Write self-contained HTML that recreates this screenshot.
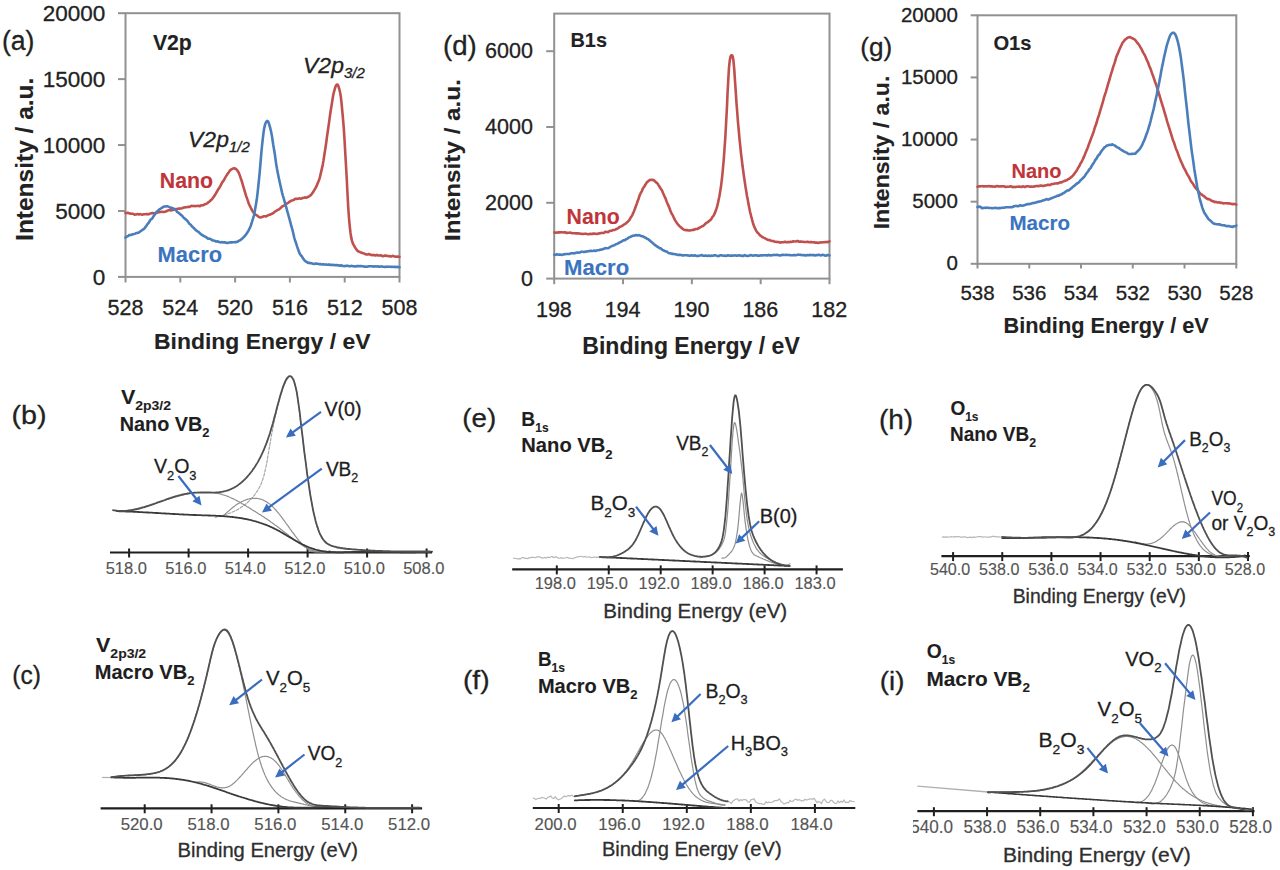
<!DOCTYPE html>
<html><head><meta charset="utf-8"><style>
html,body{margin:0;padding:0;background:#fff;}
svg{display:block;font-family:"Liberation Sans",sans-serif;}
</style></head><body>
<svg width="1280" height="870" viewBox="0 0 1280 870">
<defs><filter id="bl" x="0" y="0" width="1280" height="870" filterUnits="userSpaceOnUse"><feGaussianBlur stdDeviation="0"/></filter></defs>
<rect width="1280" height="870" fill="#fff"/>
<g>
<rect width="1280" height="870" fill="#fff"/>
<rect x="125.50" y="13.20" width="274.00" height="263.70" fill="none" stroke="#919191" stroke-width="2.0"/>
<line x1="118.00" y1="276.90" x2="125.50" y2="276.90" stroke="#919191" stroke-width="2.0"/>
<line x1="118.00" y1="210.97" x2="125.50" y2="210.97" stroke="#919191" stroke-width="2.0"/>
<line x1="118.00" y1="145.05" x2="125.50" y2="145.05" stroke="#919191" stroke-width="2.0"/>
<line x1="118.00" y1="79.12" x2="125.50" y2="79.12" stroke="#919191" stroke-width="2.0"/>
<line x1="118.00" y1="13.20" x2="125.50" y2="13.20" stroke="#919191" stroke-width="2.0"/>
<line x1="125.50" y1="276.90" x2="125.50" y2="282.50" stroke="#919191" stroke-width="2.0"/>
<line x1="180.30" y1="276.90" x2="180.30" y2="282.50" stroke="#919191" stroke-width="2.0"/>
<line x1="235.10" y1="276.90" x2="235.10" y2="282.50" stroke="#919191" stroke-width="2.0"/>
<line x1="289.90" y1="276.90" x2="289.90" y2="282.50" stroke="#919191" stroke-width="2.0"/>
<line x1="344.70" y1="276.90" x2="344.70" y2="282.50" stroke="#919191" stroke-width="2.0"/>
<line x1="399.50" y1="276.90" x2="399.50" y2="282.50" stroke="#919191" stroke-width="2.0"/>
<g transform="translate(93.60,284.70) scale(1.0000,1) translate(-0.90,0)" fill="#222222" font-weight="normal" font-style="normal" stroke="#222222" stroke-width="0.3" stroke-linejoin="round"><text x="0.00" y="0.00" font-size="22.50">0</text></g>
<g transform="translate(56.03,218.77) scale(1.0000,1) translate(-0.90,0)" fill="#222222" font-weight="normal" font-style="normal" stroke="#222222" stroke-width="0.3" stroke-linejoin="round"><text x="0.00" y="0.00" font-size="22.50">5000</text></g>
<g transform="translate(44.33,152.85) scale(1.0000,1) translate(-1.69,0)" fill="#222222" font-weight="normal" font-style="normal" stroke="#222222" stroke-width="0.3" stroke-linejoin="round"><text x="0.00" y="0.00" font-size="22.50">10000</text></g>
<g transform="translate(44.33,86.92) scale(1.0000,1) translate(-1.69,0)" fill="#222222" font-weight="normal" font-style="normal" stroke="#222222" stroke-width="0.3" stroke-linejoin="round"><text x="0.00" y="0.00" font-size="22.50">15000</text></g>
<g transform="translate(43.76,21.00) scale(1.0000,1) translate(-1.12,0)" fill="#222222" font-weight="normal" font-style="normal" stroke="#222222" stroke-width="0.3" stroke-linejoin="round"><text x="0.00" y="0.00" font-size="22.50">20000</text></g>
<g transform="translate(108.46,315.30) scale(1.0000,1) translate(-0.86,0)" fill="#222222" font-weight="normal" font-style="normal" stroke="#222222" stroke-width="0.3" stroke-linejoin="round"><text x="0.00" y="0.00" font-size="21.50">528</text></g>
<g transform="translate(163.15,315.30) scale(1.0000,1) translate(-0.86,0)" fill="#222222" font-weight="normal" font-style="normal" stroke="#222222" stroke-width="0.3" stroke-linejoin="round"><text x="0.00" y="0.00" font-size="21.50">524</text></g>
<g transform="translate(218.01,315.30) scale(1.0000,1) translate(-0.86,0)" fill="#222222" font-weight="normal" font-style="normal" stroke="#222222" stroke-width="0.3" stroke-linejoin="round"><text x="0.00" y="0.00" font-size="21.50">520</text></g>
<g transform="translate(272.86,315.30) scale(1.0000,1) translate(-0.86,0)" fill="#222222" font-weight="normal" font-style="normal" stroke="#222222" stroke-width="0.3" stroke-linejoin="round"><text x="0.00" y="0.00" font-size="21.50">516</text></g>
<g transform="translate(327.77,315.30) scale(1.0000,1) translate(-0.86,0)" fill="#222222" font-weight="normal" font-style="normal" stroke="#222222" stroke-width="0.3" stroke-linejoin="round"><text x="0.00" y="0.00" font-size="21.50">512</text></g>
<g transform="translate(382.46,315.30) scale(1.0000,1) translate(-0.86,0)" fill="#222222" font-weight="normal" font-style="normal" stroke="#222222" stroke-width="0.3" stroke-linejoin="round"><text x="0.00" y="0.00" font-size="21.50">508</text></g>
<g transform="translate(155.50,348.50) scale(0.9971,1) translate(-1.50,0)" fill="#222222" font-weight="bold" font-style="normal" stroke="#222222" stroke-width="0.1" stroke-linejoin="round"><text x="0.00" y="0.00" font-size="23.00">Binding Energy / eV</text></g>
<g transform="translate(32.50,239.30) rotate(-90) scale(1.0645,1) translate(-1.50,0)" fill="#222222" font-weight="bold" font-style="normal" stroke="#222222" stroke-width="0.1" stroke-linejoin="round"><text x="0.00" y="0.00" font-size="23.00">Intensity / a.u.</text></g>
<g transform="translate(3.50,50.30) scale(0.9686,1) translate(-1.65,0)" fill="#222222" font-weight="normal" font-style="normal" stroke="#222222" stroke-width="0.3" stroke-linejoin="round"><text x="0.00" y="0.00" font-size="27.50">(a)</text></g>
<g transform="translate(153.00,50.00) scale(0.9874,1) translate(-0.11,0)" fill="#222222" font-weight="bold" font-style="normal" stroke="#222222" stroke-width="0.1" stroke-linejoin="round"><text x="0.00" y="0.00" font-size="21.50">V2p</text></g>
<g transform="translate(190.00,147.20) scale(1.0686,1) translate(-1.83,0)" fill="#222222" font-weight="normal" font-style="italic" stroke="#222222" stroke-width="0.3" stroke-linejoin="round"><text x="0.00" y="0.00" font-size="21.50">V2p</text><text x="38.26" y="5.00" font-size="14.00">1/2</text></g>
<g transform="translate(305.00,72.80) scale(1.0686,1) translate(-1.83,0)" fill="#222222" font-weight="normal" font-style="italic" stroke="#222222" stroke-width="0.3" stroke-linejoin="round"><text x="0.00" y="0.00" font-size="21.50">V2p</text><text x="38.26" y="5.00" font-size="14.00">3/2</text></g>
<g transform="translate(161.20,187.70) scale(0.9904,1) translate(-1.40,0)" fill="#c0353a" font-weight="bold" font-style="normal" stroke="#c0353a" stroke-width="0.1" stroke-linejoin="round"><text x="0.00" y="0.00" font-size="21.50">Nano</text></g>
<g transform="translate(159.00,262.30) scale(1.0187,1) translate(-1.40,0)" fill="#3a74c0" font-weight="bold" font-style="normal" stroke="#3a74c0" stroke-width="0.1" stroke-linejoin="round"><text x="0.00" y="0.00" font-size="21.50">Macro</text></g>
<path d="M125.5,213.0 126.2,213.1 127.0,212.9 127.8,212.8 128.5,213.1 129.2,213.4 130.0,213.5 130.8,213.6 131.5,213.7 132.2,213.7 133.0,213.8 133.8,214.2 134.5,214.6 135.2,214.6 136.0,214.4 136.8,214.2 137.5,214.1 138.2,214.2 139.0,214.4 139.8,214.2 140.5,214.1 141.2,214.4 142.0,214.7 142.8,214.5 143.5,214.2 144.2,214.2 145.0,214.3 145.8,214.2 146.5,214.0 147.2,214.1 148.0,214.4 148.8,214.3 149.5,213.8 150.2,213.6 151.0,213.4 151.8,213.1 152.5,213.1 153.2,213.3 154.0,213.4 154.8,213.2 155.5,212.9 156.2,212.9 157.0,212.7 157.8,212.4 158.5,212.3 159.2,212.3 160.0,212.1 160.8,211.9 161.5,211.7 162.2,211.8 163.0,212.0 163.8,212.0 164.5,211.8 165.2,211.7 166.0,211.4 166.8,211.0 167.5,210.7 168.2,210.4 169.0,210.1 169.8,210.1 170.5,210.4 171.2,210.4 172.0,210.1 172.8,210.0 173.5,209.6 174.2,209.4 175.0,209.2 175.8,209.0 176.5,209.1 177.2,209.1 178.0,208.7 178.8,208.6 179.5,208.6 180.2,208.6 181.0,208.4 181.8,208.2 182.5,208.0 183.2,207.7 184.0,207.5 184.8,207.4 185.5,207.2 186.2,207.2 187.0,207.1 187.8,206.9 188.5,206.9 189.2,207.0 190.0,206.7 190.8,206.2 191.5,205.8 192.2,205.9 193.0,206.1 193.8,206.0 194.5,206.0 195.2,206.1 196.0,206.0 196.8,206.0 197.5,206.0 198.2,205.8 199.0,205.9 199.8,206.2 200.5,205.9 201.2,205.3 202.0,205.2 202.8,205.3 203.5,205.2 204.2,204.7 205.0,204.2 205.8,203.9 206.5,203.7 207.2,203.2 208.0,202.6 208.8,202.0 209.5,201.5 210.2,200.8 211.0,200.1 211.8,199.3 212.5,198.6 213.2,197.5 214.0,196.4 214.8,195.4 215.5,194.2 216.2,192.9 217.0,191.5 217.8,190.1 218.5,189.1 219.2,188.0 220.0,186.6 220.8,185.3 221.5,183.8 222.2,182.4 223.0,181.4 223.8,180.4 224.5,179.0 225.2,177.6 226.0,176.4 226.8,175.1 227.5,174.1 228.2,173.1 229.0,171.9 229.8,170.7 230.5,170.0 231.2,169.5 232.0,169.1 232.8,168.7 233.5,168.3 234.2,168.3 235.0,168.5 235.8,168.8 236.5,169.5 237.2,170.3 238.0,171.4 238.8,172.9 239.5,174.6 240.2,176.6 241.0,179.0 241.8,181.3 242.5,183.6 243.2,186.2 244.0,188.9 244.8,191.5 245.5,193.8 246.2,196.2 247.0,198.4 247.8,200.6 248.5,203.0 249.2,204.6 250.0,206.1 250.8,207.8 251.5,209.2 252.2,210.6 253.0,211.9 253.8,212.8 254.5,213.6 255.2,214.4 256.0,215.0 256.8,215.3 257.5,215.8 258.2,216.5 259.0,217.0 259.8,217.3 260.5,217.5 261.2,217.3 262.0,217.0 262.8,216.7 263.5,216.4 264.2,216.3 265.0,216.3 265.8,216.4 266.5,216.2 267.2,215.7 268.0,215.3 268.8,214.9 269.5,214.7 270.2,214.6 271.0,214.1 271.8,213.8 272.5,213.6 273.2,213.2 274.0,212.4 274.8,211.7 275.5,211.3 276.2,210.8 277.0,210.4 277.8,209.9 278.5,209.6 279.2,209.1 280.0,208.5 280.8,207.8 281.5,207.1 282.2,206.5 283.0,206.1 283.8,205.8 284.5,205.3 285.2,204.8 286.0,204.1 286.8,203.6 287.5,203.2 288.2,202.7 289.0,202.1 289.8,201.6 290.5,201.1 291.2,200.7 292.0,200.5 292.8,200.3 293.5,200.1 294.2,199.6 295.0,198.9 295.8,198.8 296.5,198.9 297.2,198.7 298.0,198.7 298.8,198.6 299.5,198.3 300.2,198.5 301.0,198.7 301.8,198.4 302.5,198.0 303.2,197.9 304.0,197.7 304.8,197.4 305.5,197.5 306.2,197.8 307.0,197.4 307.8,197.0 308.5,196.7 309.2,196.3 310.0,195.7 310.8,195.2 311.5,194.3 312.2,193.4 313.0,192.3 313.8,190.9 314.5,189.8 315.2,188.7 316.0,187.2 316.8,185.6 317.5,183.8 318.2,182.0 319.0,180.2 319.8,177.6 320.5,174.6 321.2,171.6 322.0,168.1 322.8,164.4 323.5,160.4 324.2,155.8 325.0,150.8 325.8,145.8 326.5,140.5 327.2,135.1 328.0,129.7 328.8,124.4 329.5,119.2 330.2,114.0 331.0,108.8 331.8,104.1 332.5,99.5 333.2,95.2 334.0,91.8 334.8,88.9 335.5,86.7 336.2,85.3 337.0,84.6 337.8,84.8 338.5,86.4 339.2,88.8 340.0,91.9 340.8,96.5 341.5,102.7 342.2,110.2 343.0,118.8 343.8,128.3 344.5,139.4 345.2,151.9 346.0,165.5 346.8,179.8 347.5,193.8 348.2,206.9 349.0,218.2 349.8,226.8 350.5,232.9 351.2,237.4 352.0,240.9 352.8,243.3 353.5,244.7 354.2,245.9 355.0,247.4 355.8,248.5 356.5,249.5 357.2,250.5 358.0,251.1 358.8,251.5 359.5,251.8 360.2,252.3 361.0,252.5 361.8,252.7 362.5,253.0 363.2,253.2 364.0,253.4 364.8,253.8 365.5,254.2 366.2,254.4 367.0,254.5 367.8,254.5 368.5,254.1 369.2,254.0 370.0,254.5 370.8,254.9 371.5,255.0 372.2,255.1 373.0,255.1 373.8,254.9 374.5,255.2 375.2,255.5 376.0,255.2 376.8,254.9 377.5,255.2 378.2,255.4 379.0,255.5 379.8,255.5 380.5,255.4 381.2,255.4 382.0,255.9 382.8,256.3 383.5,256.1 384.2,255.8 385.0,255.6 385.8,255.5 386.5,255.8 387.2,256.0 388.0,256.0 388.8,256.1 389.5,256.3 390.2,256.4 391.0,256.4 391.8,256.2 392.5,255.9 393.2,256.0 394.0,256.3 394.8,256.5 395.5,256.7 396.2,256.8 397.0,256.6 397.8,256.6 398.5,256.7 399.2,256.8 399.5,256.8" fill="none" stroke="#c0504d" stroke-width="2.6" stroke-linejoin="round" stroke-linecap="round" />
<path d="M125.5,237.6 126.2,237.0 127.0,236.5 127.8,236.2 128.5,235.7 129.2,235.1 130.0,235.0 130.8,235.0 131.5,234.7 132.2,234.4 133.0,234.3 133.8,234.1 134.5,233.9 135.2,233.6 136.0,233.2 136.8,233.0 137.5,232.9 138.2,232.8 139.0,232.4 139.8,231.7 140.5,231.2 141.2,230.8 142.0,230.2 142.8,229.6 143.5,229.3 144.2,228.6 145.0,227.6 145.8,226.6 146.5,225.7 147.2,224.5 148.0,223.5 148.8,222.7 149.5,221.5 150.2,220.1 151.0,219.3 151.8,218.8 152.5,218.0 153.2,216.8 154.0,215.6 154.8,214.5 155.5,213.5 156.2,212.5 157.0,211.6 157.8,210.8 158.5,210.2 159.2,209.6 160.0,209.0 160.8,208.5 161.5,208.0 162.2,207.7 163.0,207.2 163.8,206.6 164.5,206.5 165.2,206.5 166.0,206.4 166.8,206.3 167.5,206.3 168.2,206.6 169.0,206.9 169.8,207.3 170.5,207.7 171.2,207.8 172.0,207.9 172.8,208.2 173.5,208.6 174.2,209.1 175.0,209.8 175.8,210.2 176.5,210.9 177.2,211.9 178.0,212.4 178.8,213.0 179.5,213.6 180.2,214.3 181.0,214.9 181.8,215.5 182.5,216.2 183.2,217.1 184.0,218.0 184.8,218.6 185.5,219.2 186.2,219.8 187.0,220.5 187.8,221.4 188.5,222.6 189.2,223.6 190.0,224.2 190.8,224.8 191.5,225.8 192.2,226.6 193.0,227.3 193.8,228.1 194.5,228.7 195.2,229.5 196.0,230.3 196.8,230.9 197.5,231.3 198.2,231.8 199.0,232.4 199.8,233.2 200.5,233.9 201.2,234.4 202.0,234.9 202.8,235.4 203.5,235.9 204.2,236.3 205.0,236.6 205.8,237.0 206.5,237.4 207.2,238.0 208.0,238.6 208.8,238.7 209.5,238.6 210.2,238.9 211.0,239.3 211.8,240.0 212.5,240.4 213.2,240.4 214.0,240.6 214.8,240.9 215.5,241.2 216.2,241.6 217.0,241.4 217.8,241.4 218.5,241.8 219.2,242.1 220.0,242.3 220.8,242.4 221.5,242.1 222.2,242.1 223.0,242.4 223.8,242.5 224.5,242.3 225.2,242.4 226.0,242.8 226.8,242.9 227.5,242.9 228.2,242.9 229.0,242.6 229.8,242.4 230.5,242.4 231.2,242.4 232.0,242.4 232.8,242.3 233.5,242.3 234.2,242.2 235.0,242.1 235.8,242.1 236.5,242.1 237.2,241.8 238.0,241.3 238.8,240.8 239.5,240.4 240.2,240.2 241.0,239.7 241.8,238.9 242.5,238.3 243.2,237.6 244.0,236.8 244.8,236.0 245.5,235.2 246.2,234.2 247.0,232.9 247.8,231.8 248.5,230.6 249.2,229.2 250.0,227.6 250.8,225.7 251.5,223.5 252.2,221.1 253.0,218.6 253.8,215.9 254.5,212.7 255.2,208.8 256.0,204.3 256.8,199.3 257.5,193.6 258.2,187.0 259.0,179.4 259.8,171.2 260.5,162.9 261.2,154.4 262.0,146.0 262.8,138.7 263.5,132.8 264.2,128.2 265.0,124.8 265.8,122.6 266.5,121.5 267.2,120.9 268.0,121.4 268.8,123.1 269.5,125.3 270.2,127.9 271.0,131.2 271.8,135.2 272.5,139.7 273.2,144.5 274.0,149.2 274.8,154.0 275.5,159.1 276.2,164.1 277.0,168.8 277.8,172.9 278.5,176.4 279.2,179.7 280.0,183.4 280.8,187.0 281.5,190.1 282.2,193.1 283.0,196.1 283.8,198.6 284.5,201.2 285.2,203.7 286.0,206.4 286.8,209.4 287.5,212.0 288.2,214.4 289.0,217.3 289.8,220.1 290.5,222.9 291.2,225.7 292.0,228.4 292.8,231.2 293.5,234.3 294.2,237.5 295.0,240.2 295.8,242.3 296.5,244.5 297.2,246.9 298.0,249.1 298.8,251.2 299.5,253.1 300.2,254.5 301.0,255.4 301.8,256.4 302.5,257.6 303.2,258.6 304.0,259.6 304.8,260.6 305.5,261.3 306.2,261.6 307.0,262.1 307.8,262.7 308.5,262.9 309.2,262.8 310.0,263.1 310.8,263.3 311.5,263.3 312.2,263.5 313.0,263.8 313.8,264.0 314.5,263.9 315.2,263.6 316.0,263.6 316.8,263.8 317.5,263.8 318.2,263.9 319.0,264.1 319.8,264.1 320.5,264.0 321.2,264.2 322.0,264.4 322.8,264.4 323.5,264.4 324.2,264.5 325.0,264.5 325.8,264.5 326.5,264.6 327.2,264.8 328.0,264.7 328.8,264.4 329.5,264.7 330.2,265.0 331.0,264.9 331.8,264.9 332.5,265.0 333.2,264.9 334.0,265.0 334.8,265.3 335.5,265.3 336.2,265.0 337.0,265.1 337.8,265.4 338.5,265.3 339.2,265.5 340.0,265.8 340.8,265.4 341.5,265.3 342.2,265.9 343.0,266.0 343.8,266.0 344.5,266.1 345.2,266.0 346.0,265.9 346.8,265.8 347.5,265.8 348.2,265.9 349.0,266.1 349.8,266.2 350.5,266.1 351.2,265.9 352.0,266.0 352.8,266.3 353.5,266.2 354.2,266.2 355.0,266.4 355.8,266.5 356.5,266.3 357.2,266.0 358.0,266.0 358.8,266.3 359.5,266.3 360.2,266.0 361.0,266.0 361.8,266.2 362.5,266.3 363.2,266.4 364.0,266.6 364.8,266.6 365.5,266.6 366.2,266.8 367.0,266.7 367.8,266.5 368.5,266.4 369.2,266.3 370.0,266.2 370.8,266.3 371.5,266.3 372.2,266.3 373.0,266.6 373.8,266.5 374.5,266.2 375.2,266.4 376.0,266.5 376.8,266.5 377.5,266.4 378.2,266.4 379.0,266.8 379.8,266.8 380.5,266.5 381.2,266.4 382.0,266.6 382.8,266.8 383.5,266.7 384.2,266.8 385.0,267.0 385.8,266.9 386.5,266.7 387.2,266.6 388.0,266.7 388.8,266.7 389.5,266.7 390.2,266.8 391.0,266.9 391.8,266.8 392.5,266.8 393.2,267.0 394.0,267.0 394.8,266.7 395.5,266.8 396.2,267.1 397.0,267.0 397.8,266.9 398.5,267.1 399.2,267.3 399.5,267.1" fill="none" stroke="#4a7ebb" stroke-width="2.6" stroke-linejoin="round" stroke-linecap="round" />
<rect x="554.20" y="13.60" width="275.30" height="265.00" fill="none" stroke="#919191" stroke-width="2.0"/>
<line x1="546.20" y1="278.60" x2="554.20" y2="278.60" stroke="#919191" stroke-width="2.0"/>
<line x1="546.20" y1="202.80" x2="554.20" y2="202.80" stroke="#919191" stroke-width="2.0"/>
<line x1="546.20" y1="127.00" x2="554.20" y2="127.00" stroke="#919191" stroke-width="2.0"/>
<line x1="546.20" y1="51.20" x2="554.20" y2="51.20" stroke="#919191" stroke-width="2.0"/>
<line x1="554.20" y1="278.60" x2="554.20" y2="284.20" stroke="#919191" stroke-width="2.0"/>
<line x1="623.03" y1="278.60" x2="623.03" y2="284.20" stroke="#919191" stroke-width="2.0"/>
<line x1="691.85" y1="278.60" x2="691.85" y2="284.20" stroke="#919191" stroke-width="2.0"/>
<line x1="760.67" y1="278.60" x2="760.67" y2="284.20" stroke="#919191" stroke-width="2.0"/>
<line x1="829.50" y1="278.60" x2="829.50" y2="284.20" stroke="#919191" stroke-width="2.0"/>
<g transform="translate(521.88,285.60) scale(1.0000,1) translate(-0.86,0)" fill="#222222" font-weight="normal" font-style="normal" stroke="#222222" stroke-width="0.3" stroke-linejoin="round"><text x="0.00" y="0.00" font-size="21.50">0</text></g>
<g transform="translate(486.19,209.80) scale(1.0000,1) translate(-1.07,0)" fill="#222222" font-weight="normal" font-style="normal" stroke="#222222" stroke-width="0.3" stroke-linejoin="round"><text x="0.00" y="0.00" font-size="21.50">2000</text></g>
<g transform="translate(485.55,134.00) scale(1.0000,1) translate(-0.43,0)" fill="#222222" font-weight="normal" font-style="normal" stroke="#222222" stroke-width="0.3" stroke-linejoin="round"><text x="0.00" y="0.00" font-size="21.50">4000</text></g>
<g transform="translate(486.19,58.20) scale(1.0000,1) translate(-1.07,0)" fill="#222222" font-weight="normal" font-style="normal" stroke="#222222" stroke-width="0.3" stroke-linejoin="round"><text x="0.00" y="0.00" font-size="21.50">6000</text></g>
<g transform="translate(537.54,317.30) scale(1.0000,1) translate(-1.61,0)" fill="#222222" font-weight="normal" font-style="normal" stroke="#222222" stroke-width="0.3" stroke-linejoin="round"><text x="0.00" y="0.00" font-size="21.50">198</text></g>
<g transform="translate(606.26,317.30) scale(1.0000,1) translate(-1.61,0)" fill="#222222" font-weight="normal" font-style="normal" stroke="#222222" stroke-width="0.3" stroke-linejoin="round"><text x="0.00" y="0.00" font-size="21.50">194</text></g>
<g transform="translate(675.13,317.30) scale(1.0000,1) translate(-1.61,0)" fill="#222222" font-weight="normal" font-style="normal" stroke="#222222" stroke-width="0.3" stroke-linejoin="round"><text x="0.00" y="0.00" font-size="21.50">190</text></g>
<g transform="translate(744.01,317.30) scale(1.0000,1) translate(-1.61,0)" fill="#222222" font-weight="normal" font-style="normal" stroke="#222222" stroke-width="0.3" stroke-linejoin="round"><text x="0.00" y="0.00" font-size="21.50">186</text></g>
<g transform="translate(812.95,317.30) scale(1.0000,1) translate(-1.61,0)" fill="#222222" font-weight="normal" font-style="normal" stroke="#222222" stroke-width="0.3" stroke-linejoin="round"><text x="0.00" y="0.00" font-size="21.50">182</text></g>
<g transform="translate(583.80,353.50) scale(1.0017,1) translate(-1.50,0)" fill="#222222" font-weight="bold" font-style="normal" stroke="#222222" stroke-width="0.1" stroke-linejoin="round"><text x="0.00" y="0.00" font-size="23.00">Binding Energy / eV</text></g>
<g transform="translate(460.00,239.30) rotate(-90) scale(1.1032,1) translate(-1.43,0)" fill="#222222" font-weight="bold" font-style="normal" stroke="#222222" stroke-width="0.1" stroke-linejoin="round"><text x="0.00" y="0.00" font-size="22.00">Intensity / a.u.</text></g>
<g transform="translate(444.60,54.60) scale(1.0050,1) translate(-1.65,0)" fill="#222222" font-weight="normal" font-style="normal" stroke="#222222" stroke-width="0.3" stroke-linejoin="round"><text x="0.00" y="0.00" font-size="27.50">(d)</text></g>
<g transform="translate(571.80,46.70) scale(0.9469,1) translate(-1.36,0)" fill="#222222" font-weight="bold" font-style="normal" stroke="#222222" stroke-width="0.1" stroke-linejoin="round"><text x="0.00" y="0.00" font-size="21.00">B1s</text></g>
<g transform="translate(568.00,223.50) scale(0.9904,1) translate(-1.40,0)" fill="#c0353a" font-weight="bold" font-style="normal" stroke="#c0353a" stroke-width="0.1" stroke-linejoin="round"><text x="0.00" y="0.00" font-size="21.50">Nano</text></g>
<g transform="translate(565.50,275.20) scale(1.0285,1) translate(-1.40,0)" fill="#3a74c0" font-weight="bold" font-style="normal" stroke="#3a74c0" stroke-width="0.1" stroke-linejoin="round"><text x="0.00" y="0.00" font-size="21.50">Macro</text></g>
<path d="M554.3,232.5 555.0,232.6 555.8,232.7 556.5,232.5 557.3,232.5 558.0,232.6 558.8,232.3 559.5,232.2 560.3,232.4 561.0,232.3 561.8,232.2 562.5,232.3 563.3,232.5 564.0,232.5 564.8,232.3 565.5,232.4 566.3,233.0 567.0,233.0 567.8,232.7 568.5,232.7 569.3,232.7 570.0,232.6 570.8,232.7 571.5,232.9 572.3,233.3 573.0,233.3 573.8,233.2 574.5,233.2 575.3,233.2 576.0,233.4 576.8,233.4 577.5,233.4 578.3,233.4 579.0,233.5 579.8,233.6 580.5,233.7 581.3,233.8 582.0,233.9 582.8,234.0 583.5,234.0 584.3,233.8 585.0,233.7 585.8,233.8 586.5,233.9 587.3,234.1 588.0,234.2 588.8,234.2 589.5,234.0 590.3,233.8 591.0,233.9 591.8,234.1 592.5,233.9 593.3,233.5 594.0,233.5 594.8,233.7 595.5,233.8 596.3,233.9 597.0,234.0 597.8,233.8 598.5,233.5 599.3,233.4 600.0,233.4 600.8,233.1 601.5,232.9 602.3,233.0 603.0,233.0 603.8,232.9 604.5,232.4 605.3,231.9 606.0,231.9 606.8,231.9 607.5,232.1 608.3,232.1 609.0,231.4 609.8,230.9 610.5,230.7 611.3,230.8 612.0,230.5 612.8,230.1 613.5,230.0 614.3,230.0 615.0,229.7 615.8,229.3 616.5,229.0 617.3,228.7 618.0,228.2 618.8,227.6 619.5,227.1 620.3,226.7 621.0,226.4 621.8,226.1 622.5,225.6 623.3,225.0 624.0,224.5 624.8,224.1 625.5,223.7 626.3,223.0 627.0,222.3 627.8,221.7 628.5,221.0 629.3,220.1 630.0,218.8 630.8,217.4 631.5,216.4 632.3,215.1 633.0,213.4 633.8,211.7 634.5,209.9 635.3,207.8 636.0,205.7 636.8,203.7 637.5,201.6 638.3,199.6 639.0,197.3 639.8,195.0 640.5,193.4 641.3,192.2 642.0,190.7 642.8,188.8 643.5,187.5 644.3,186.6 645.0,185.3 645.8,184.0 646.5,182.8 647.3,181.9 648.0,181.4 648.8,180.8 649.5,180.1 650.3,179.9 651.0,180.0 651.8,179.9 652.5,179.9 653.3,180.0 654.0,180.4 654.8,181.1 655.5,181.9 656.3,182.5 657.0,183.1 657.8,183.9 658.5,185.1 659.3,186.3 660.0,187.6 660.8,188.7 661.5,189.7 662.3,191.1 663.0,193.0 663.8,194.7 664.5,196.3 665.3,197.8 666.0,199.7 666.8,201.9 667.5,203.6 668.3,205.2 669.0,207.1 669.8,209.0 670.5,211.0 671.3,212.8 672.0,214.1 672.8,215.4 673.5,217.0 674.3,218.6 675.0,220.1 675.8,221.4 676.5,222.5 677.3,223.5 678.0,224.5 678.8,225.4 679.5,226.2 680.3,226.8 681.0,227.4 681.8,228.1 682.5,228.7 683.3,229.3 684.0,229.7 684.8,229.9 685.5,230.1 686.3,230.0 687.0,230.0 687.8,230.4 688.5,230.5 689.3,230.5 690.0,230.4 690.8,230.3 691.5,230.2 692.3,230.0 693.0,229.9 693.8,229.9 694.5,229.5 695.3,229.1 696.0,229.0 696.8,229.0 697.5,228.9 698.3,228.5 699.0,227.9 699.8,227.5 700.5,227.2 701.3,226.8 702.0,226.3 702.8,226.0 703.5,225.6 704.3,224.8 705.0,224.1 705.8,223.4 706.5,222.8 707.3,222.4 708.0,222.0 708.8,221.4 709.5,220.7 710.3,220.0 711.0,219.4 711.8,218.2 712.5,216.9 713.3,216.0 714.0,214.8 714.8,213.2 715.5,211.2 716.3,209.2 717.0,206.9 717.8,203.9 718.5,200.5 719.3,196.8 720.0,192.6 720.8,187.8 721.5,182.3 722.3,175.5 723.0,167.8 723.8,159.0 724.5,149.0 725.3,137.8 726.0,124.9 726.8,110.2 727.5,94.4 728.3,79.4 729.0,67.6 729.8,60.2 730.5,56.5 731.3,55.2 732.0,55.2 732.8,56.7 733.5,61.3 734.3,69.8 735.0,80.8 735.8,92.3 736.5,103.1 737.3,113.2 738.0,122.4 738.8,130.8 739.5,138.9 740.3,146.4 741.0,153.3 741.8,159.7 742.5,165.8 743.3,171.4 744.0,176.8 744.8,182.0 745.5,186.8 746.3,191.5 747.0,196.0 747.8,200.1 748.5,204.1 749.3,208.1 750.0,211.6 750.8,214.8 751.5,217.7 752.3,220.5 753.0,223.2 753.8,225.5 754.5,227.4 755.3,228.9 756.0,230.4 756.8,231.7 757.5,232.6 758.3,233.3 759.0,234.2 759.8,235.1 760.5,235.6 761.3,236.2 762.0,236.8 762.8,237.3 763.5,237.6 764.3,237.9 765.0,238.2 765.8,238.8 766.5,239.3 767.3,239.5 768.0,239.9 768.8,240.1 769.5,240.1 770.3,240.3 771.0,240.7 771.8,241.0 772.5,241.0 773.3,241.0 774.0,241.4 774.8,241.7 775.5,241.8 776.3,241.9 777.0,242.0 777.8,242.0 778.5,242.0 779.3,242.3 780.0,242.6 780.8,242.5 781.5,242.2 782.3,242.2 783.0,242.3 783.8,242.3 784.5,241.7 785.3,241.8 786.0,242.3 786.8,242.2 787.5,242.0 788.3,242.1 789.0,242.1 789.8,242.0 790.5,241.9 791.3,242.0 792.0,241.8 792.8,241.4 793.5,241.4 794.3,241.5 795.0,241.5 795.8,241.5 796.5,241.3 797.3,240.9 798.0,241.2 798.8,241.7 799.5,241.7 800.3,241.5 801.0,241.6 801.8,241.8 802.5,241.7 803.3,241.8 804.0,242.0 804.8,242.0 805.5,242.0 806.3,242.0 807.0,241.9 807.8,241.8 808.5,242.0 809.3,242.2 810.0,242.1 810.8,242.1 811.5,242.1 812.3,242.2 813.0,242.2 813.8,242.2 814.5,242.5 815.3,242.6 816.0,242.6 816.8,242.5 817.5,242.8 818.3,243.0 819.0,242.7 819.8,242.4 820.5,242.5 821.3,242.5 822.0,242.4 822.8,242.3 823.5,242.2 824.3,242.2 825.0,242.1 825.8,242.0 826.5,242.0 827.3,242.1 828.0,242.2 828.8,241.7 829.5,241.3" fill="none" stroke="#c0504d" stroke-width="2.6" stroke-linejoin="round" stroke-linecap="round" />
<path d="M554.3,254.8 555.0,254.9 555.8,254.8 556.5,254.4 557.3,254.3 558.0,254.7 558.8,254.8 559.5,254.6 560.3,254.6 561.0,254.8 561.8,254.9 562.5,254.7 563.3,254.4 564.0,254.4 564.8,254.3 565.5,254.1 566.3,254.0 567.0,254.0 567.8,254.0 568.5,254.0 569.3,254.0 570.0,253.8 570.8,253.4 571.5,253.3 572.3,253.3 573.0,253.2 573.8,253.4 574.5,253.3 575.3,253.0 576.0,252.9 576.8,252.6 577.5,252.4 578.3,252.7 579.0,252.7 579.8,252.5 580.5,252.1 581.3,251.7 582.0,251.7 582.8,251.8 583.5,252.0 584.3,252.0 585.0,251.7 585.8,251.5 586.5,251.6 587.3,251.4 588.0,251.2 588.8,251.3 589.5,251.1 590.3,250.8 591.0,250.8 591.8,251.0 592.5,251.0 593.3,250.8 594.0,250.6 594.8,250.7 595.5,251.0 596.3,250.8 597.0,250.3 597.8,250.3 598.5,250.3 599.3,250.0 600.0,249.7 600.8,249.6 601.5,249.6 602.3,249.4 603.0,249.1 603.8,248.9 604.5,248.4 605.3,248.1 606.0,248.3 606.8,248.3 607.5,248.2 608.3,248.1 609.0,247.8 609.8,247.2 610.5,246.7 611.3,246.3 612.0,245.9 612.8,245.7 613.5,245.5 614.3,245.3 615.0,244.8 615.8,244.2 616.5,244.0 617.3,243.7 618.0,243.4 618.8,242.9 619.5,242.5 620.3,242.2 621.0,241.8 621.8,241.3 622.5,240.9 623.3,240.4 624.0,240.3 624.8,240.2 625.5,239.6 626.3,239.2 627.0,238.9 627.8,238.3 628.5,237.7 629.3,237.3 630.0,237.1 630.8,236.8 631.5,236.3 632.3,235.9 633.0,235.8 633.8,235.8 634.5,235.5 635.3,235.2 636.0,235.0 636.8,235.2 637.5,235.5 638.3,235.3 639.0,235.1 639.8,235.4 640.5,235.8 641.3,236.1 642.0,236.2 642.8,236.3 643.5,236.7 644.3,237.1 645.0,237.5 645.8,237.9 646.5,238.3 647.3,238.8 648.0,239.2 648.8,239.7 649.5,240.3 650.3,241.0 651.0,241.6 651.8,242.2 652.5,242.9 653.3,243.6 654.0,244.2 654.8,244.8 655.5,245.4 656.3,245.9 657.0,246.5 657.8,246.9 658.5,247.3 659.3,248.0 660.0,248.2 660.8,248.3 661.5,249.1 662.3,249.7 663.0,250.2 663.8,250.5 664.5,250.9 665.3,251.3 666.0,251.4 666.8,251.6 667.5,252.2 668.3,252.8 669.0,253.2 669.8,253.3 670.5,253.4 671.3,253.6 672.0,253.9 672.8,253.9 673.5,253.9 674.3,254.1 675.0,254.2 675.8,254.2 676.5,254.5 677.3,254.7 678.0,254.9 678.8,254.9 679.5,254.9 680.3,254.9 681.0,255.0 681.8,255.2 682.5,255.4 683.3,255.4 684.0,255.3 684.8,255.2 685.5,255.2 686.3,255.2 687.0,255.2 687.8,255.4 688.5,255.5 689.3,255.7 690.0,255.8 690.8,255.6 691.5,255.3 692.3,255.3 693.0,255.7 693.8,255.7 694.5,255.3 695.3,255.4 696.0,255.7 696.8,255.9 697.5,256.0 698.3,255.9 699.0,255.8 699.8,255.6 700.5,255.4 701.3,255.1 702.0,255.1 702.8,255.7 703.5,255.8 704.3,255.7 705.0,255.6 705.8,255.6 706.5,255.8 707.3,256.0 708.0,255.8 708.8,255.6 709.5,255.8 710.3,256.0 711.0,255.7 711.8,255.6 712.5,255.7 713.3,255.7 714.0,255.4 714.8,255.3 715.5,255.3 716.3,255.6 717.0,255.9 717.8,256.1 718.5,256.1 719.3,255.7 720.0,255.4 720.8,255.3 721.5,255.3 722.3,255.6 723.0,255.8 723.8,255.7 724.5,255.6 725.3,255.7 726.0,255.9 726.8,255.8 727.5,255.4 728.3,255.3 729.0,255.5 729.8,255.7 730.5,255.6 731.3,255.6 732.0,255.8 732.8,255.6 733.5,255.5 734.3,255.5 735.0,255.4 735.8,255.5 736.5,255.6 737.3,255.6 738.0,255.5 738.8,255.4 739.5,255.4 740.3,255.6 741.0,255.6 741.8,255.7 742.5,255.9 743.3,256.0 744.0,255.5 744.8,255.1 745.5,255.4 746.3,255.8 747.0,256.0 747.8,256.0 748.5,255.8 749.3,255.7 750.0,255.3 750.8,255.1 751.5,255.2 752.3,255.5 753.0,255.7 753.8,255.5 754.5,255.4 755.3,255.3 756.0,255.3 756.8,255.5 757.5,255.7 758.3,255.6 759.0,255.5 759.8,255.6 760.5,255.4 761.3,255.4 762.0,255.5 762.8,255.4 763.5,255.3 764.3,255.3 765.0,255.3 765.8,255.3 766.5,255.4 767.3,255.5 768.0,255.1 768.8,254.9 769.5,255.3 770.3,255.4 771.0,255.4 771.8,255.3 772.5,255.2 773.3,255.0 774.0,254.9 774.8,255.0 775.5,255.0 776.3,254.9 777.0,254.9 777.8,255.1 778.5,255.1 779.3,255.2 780.0,255.4 780.8,255.4 781.5,255.1 782.3,254.8 783.0,254.9 783.8,255.0 784.5,255.0 785.3,255.0 786.0,254.9 786.8,254.9 787.5,255.0 788.3,255.0 789.0,255.0 789.8,255.1 790.5,255.2 791.3,255.3 792.0,255.3 792.8,255.2 793.5,255.1 794.3,255.1 795.0,255.3 795.8,255.3 796.5,255.1 797.3,254.9 798.0,254.6 798.8,254.7 799.5,254.8 800.3,254.9 801.0,255.0 801.8,255.0 802.5,255.1 803.3,255.2 804.0,255.1 804.8,255.2 805.5,255.5 806.3,255.4 807.0,255.1 807.8,255.1 808.5,255.3 809.3,255.2 810.0,254.7 810.8,254.9 811.5,255.2 812.3,255.1 813.0,254.9 813.8,255.1 814.5,255.5 815.3,255.4 816.0,255.1 816.8,255.0 817.5,255.1 818.3,254.9 819.0,254.8 819.8,255.1 820.5,255.4 821.3,255.3 822.0,255.0 822.8,254.9 823.5,255.0 824.3,255.2 825.0,255.5 825.8,255.7 826.5,255.4 827.3,255.0 828.0,255.1 828.8,255.4 829.5,255.5" fill="none" stroke="#4a7ebb" stroke-width="2.6" stroke-linejoin="round" stroke-linecap="round" />
<rect x="977.50" y="15.30" width="258.80" height="248.50" fill="none" stroke="#919191" stroke-width="2.0"/>
<line x1="970.70" y1="263.80" x2="977.50" y2="263.80" stroke="#919191" stroke-width="2.0"/>
<line x1="970.70" y1="201.68" x2="977.50" y2="201.68" stroke="#919191" stroke-width="2.0"/>
<line x1="970.70" y1="139.55" x2="977.50" y2="139.55" stroke="#919191" stroke-width="2.0"/>
<line x1="970.70" y1="77.43" x2="977.50" y2="77.43" stroke="#919191" stroke-width="2.0"/>
<line x1="970.70" y1="15.30" x2="977.50" y2="15.30" stroke="#919191" stroke-width="2.0"/>
<line x1="977.50" y1="263.80" x2="977.50" y2="268.50" stroke="#919191" stroke-width="2.0"/>
<line x1="1029.26" y1="263.80" x2="1029.26" y2="268.50" stroke="#919191" stroke-width="2.0"/>
<line x1="1081.02" y1="263.80" x2="1081.02" y2="268.50" stroke="#919191" stroke-width="2.0"/>
<line x1="1132.78" y1="263.80" x2="1132.78" y2="268.50" stroke="#919191" stroke-width="2.0"/>
<line x1="1184.54" y1="263.80" x2="1184.54" y2="268.50" stroke="#919191" stroke-width="2.0"/>
<line x1="1236.30" y1="263.80" x2="1236.30" y2="268.50" stroke="#919191" stroke-width="2.0"/>
<g transform="translate(947.36,270.20) scale(1.0000,1) translate(-0.82,0)" fill="#222222" font-weight="normal" font-style="normal" stroke="#222222" stroke-width="0.3" stroke-linejoin="round"><text x="0.00" y="0.00" font-size="20.50">0</text></g>
<g transform="translate(913.12,208.08) scale(1.0000,1) translate(-0.82,0)" fill="#222222" font-weight="normal" font-style="normal" stroke="#222222" stroke-width="0.3" stroke-linejoin="round"><text x="0.00" y="0.00" font-size="20.50">5000</text></g>
<g transform="translate(902.47,145.95) scale(1.0000,1) translate(-1.54,0)" fill="#222222" font-weight="normal" font-style="normal" stroke="#222222" stroke-width="0.3" stroke-linejoin="round"><text x="0.00" y="0.00" font-size="20.50">10000</text></g>
<g transform="translate(902.47,83.83) scale(1.0000,1) translate(-1.54,0)" fill="#222222" font-weight="normal" font-style="normal" stroke="#222222" stroke-width="0.3" stroke-linejoin="round"><text x="0.00" y="0.00" font-size="20.50">15000</text></g>
<g transform="translate(901.95,21.70) scale(1.0000,1) translate(-1.03,0)" fill="#222222" font-weight="normal" font-style="normal" stroke="#222222" stroke-width="0.3" stroke-linejoin="round"><text x="0.00" y="0.00" font-size="20.50">20000</text></g>
<g transform="translate(961.25,299.80) scale(1.0000,1) translate(-0.82,0)" fill="#222222" font-weight="normal" font-style="normal" stroke="#222222" stroke-width="0.3" stroke-linejoin="round"><text x="0.00" y="0.00" font-size="20.50">538</text></g>
<g transform="translate(1013.01,299.80) scale(1.0000,1) translate(-0.82,0)" fill="#222222" font-weight="normal" font-style="normal" stroke="#222222" stroke-width="0.3" stroke-linejoin="round"><text x="0.00" y="0.00" font-size="20.50">536</text></g>
<g transform="translate(1064.67,299.80) scale(1.0000,1) translate(-0.82,0)" fill="#222222" font-weight="normal" font-style="normal" stroke="#222222" stroke-width="0.3" stroke-linejoin="round"><text x="0.00" y="0.00" font-size="20.50">534</text></g>
<g transform="translate(1116.64,299.80) scale(1.0000,1) translate(-0.82,0)" fill="#222222" font-weight="normal" font-style="normal" stroke="#222222" stroke-width="0.3" stroke-linejoin="round"><text x="0.00" y="0.00" font-size="20.50">532</text></g>
<g transform="translate(1168.24,299.80) scale(1.0000,1) translate(-0.82,0)" fill="#222222" font-weight="normal" font-style="normal" stroke="#222222" stroke-width="0.3" stroke-linejoin="round"><text x="0.00" y="0.00" font-size="20.50">530</text></g>
<g transform="translate(1220.05,299.80) scale(1.0000,1) translate(-0.82,0)" fill="#222222" font-weight="normal" font-style="normal" stroke="#222222" stroke-width="0.3" stroke-linejoin="round"><text x="0.00" y="0.00" font-size="20.50">528</text></g>
<g transform="translate(1005.00,332.50) scale(0.9876,1) translate(-1.43,0)" fill="#222222" font-weight="bold" font-style="normal" stroke="#222222" stroke-width="0.1" stroke-linejoin="round"><text x="0.00" y="0.00" font-size="22.00">Binding Energy / eV</text></g>
<g transform="translate(889.00,227.80) rotate(-90) scale(1.0475,1) translate(-1.43,0)" fill="#222222" font-weight="bold" font-style="normal" stroke="#222222" stroke-width="0.1" stroke-linejoin="round"><text x="0.00" y="0.00" font-size="22.00">Intensity / a.u.</text></g>
<g transform="translate(861.80,56.30) scale(0.9880,1) translate(-1.59,0)" fill="#222222" font-weight="normal" font-style="normal" stroke="#222222" stroke-width="0.3" stroke-linejoin="round"><text x="0.00" y="0.00" font-size="26.50">(g)</text></g>
<g transform="translate(994.20,49.50) scale(0.9837,1) translate(-0.82,0)" fill="#222222" font-weight="bold" font-style="normal" stroke="#222222" stroke-width="0.1" stroke-linejoin="round"><text x="0.00" y="0.00" font-size="20.50">O1s</text></g>
<g transform="translate(1012.80,178.30) scale(0.9776,1) translate(-1.33,0)" fill="#c0353a" font-weight="bold" font-style="normal" stroke="#c0353a" stroke-width="0.1" stroke-linejoin="round"><text x="0.00" y="0.00" font-size="20.50">Nano</text></g>
<g transform="translate(1010.80,230.40) scale(1.0048,1) translate(-1.33,0)" fill="#3a74c0" font-weight="bold" font-style="normal" stroke="#3a74c0" stroke-width="0.1" stroke-linejoin="round"><text x="0.00" y="0.00" font-size="20.50">Macro</text></g>
<path d="M977.5,186.7 978.2,186.5 979.0,186.4 979.8,186.4 980.5,186.3 981.2,186.3 982.0,186.2 982.8,186.1 983.5,186.4 984.2,186.5 985.0,186.3 985.8,186.3 986.5,186.4 987.2,186.3 988.0,186.2 988.8,186.1 989.5,186.3 990.2,186.5 991.0,186.3 991.8,186.3 992.5,186.6 993.2,186.5 994.0,186.5 994.8,186.7 995.5,186.5 996.2,186.2 997.0,186.1 997.8,186.1 998.5,186.4 999.2,186.5 1000.0,186.4 1000.8,186.5 1001.5,186.4 1002.2,186.3 1003.0,186.2 1003.8,186.2 1004.5,186.5 1005.2,186.9 1006.0,187.0 1006.8,186.8 1007.5,186.8 1008.2,186.8 1009.0,186.7 1009.8,186.5 1010.5,186.2 1011.2,186.3 1012.0,186.8 1012.8,187.2 1013.5,186.9 1014.2,186.9 1015.0,187.1 1015.8,187.0 1016.5,186.8 1017.2,186.8 1018.0,186.7 1018.8,186.6 1019.5,186.5 1020.2,186.7 1021.0,186.9 1021.8,186.9 1022.5,186.6 1023.2,186.3 1024.0,186.7 1024.8,187.0 1025.5,186.7 1026.2,186.4 1027.0,186.3 1027.8,186.3 1028.5,186.3 1029.2,186.5 1030.0,186.7 1030.8,186.6 1031.5,186.6 1032.2,186.8 1033.0,186.8 1033.8,186.5 1034.5,186.4 1035.2,186.4 1036.0,186.1 1036.8,185.9 1037.5,186.1 1038.2,186.3 1039.0,186.0 1039.8,185.7 1040.5,185.6 1041.2,185.6 1042.0,185.7 1042.8,185.9 1043.5,185.9 1044.2,185.7 1045.0,185.5 1045.8,185.4 1046.5,185.2 1047.2,184.9 1048.0,184.8 1048.8,184.9 1049.5,185.1 1050.2,184.9 1051.0,184.4 1051.8,184.1 1052.5,184.0 1053.2,184.0 1054.0,183.8 1054.8,183.5 1055.5,183.5 1056.2,183.5 1057.0,183.4 1057.8,183.4 1058.5,183.2 1059.2,182.7 1060.0,182.4 1060.8,182.4 1061.5,182.4 1062.2,182.0 1063.0,181.5 1063.8,181.3 1064.5,181.1 1065.2,180.7 1066.0,180.4 1066.8,180.3 1067.5,179.7 1068.2,179.1 1069.0,178.8 1069.8,178.3 1070.5,177.7 1071.2,177.1 1072.0,176.5 1072.8,175.7 1073.5,174.9 1074.2,173.9 1075.0,172.8 1075.8,171.8 1076.5,170.7 1077.2,169.6 1078.0,168.2 1078.8,166.8 1079.5,165.7 1080.2,164.1 1081.0,162.7 1081.8,161.4 1082.5,160.0 1083.2,158.4 1084.0,156.6 1084.8,154.7 1085.5,152.9 1086.2,151.2 1087.0,149.4 1087.8,147.5 1088.5,145.5 1089.2,143.4 1090.0,141.4 1090.8,139.3 1091.5,137.4 1092.2,135.6 1093.0,133.6 1093.8,131.2 1094.5,128.7 1095.2,126.5 1096.0,124.5 1096.8,122.0 1097.5,119.4 1098.2,117.2 1099.0,114.9 1099.8,112.1 1100.5,109.8 1101.2,107.4 1102.0,104.8 1102.8,102.2 1103.5,99.5 1104.2,96.9 1105.0,94.5 1105.8,92.1 1106.5,89.6 1107.2,87.1 1108.0,84.3 1108.8,81.8 1109.5,79.5 1110.2,76.8 1111.0,74.1 1111.8,71.7 1112.5,69.3 1113.2,66.9 1114.0,64.6 1114.8,62.4 1115.5,59.9 1116.2,57.3 1117.0,55.3 1117.8,53.6 1118.5,51.8 1119.2,50.0 1120.0,48.2 1120.8,46.5 1121.5,45.0 1122.2,43.4 1123.0,42.1 1123.8,41.3 1124.5,40.2 1125.2,39.5 1126.0,39.1 1126.8,38.3 1127.5,37.7 1128.2,37.5 1129.0,37.2 1129.8,37.0 1130.5,37.4 1131.2,37.8 1132.0,38.1 1132.8,38.5 1133.5,38.8 1134.2,39.2 1135.0,39.8 1135.8,40.7 1136.5,41.7 1137.2,42.6 1138.0,43.6 1138.8,44.5 1139.5,45.6 1140.2,46.9 1141.0,48.2 1141.8,49.6 1142.5,51.1 1143.2,52.6 1144.0,53.9 1144.8,55.2 1145.5,56.7 1146.2,58.6 1147.0,60.3 1147.8,61.9 1148.5,63.8 1149.2,65.8 1150.0,67.6 1150.8,69.5 1151.5,71.6 1152.2,73.7 1153.0,75.8 1153.8,78.1 1154.5,80.2 1155.2,82.2 1156.0,84.3 1156.8,86.7 1157.5,88.9 1158.2,91.2 1159.0,94.0 1159.8,96.5 1160.5,98.9 1161.2,101.3 1162.0,103.9 1162.8,106.4 1163.5,108.7 1164.2,111.1 1165.0,113.8 1165.8,116.4 1166.5,119.0 1167.2,121.6 1168.0,124.1 1168.8,126.6 1169.5,128.8 1170.2,131.1 1171.0,133.7 1171.8,136.3 1172.5,138.7 1173.2,140.7 1174.0,142.6 1174.8,145.0 1175.5,147.4 1176.2,149.2 1177.0,151.1 1177.8,153.1 1178.5,155.1 1179.2,157.0 1180.0,159.0 1180.8,160.9 1181.5,162.5 1182.2,164.1 1183.0,165.9 1183.8,167.6 1184.5,168.9 1185.2,170.2 1186.0,171.7 1186.8,173.4 1187.5,174.7 1188.2,175.7 1189.0,177.1 1189.8,178.8 1190.5,180.3 1191.2,181.5 1192.0,182.6 1192.8,183.5 1193.5,184.6 1194.2,186.0 1195.0,187.1 1195.8,188.1 1196.5,189.0 1197.2,189.7 1198.0,190.6 1198.8,191.8 1199.5,192.7 1200.2,193.4 1201.0,194.1 1201.8,194.6 1202.5,195.2 1203.2,195.7 1204.0,196.2 1204.8,197.0 1205.5,197.7 1206.2,198.1 1207.0,198.6 1207.8,199.1 1208.5,199.1 1209.2,199.3 1210.0,199.7 1210.8,200.2 1211.5,200.9 1212.2,201.1 1213.0,201.1 1213.8,201.5 1214.5,202.1 1215.2,202.0 1216.0,201.9 1216.8,202.3 1217.5,202.5 1218.2,202.5 1219.0,202.4 1219.8,202.5 1220.5,202.9 1221.2,202.8 1222.0,202.8 1222.8,203.2 1223.5,203.4 1224.2,203.3 1225.0,203.3 1225.8,203.3 1226.5,203.2 1227.2,203.2 1228.0,203.4 1228.8,203.4 1229.5,203.5 1230.2,203.6 1231.0,203.7 1231.8,204.1 1232.5,204.3 1233.2,204.0 1234.0,203.9 1234.8,204.1 1235.5,204.2 1236.2,204.5 1236.3,204.7" fill="none" stroke="#c0504d" stroke-width="2.6" stroke-linejoin="round" stroke-linecap="round" />
<path d="M977.5,207.0 978.2,207.0 979.0,206.7 979.8,206.6 980.5,207.0 981.2,207.7 982.0,208.2 982.8,208.1 983.5,208.0 984.2,207.8 985.0,207.8 985.8,207.9 986.5,207.7 987.2,207.6 988.0,207.7 988.8,207.9 989.5,208.0 990.2,208.0 991.0,208.0 991.8,208.1 992.5,208.2 993.2,208.1 994.0,208.0 994.8,208.0 995.5,207.8 996.2,207.9 997.0,208.2 997.8,208.3 998.5,208.1 999.2,208.0 1000.0,208.1 1000.8,208.0 1001.5,207.9 1002.2,207.8 1003.0,207.7 1003.8,207.7 1004.5,207.6 1005.2,207.4 1006.0,207.3 1006.8,207.3 1007.5,207.2 1008.2,207.3 1009.0,207.3 1009.8,207.2 1010.5,207.1 1011.2,207.2 1012.0,207.3 1012.8,206.9 1013.5,206.4 1014.2,206.4 1015.0,206.1 1015.8,205.9 1016.5,206.0 1017.2,206.1 1018.0,206.3 1018.8,206.1 1019.5,205.6 1020.2,205.3 1021.0,205.6 1021.8,205.7 1022.5,205.6 1023.2,205.5 1024.0,205.3 1024.8,205.0 1025.5,204.7 1026.2,204.6 1027.0,204.2 1027.8,204.1 1028.5,204.3 1029.2,204.1 1030.0,203.9 1030.8,203.8 1031.5,203.6 1032.2,203.3 1033.0,203.1 1033.8,202.9 1034.5,202.9 1035.2,202.7 1036.0,202.4 1036.8,202.3 1037.5,202.0 1038.2,201.7 1039.0,201.6 1039.8,201.5 1040.5,201.3 1041.2,201.2 1042.0,200.9 1042.8,200.5 1043.5,200.2 1044.2,200.1 1045.0,199.9 1045.8,199.4 1046.5,199.1 1047.2,199.3 1048.0,199.7 1048.8,199.4 1049.5,199.0 1050.2,198.9 1051.0,198.4 1051.8,198.0 1052.5,197.9 1053.2,197.6 1054.0,197.2 1054.8,196.8 1055.5,196.7 1056.2,196.4 1057.0,195.9 1057.8,195.6 1058.5,195.8 1059.2,195.5 1060.0,194.7 1060.8,194.5 1061.5,194.4 1062.2,193.8 1063.0,193.3 1063.8,193.1 1064.5,192.5 1065.2,191.9 1066.0,191.4 1066.8,190.8 1067.5,190.4 1068.2,190.5 1069.0,190.3 1069.8,189.6 1070.5,188.9 1071.2,188.4 1072.0,187.7 1072.8,186.8 1073.5,186.4 1074.2,186.0 1075.0,185.3 1075.8,184.4 1076.5,183.9 1077.2,183.5 1078.0,182.8 1078.8,182.3 1079.5,181.6 1080.2,180.6 1081.0,179.8 1081.8,179.2 1082.5,178.5 1083.2,177.7 1084.0,177.0 1084.8,176.0 1085.5,174.9 1086.2,173.8 1087.0,172.8 1087.8,171.8 1088.5,170.7 1089.2,169.5 1090.0,168.7 1090.8,167.7 1091.5,166.4 1092.2,165.1 1093.0,164.0 1093.8,162.8 1094.5,161.5 1095.2,160.1 1096.0,159.1 1096.8,158.1 1097.5,156.7 1098.2,155.5 1099.0,154.8 1099.8,154.0 1100.5,152.7 1101.2,151.5 1102.0,150.4 1102.8,149.5 1103.5,148.6 1104.2,147.6 1105.0,147.0 1105.8,146.5 1106.5,145.8 1107.2,145.5 1108.0,145.3 1108.8,145.0 1109.5,144.9 1110.2,145.0 1111.0,144.9 1111.8,144.5 1112.5,144.4 1113.2,144.8 1114.0,145.2 1114.8,145.5 1115.5,146.1 1116.2,146.7 1117.0,147.2 1117.8,147.5 1118.5,147.7 1119.2,148.3 1120.0,149.0 1120.8,149.5 1121.5,150.0 1122.2,150.3 1123.0,150.8 1123.8,151.4 1124.5,151.7 1125.2,152.1 1126.0,152.4 1126.8,152.7 1127.5,153.3 1128.2,153.7 1129.0,154.0 1129.8,154.0 1130.5,154.0 1131.2,154.0 1132.0,153.9 1132.8,153.7 1133.5,153.8 1134.2,153.8 1135.0,153.7 1135.8,153.1 1136.5,152.2 1137.2,151.6 1138.0,150.8 1138.8,150.0 1139.5,149.3 1140.2,148.3 1141.0,147.0 1141.8,145.6 1142.5,144.1 1143.2,142.4 1144.0,140.8 1144.8,139.1 1145.5,137.0 1146.2,135.0 1147.0,133.1 1147.8,130.7 1148.5,128.3 1149.2,126.0 1150.0,123.4 1150.8,120.3 1151.5,117.3 1152.2,114.5 1153.0,111.5 1153.8,108.3 1154.5,104.9 1155.2,101.5 1156.0,98.1 1156.8,94.5 1157.5,90.7 1158.2,87.2 1159.0,83.4 1159.8,79.3 1160.5,75.4 1161.2,71.5 1162.0,67.3 1162.8,63.4 1163.5,59.9 1164.2,56.5 1165.0,53.2 1165.8,49.8 1166.5,46.6 1167.2,44.1 1168.0,41.7 1168.8,39.2 1169.5,37.1 1170.2,35.4 1171.0,34.1 1171.8,33.3 1172.5,32.9 1173.2,32.6 1174.0,32.9 1174.8,33.8 1175.5,34.8 1176.2,36.5 1177.0,38.9 1177.8,41.6 1178.5,44.5 1179.2,48.1 1180.0,52.3 1180.8,57.1 1181.5,62.4 1182.2,68.0 1183.0,73.9 1183.8,80.5 1184.5,87.2 1185.2,93.8 1186.0,100.9 1186.8,107.9 1187.5,114.7 1188.2,121.5 1189.0,128.4 1189.8,134.8 1190.5,140.8 1191.2,146.9 1192.0,152.9 1192.8,158.1 1193.5,163.1 1194.2,168.4 1195.0,173.5 1195.8,178.1 1196.5,182.5 1197.2,186.8 1198.0,190.5 1198.8,194.1 1199.5,197.7 1200.2,200.5 1201.0,203.0 1201.8,205.8 1202.5,208.1 1203.2,210.0 1204.0,212.0 1204.8,213.6 1205.5,214.6 1206.2,215.6 1207.0,216.8 1207.8,218.0 1208.5,219.1 1209.2,219.7 1210.0,220.3 1210.8,221.0 1211.5,221.7 1212.2,222.4 1213.0,223.2 1213.8,223.4 1214.5,223.7 1215.2,223.9 1216.0,224.1 1216.8,224.2 1217.5,224.3 1218.2,224.4 1219.0,224.3 1219.8,224.4 1220.5,224.7 1221.2,225.1 1222.0,225.3 1222.8,225.3 1223.5,225.3 1224.2,225.4 1225.0,225.5 1225.8,225.9 1226.5,226.1 1227.2,226.1 1228.0,226.0 1228.8,226.0 1229.5,226.3 1230.2,226.5 1231.0,226.6 1231.8,226.8 1232.5,227.0 1233.2,226.6 1234.0,226.2 1234.8,226.2 1235.5,226.2 1236.2,225.7 1236.3,225.5" fill="none" stroke="#4a7ebb" stroke-width="2.6" stroke-linejoin="round" stroke-linecap="round" />
<line x1="110.00" y1="552.50" x2="432.00" y2="552.50" stroke="#1f1f1f" stroke-width="2.2"/>
<line x1="129.10" y1="548.50" x2="129.10" y2="557.50" stroke="#1f1f1f" stroke-width="2.0"/>
<line x1="188.60" y1="548.50" x2="188.60" y2="557.50" stroke="#1f1f1f" stroke-width="2.0"/>
<line x1="248.10" y1="548.50" x2="248.10" y2="557.50" stroke="#1f1f1f" stroke-width="2.0"/>
<line x1="307.60" y1="548.50" x2="307.60" y2="557.50" stroke="#1f1f1f" stroke-width="2.0"/>
<line x1="367.10" y1="548.50" x2="367.10" y2="557.50" stroke="#1f1f1f" stroke-width="2.0"/>
<line x1="426.60" y1="548.50" x2="426.60" y2="557.50" stroke="#1f1f1f" stroke-width="2.0"/>
<g transform="translate(106.30,574.00) scale(0.9997,1) translate(-0.66,0)" fill="#555555" font-weight="normal" font-style="normal" stroke="#555555" stroke-width="0.15" stroke-linejoin="round"><text x="0.00" y="0.00" font-size="16.50">518.0</text></g>
<g transform="translate(165.80,574.00) scale(0.9997,1) translate(-0.66,0)" fill="#555555" font-weight="normal" font-style="normal" stroke="#555555" stroke-width="0.15" stroke-linejoin="round"><text x="0.00" y="0.00" font-size="16.50">516.0</text></g>
<g transform="translate(225.30,574.00) scale(0.9997,1) translate(-0.66,0)" fill="#555555" font-weight="normal" font-style="normal" stroke="#555555" stroke-width="0.15" stroke-linejoin="round"><text x="0.00" y="0.00" font-size="16.50">514.0</text></g>
<g transform="translate(284.80,574.00) scale(0.9997,1) translate(-0.66,0)" fill="#555555" font-weight="normal" font-style="normal" stroke="#555555" stroke-width="0.15" stroke-linejoin="round"><text x="0.00" y="0.00" font-size="16.50">512.0</text></g>
<g transform="translate(344.30,574.00) scale(0.9997,1) translate(-0.66,0)" fill="#555555" font-weight="normal" font-style="normal" stroke="#555555" stroke-width="0.15" stroke-linejoin="round"><text x="0.00" y="0.00" font-size="16.50">510.0</text></g>
<g transform="translate(403.80,574.00) scale(0.9997,1) translate(-0.66,0)" fill="#555555" font-weight="normal" font-style="normal" stroke="#555555" stroke-width="0.15" stroke-linejoin="round"><text x="0.00" y="0.00" font-size="16.50">508.0</text></g>
<g transform="translate(13.20,423.60) scale(1.0840,1) translate(-1.59,0)" fill="#222222" font-weight="normal" font-style="normal" stroke="#222222" stroke-width="0.3" stroke-linejoin="round"><text x="0.00" y="0.00" font-size="26.50">(b)</text></g>
<g transform="translate(121.00,404.00) scale(1.0776,1) translate(-0.10,0)" fill="#1e1e1e" font-weight="bold" font-style="normal" stroke="#1e1e1e" stroke-width="0.1" stroke-linejoin="round"><text x="0.00" y="0.00" font-size="20.00">V</text><text x="13.34" y="6.00" font-size="13.00">2p3/2</text></g>
<g transform="translate(121.00,430.80) scale(0.9917,1) translate(-1.30,0)" fill="#1e1e1e" font-weight="bold" font-style="normal" stroke="#1e1e1e" stroke-width="0.1" stroke-linejoin="round"><text x="0.00" y="0.00" font-size="20.00">Nano VB</text><text x="83.34" y="6.50" font-size="13.00">2</text></g>
<g transform="translate(154.00,473.40) scale(0.9550,1) translate(-0.10,0)" fill="#1e1e1e" font-weight="normal" font-style="normal" stroke="#1e1e1e" stroke-width="0.3" stroke-linejoin="round"><text x="0.00" y="0.00" font-size="20.50">V</text><text x="13.67" y="6.50" font-size="13.50">2</text><text x="21.18" y="0.00" font-size="20.50">O</text><text x="37.13" y="6.50" font-size="13.50">3</text></g>
<g transform="translate(324.50,416.30) scale(0.9595,1) translate(-0.10,0)" fill="#1e1e1e" font-weight="normal" font-style="normal" stroke="#1e1e1e" stroke-width="0.3" stroke-linejoin="round"><text x="0.00" y="0.00" font-size="20.50">V(0)</text></g>
<g transform="translate(326.00,475.50) scale(0.9277,1) translate(-0.10,0)" fill="#1e1e1e" font-weight="normal" font-style="normal" stroke="#1e1e1e" stroke-width="0.3" stroke-linejoin="round"><text x="0.00" y="0.00" font-size="20.50">VB</text><text x="27.35" y="6.50" font-size="13.50">2</text></g>
<path d="M215.0,517.3 215.8,517.2 216.5,517.0 217.2,516.8 218.0,516.6 218.8,516.4 219.5,516.2 220.2,516.0 221.0,515.8 221.8,515.6 222.5,515.4 223.2,515.2 224.0,515.0 224.8,514.8 225.5,514.5 226.2,514.3 227.0,514.0 227.8,513.8 228.5,513.5 229.2,513.3 230.0,513.0 230.8,512.7 231.5,512.4 232.2,512.1 233.0,511.8 233.8,511.4 234.5,511.1 235.2,510.7 236.0,510.4 236.8,510.0 237.5,509.6 238.2,509.2 239.0,508.7 239.8,508.3 240.5,507.8 241.2,507.3 242.0,506.8 242.8,506.3 243.5,505.7 244.2,505.2 245.0,504.6 245.8,504.0 246.5,503.3 247.2,502.7 248.0,502.0 248.8,501.3 249.5,500.6 250.2,499.8 251.0,499.0 251.8,498.2 252.5,497.4 253.2,496.5 254.0,495.6 254.8,494.6 255.5,493.6 256.2,492.5 257.0,491.4 257.8,490.2 258.5,489.0 259.2,487.7 260.0,486.3 260.8,484.7 261.5,482.9 262.2,480.9 263.0,478.7 263.8,476.2 264.5,473.4 265.2,470.2 266.0,466.7 266.8,462.8 267.5,458.6 268.2,454.2 269.0,449.7 269.8,445.2 270.5,440.8 271.2,436.6 272.0,432.5 272.8,428.7 273.5,425.0 274.2,421.4 275.0,417.9 275.8,414.6 276.5,411.4 277.2,408.3 278.0,405.3 278.8,402.5 279.5,399.7 280.2,397.1 281.0,394.6 281.8,392.3 282.5,390.0 283.2,387.8 284.0,385.8 284.8,384.0 285.5,382.3 286.2,380.8 287.0,379.4 287.8,378.4 288.5,377.5 289.2,376.9 290.0,376.5 290.8,376.5 291.5,376.7 292.2,377.3 293.0,378.3 293.8,379.8 294.5,381.8 295.2,384.6 296.0,388.1 296.8,392.4 297.5,397.4 298.2,402.9 299.0,408.8 299.8,414.8 300.5,420.9 301.2,426.9 302.0,432.9 302.8,438.9 303.5,444.9 304.2,450.7 305.0,456.5 305.8,462.2 306.5,467.8 307.2,473.3 308.0,478.6 308.8,483.7 309.5,488.7 310.2,493.6 311.0,498.2 311.8,502.6 312.5,506.8 313.2,510.8 314.0,514.5 314.8,518.0 315.5,521.2 316.2,524.1 317.0,526.6 317.8,529.0 318.5,531.0 319.2,532.8 320.0,534.4 320.8,535.8 321.5,537.0 322.2,538.1 323.0,539.1 323.8,539.9 324.5,540.7 325.2,541.4 326.0,542.0 326.8,542.6 327.5,543.2 328.2,543.8 329.0,544.3 329.8,544.8 330.5,545.2 331.2,545.6 332.0,546.0 332.8,546.4 333.5,546.7 334.2,547.0 335.0,547.3 335.8,547.5 336.5,547.7 337.2,547.9 338.0,548.1 338.8,548.3 339.5,548.4 340.2,548.5 341.0,548.7 341.8,548.8 342.5,548.8 343.2,548.9 344.0,549.0 344.8,549.0 345.5,549.1 346.2,549.1 347.0,549.2 347.8,549.2 348.5,549.2 349.2,549.3 349.9,549.3" fill="none" stroke="#a0a0a0" stroke-width="1.1" stroke-linejoin="round" stroke-linecap="round" stroke-dasharray="3,1.5"/>
<path d="M117.5,511.4 118.2,511.4 119.0,511.3 119.8,511.3 120.5,511.3 121.2,511.2 122.0,511.1 122.8,511.1 123.5,511.0 124.2,510.9 125.0,510.8 125.8,510.7 126.5,510.6 127.2,510.5 128.0,510.4 128.8,510.2 129.5,510.1 130.2,510.0 131.0,509.8 131.8,509.7 132.5,509.6 133.2,509.4 134.0,509.2 134.8,509.1 135.5,508.9 136.2,508.7 137.0,508.6 137.8,508.4 138.5,508.2 139.2,508.0 140.0,507.8 140.8,507.6 141.5,507.4 142.2,507.2 143.0,507.0 143.8,506.8 144.5,506.6 145.2,506.4 146.0,506.2 146.8,505.9 147.5,505.7 148.2,505.5 149.0,505.3 149.8,505.0 150.5,504.8 151.2,504.6 152.0,504.3 152.8,504.1 153.5,503.9 154.2,503.6 155.0,503.4 155.8,503.2 156.5,502.9 157.2,502.7 158.0,502.4 158.8,502.2 159.5,501.9 160.2,501.7 161.0,501.5 161.8,501.2 162.5,501.0 163.2,500.7 164.0,500.5 164.8,500.3 165.5,500.0 166.2,499.8 167.0,499.5 167.8,499.3 168.5,499.1 169.2,498.8 170.0,498.6 170.8,498.4 171.5,498.2 172.2,497.9 173.0,497.7 173.8,497.5 174.5,497.3 175.2,497.0 176.0,496.8 176.8,496.6 177.5,496.4 178.2,496.2 179.0,496.0 179.8,495.8 180.5,495.6 181.2,495.4 182.0,495.2 182.8,495.1 183.5,494.9 184.2,494.7 185.0,494.5 185.8,494.4 186.5,494.2 187.2,494.1 188.0,493.9 188.8,493.8 189.5,493.6 190.2,493.5 191.0,493.4 191.8,493.2 192.5,493.1 193.2,493.0 194.0,492.9 194.8,492.8 195.5,492.7 196.2,492.6 197.0,492.5 197.8,492.4 198.5,492.4 199.2,492.3 200.0,492.3 200.8,492.2 201.5,492.2 202.2,492.1 203.0,492.1 203.8,492.1 204.5,492.1 205.2,492.1 206.0,492.1 206.8,492.1 207.5,492.1 208.2,492.2 209.0,492.2 209.8,492.2 210.5,492.3 211.2,492.4 212.0,492.4 212.8,492.5 213.5,492.6 214.2,492.7 215.0,492.8 215.8,493.0 216.5,493.1 217.2,493.2 218.0,493.4 218.8,493.6 219.5,493.7 220.2,493.9 221.0,494.1 221.8,494.3 222.5,494.6 223.2,494.8 224.0,495.0 224.8,495.3 225.5,495.5 226.2,495.8 227.0,496.1 227.8,496.4 228.5,496.7 229.2,497.0 230.0,497.3 230.8,497.7 231.5,498.0 232.2,498.4 233.0,498.7 233.8,499.1 234.5,499.5 235.2,499.8 236.0,500.2 236.8,500.6 237.5,501.0 238.2,501.4 239.0,501.8 239.8,502.3 240.5,502.7 241.2,503.1 242.0,503.6 242.8,504.0 243.5,504.4 244.2,504.9 245.0,505.3 245.8,505.8 246.5,506.2 247.2,506.7 248.0,507.1 248.8,507.6 249.5,508.1 250.2,508.5 251.0,509.0 251.8,509.5 252.5,509.9 253.2,510.4 254.0,510.9 254.8,511.3 255.5,511.8 256.2,512.3 257.0,512.7 257.8,513.2 258.5,513.7 259.2,514.2 260.0,514.6 260.8,515.1 261.5,515.6 262.2,516.1 263.0,516.6 263.8,517.1 264.5,517.6 265.2,518.1 266.0,518.6 266.8,519.1 267.5,519.6 268.2,520.1 269.0,520.6 269.8,521.1 270.5,521.7 271.2,522.2 272.0,522.7 272.8,523.2 273.5,523.8 274.2,524.3 275.0,524.9 275.8,525.4 276.5,526.0 277.2,526.5 278.0,527.1 278.8,527.7 279.5,528.3 280.2,528.8 281.0,529.4 281.8,530.0 282.5,530.6 283.2,531.2 284.0,531.8 284.8,532.4 285.5,533.0 286.2,533.5 287.0,534.1 287.8,534.7 288.5,535.3 289.2,535.9 290.0,536.5 290.8,537.1 291.5,537.6 292.2,538.2 293.0,538.8 293.8,539.3 294.5,539.9 295.2,540.5 296.0,541.0 296.8,541.5 297.5,542.1 298.2,542.6 299.0,543.1 299.8,543.6 300.5,544.1 301.2,544.6 302.0,545.1 302.8,545.5 303.5,546.0 304.2,546.4 305.0,546.9 305.8,547.3 306.5,547.7 307.2,548.1 308.0,548.5 308.8,548.8 309.5,549.2 310.2,549.5 311.0,549.8 311.8,550.1 312.5,550.4 313.2,550.6 314.0,550.9 314.8,551.1 315.5,551.3 316.2,551.5 317.0,551.7 317.8,551.8 318.5,551.9 319.2,552.0 320.0,552.1 320.8,552.2 321.5,552.2 322.2,552.2 323.0,552.2 323.8,552.2 324.5,552.1 325.2,552.0 326.0,551.9 326.8,551.7 327.5,551.6 328.2,551.4 329.0,551.1 329.8,550.9 330.0,550.8" fill="none" stroke="#8f8f8f" stroke-width="1.2" stroke-linejoin="round" stroke-linecap="round" />
<path d="M222.5,516.7 223.2,516.0 224.0,515.2 224.8,514.5 225.5,513.8 226.2,513.1 227.0,512.4 227.8,511.7 228.5,511.1 229.2,510.4 230.0,509.8 230.8,509.1 231.5,508.5 232.2,507.9 233.0,507.3 233.8,506.7 234.5,506.2 235.2,505.6 236.0,505.1 236.8,504.6 237.5,504.1 238.2,503.6 239.0,503.2 239.8,502.7 240.5,502.3 241.2,501.9 242.0,501.5 242.8,501.2 243.5,500.8 244.2,500.5 245.0,500.2 245.8,499.9 246.5,499.7 247.2,499.4 248.0,499.2 248.8,499.0 249.5,498.8 250.2,498.7 251.0,498.6 251.8,498.4 252.5,498.4 253.2,498.3 254.0,498.3 254.8,498.3 255.5,498.3 256.2,498.4 257.0,498.4 257.8,498.5 258.5,498.7 259.2,498.8 260.0,499.0 260.8,499.2 261.5,499.5 262.2,499.7 263.0,500.0 263.8,500.4 264.5,500.7 265.2,501.1 266.0,501.5 266.8,502.0 267.5,502.5 268.2,503.0 269.0,503.6 269.8,504.1 270.5,504.8 271.2,505.4 272.0,506.1 272.8,506.8 273.5,507.6 274.2,508.3 275.0,509.1 275.8,510.0 276.5,510.8 277.2,511.7 278.0,512.6 278.8,513.5 279.5,514.5 280.2,515.4 281.0,516.4 281.8,517.4 282.5,518.4 283.2,519.4 284.0,520.4 284.8,521.5 285.5,522.5 286.2,523.6 287.0,524.6 287.8,525.6 288.5,526.7 289.2,527.7 290.0,528.8 290.8,529.8 291.5,530.9 292.2,531.9 293.0,532.9 293.8,533.9 294.5,534.9 295.2,535.9 296.0,536.9 296.8,537.8 297.5,538.8 298.2,539.7 299.0,540.6 299.8,541.4 300.5,542.3 301.2,543.1 302.0,543.9 302.8,544.7 303.5,545.4 304.2,546.1 305.0,546.8 305.8,547.4 306.5,548.0 307.2,548.6 308.0,549.1 308.8,549.6 309.5,550.0 310.2,550.4 311.0,550.8 311.8,551.1 312.5,551.4 313.2,551.6 314.0,551.7 314.8,551.8 315.5,551.9 316.2,551.9 317.0,551.8 317.8,551.7 318.5,551.5 319.2,551.2 320.0,550.9" fill="none" stroke="#8f8f8f" stroke-width="1.2" stroke-linejoin="round" stroke-linecap="round" />
<path d="M116.9,511.2 117.7,511.2 118.4,511.2 119.2,511.3 119.9,511.3 120.7,511.3 121.4,511.3 122.2,511.3 122.9,511.4 123.7,511.4 124.4,511.4 125.2,511.4 125.9,511.5 126.7,511.5 127.4,511.5 128.2,511.6 128.9,511.6 129.7,511.6 130.4,511.6 131.2,511.7 131.9,511.7 132.7,511.7 133.4,511.8 134.2,511.8 134.9,511.8 135.7,511.9 136.4,511.9 137.2,511.9 137.9,512.0 138.7,512.0 139.4,512.1 140.2,512.1 140.9,512.1 141.7,512.2 142.4,512.2 143.2,512.3 143.9,512.3 144.7,512.3 145.4,512.4 146.2,512.4 146.9,512.5 147.7,512.5 148.4,512.5 149.2,512.6 149.9,512.6 150.7,512.7 151.4,512.7 152.2,512.7 152.9,512.8 153.7,512.8 154.4,512.9 155.2,512.9 155.9,513.0 156.7,513.0 157.4,513.0 158.2,513.1 158.9,513.1 159.7,513.2 160.4,513.2 161.2,513.3 161.9,513.3 162.7,513.4 163.4,513.4 164.2,513.4 164.9,513.5 165.7,513.5 166.4,513.6 167.2,513.6 167.9,513.7 168.7,513.7 169.4,513.7 170.2,513.8 170.9,513.8 171.7,513.9 172.4,513.9 173.2,514.0 173.9,514.0 174.7,514.0 175.4,514.1 176.2,514.1 176.9,514.2 177.7,514.2 178.4,514.2 179.2,514.3 179.9,514.3 180.7,514.4 181.4,514.4 182.2,514.4 182.9,514.5 183.7,514.5 184.4,514.6 185.2,514.6 185.9,514.6 186.7,514.7 187.4,514.7 188.2,514.7 188.9,514.8 189.7,514.8 190.4,514.8 191.2,514.9 191.9,514.9 192.7,514.9 193.4,515.0 194.2,515.0 194.9,515.0 195.7,515.0 196.4,515.1 197.2,515.1 197.9,515.1 198.7,515.2 199.4,515.2 200.2,515.2 200.9,515.2 201.7,515.3 202.4,515.3 203.2,515.3 203.9,515.3 204.7,515.4 205.4,515.4 206.2,515.4 206.9,515.4 207.7,515.4 208.4,515.5 209.2,515.5 209.9,515.5 210.7,515.6 211.4,515.6 212.2,515.6 212.9,515.6 213.7,515.7 214.4,515.7 215.2,515.7 215.9,515.8 216.7,515.8 217.4,515.8 218.2,515.9 218.9,515.9 219.7,516.0 220.4,516.0 221.2,516.1 221.9,516.1 222.7,516.2 223.4,516.2 224.2,516.3 224.9,516.3 225.7,516.4 226.4,516.4 227.2,516.5 227.9,516.6 228.7,516.6 229.4,516.7 230.2,516.8 230.9,516.8 231.7,516.9 232.4,517.0 233.2,517.1 233.9,517.2 234.7,517.3 235.4,517.4 236.2,517.5 236.9,517.6 237.7,517.7 238.4,517.8 239.2,517.9 239.9,518.0 240.7,518.1 241.4,518.2 242.2,518.4 242.9,518.5 243.7,518.6 244.4,518.8 245.2,518.9 245.9,519.0 246.7,519.2 247.4,519.4 248.2,519.5 248.9,519.7 249.7,519.8 250.4,520.0 251.2,520.2 251.9,520.4 252.7,520.6 253.4,520.8 254.2,521.0 254.9,521.2 255.7,521.4 256.4,521.6 257.1,521.8 257.9,522.0 258.6,522.3 259.4,522.5 260.1,522.8 260.9,523.0 261.6,523.3 262.4,523.5 263.1,523.8 263.9,524.1 264.6,524.3 265.4,524.6 266.1,524.9 266.9,525.2 267.6,525.5 268.4,525.8 269.1,526.2 269.9,526.5 270.6,526.8 271.4,527.2 272.1,527.5 272.9,527.9 273.6,528.2 274.4,528.6 275.1,529.0 275.9,529.3 276.6,529.7 277.4,530.1 278.1,530.5 278.9,530.9 279.6,531.3 280.4,531.8 281.1,532.2 281.9,532.6 282.6,533.0 283.4,533.5 284.1,533.9 284.9,534.4 285.6,534.8 286.4,535.2 287.1,535.7 287.9,536.1 288.6,536.6 289.4,537.0 290.1,537.5 290.9,537.9 291.6,538.3 292.4,538.8 293.1,539.2 293.9,539.7 294.6,540.1 295.4,540.5 296.1,541.0 296.9,541.4 297.6,541.8 298.4,542.2 299.1,542.6 299.9,543.0 300.6,543.4 301.4,543.8 302.1,544.2 302.9,544.6 303.6,544.9 304.4,545.3 305.1,545.7 305.9,546.0 306.6,546.3 307.4,546.7 308.1,547.0 308.9,547.3 309.6,547.6 310.4,547.9 311.1,548.1 311.9,548.4 312.6,548.7 313.4,548.9 314.1,549.1 314.9,549.4 315.6,549.6 316.4,549.8 317.1,550.0 317.9,550.2 318.6,550.4 319.4,550.5 320.1,550.7 320.9,550.8 321.6,551.0 322.4,551.1 323.1,551.2 323.9,551.3 324.6,551.4 325.4,551.5 326.1,551.6 326.9,551.7 327.6,551.8 328.4,551.9 329.1,551.9 329.9,552.0 330.6,552.0 331.4,552.1 332.1,552.1 332.9,552.2 333.6,552.2 334.4,552.2 335.1,552.2 335.9,552.3 336.6,552.3 337.4,552.3 338.1,552.3 338.9,552.3 339.6,552.3 340.4,552.3 341.1,552.3 341.9,552.3 342.6,552.3 343.4,552.3 344.1,552.2 344.9,552.2 345.6,552.2 346.4,552.2 347.1,552.2 347.9,552.1 348.6,552.1 349.4,552.1 350.1,552.1 350.9,552.1 351.6,552.0 352.4,552.0 353.1,552.0 353.9,552.0 354.6,552.0 355.4,551.9 356.1,551.9 356.9,551.9 357.6,551.9 358.4,551.9 359.1,551.9 359.9,551.9 360.6,551.9 361.4,551.9 362.1,551.9 362.9,551.8 363.6,551.8 364.4,551.8 365.1,551.8 365.9,551.8 366.6,551.8 367.4,551.8 368.1,551.8 368.9,551.8 369.6,551.8 370.4,551.9 371.1,551.9 371.9,551.9 372.6,551.9 373.4,551.9 374.1,551.9 374.9,551.9 375.6,551.9 376.4,551.9 377.1,551.9 377.9,551.9 378.6,551.9 379.4,551.9 380.1,552.0 380.9,552.0 381.6,552.0 382.4,552.0 383.1,552.0 383.9,552.0 384.6,552.0 385.4,552.0 386.1,552.1 386.9,552.1 387.6,552.1 388.4,552.1 389.1,552.1 389.9,552.1 390.6,552.1 391.4,552.1 392.1,552.1 392.9,552.2 393.6,552.2 394.4,552.2 395.1,552.2 395.9,552.2 396.6,552.2 397.4,552.2 398.1,552.2 398.9,552.2 399.6,552.2 400.4,552.3 401.1,552.3 401.9,552.3 402.6,552.3 403.4,552.3 404.1,552.3 404.9,552.3 405.6,552.3 406.4,552.3 407.1,552.3 407.9,552.3 408.6,552.3 409.4,552.3 410.1,552.3 410.9,552.3 411.6,552.3 412.4,552.3 413.1,552.3 413.9,552.3 414.6,552.3 415.4,552.3 416.1,552.2 416.9,552.2 417.6,552.2 418.4,552.2 419.1,552.2 419.9,552.2 420.6,552.2 421.4,552.1 422.1,552.1 422.9,552.1 423.6,552.1 424.4,552.0 425.1,552.0 425.9,552.0 426.6,552.0 427.4,551.9 428.1,551.9 428.9,551.9 429.6,551.8 430.4,551.8 431.1,551.8 431.9,551.7 432.0,551.7" fill="none" stroke="#3a3a3a" stroke-width="1.8" stroke-linejoin="round" stroke-linecap="round" />
<path d="M113.0,510.1 113.8,510.3 114.5,510.4 115.2,510.5 116.0,510.6 116.8,510.7 117.5,510.8 118.2,510.9 119.0,510.9 119.8,510.9 120.5,511.0 121.2,511.0 122.0,511.0 122.8,511.0 123.5,511.0 124.2,511.0 125.0,510.9 125.8,510.9 126.5,510.8 127.2,510.7 128.0,510.7 128.8,510.6 129.5,510.5 130.2,510.4 131.0,510.3 131.8,510.2 132.5,510.0 133.2,509.9 134.0,509.8 134.8,509.6 135.5,509.4 136.2,509.3 137.0,509.1 137.8,508.9 138.5,508.8 139.2,508.6 140.0,508.4 140.8,508.2 141.5,508.0 142.2,507.7 143.0,507.5 143.8,507.3 144.5,507.1 145.2,506.8 146.0,506.6 146.8,506.4 147.5,506.1 148.2,505.9 149.0,505.6 149.8,505.4 150.5,505.1 151.2,504.9 152.0,504.6 152.8,504.3 153.5,504.1 154.2,503.8 155.0,503.5 155.8,503.3 156.5,503.0 157.2,502.7 158.0,502.4 158.8,502.2 159.5,501.9 160.2,501.6 161.0,501.3 161.8,501.1 162.5,500.8 163.2,500.5 164.0,500.3 164.8,500.0 165.5,499.7 166.2,499.5 167.0,499.2 167.8,498.9 168.5,498.7 169.2,498.4 170.0,498.1 170.8,497.9 171.5,497.6 172.2,497.4 173.0,497.2 173.8,496.9 174.5,496.7 175.2,496.5 176.0,496.2 176.8,496.0 177.5,495.8 178.2,495.6 179.0,495.4 179.8,495.2 180.5,495.0 181.2,494.8 182.0,494.6 182.8,494.4 183.5,494.3 184.2,494.1 185.0,494.0 185.8,493.8 186.5,493.7 187.2,493.5 188.0,493.4 188.8,493.3 189.5,493.2 190.2,493.1 191.0,493.0 191.8,492.9 192.5,492.9 193.2,492.8 194.0,492.7 194.8,492.7 195.5,492.7 196.2,492.6 197.0,492.6 197.8,492.6 198.5,492.6 199.2,492.6 200.0,492.6 200.8,492.6 201.5,492.6 202.2,492.6 203.0,492.6 203.8,492.6 204.5,492.6 205.2,492.6 206.0,492.6 206.8,492.6 207.5,492.7 208.2,492.7 209.0,492.7 209.8,492.7 210.5,492.7 211.2,492.7 212.0,492.7 212.8,492.6 213.5,492.6 214.2,492.6 215.0,492.6 215.8,492.5 216.5,492.5 217.2,492.4 218.0,492.3 218.8,492.3 219.5,492.2 220.2,492.1 221.0,492.0 221.8,491.8 222.5,491.7 223.2,491.6 224.0,491.4 224.8,491.2 225.5,491.0 226.2,490.8 227.0,490.6 227.8,490.4 228.5,490.1 229.2,489.8 230.0,489.5 230.8,489.2 231.5,488.9 232.2,488.5 233.0,488.2 233.8,487.8 234.5,487.4 235.2,486.9 236.0,486.5 236.8,486.0 237.5,485.5 238.2,485.0 239.0,484.4 239.8,483.8 240.5,483.3 241.2,482.6 242.0,482.0 242.8,481.3 243.5,480.6 244.2,479.9 245.0,479.2 245.8,478.4 246.5,477.6 247.2,476.8 248.0,475.9 248.8,475.0 249.5,474.1 250.2,473.2 251.0,472.2 251.8,471.2 252.5,470.2 253.2,469.1 254.0,468.1 254.8,466.9 255.5,465.8 256.2,464.6 257.0,463.4 257.8,462.1 258.5,460.8 259.2,459.4 260.0,458.0 260.8,456.5 261.5,454.9 262.2,453.4 263.0,451.7 263.8,450.0 264.5,448.2 265.2,446.4 266.0,444.4 266.8,442.4 267.5,440.4 268.2,438.2 269.0,436.0 269.8,433.7 270.5,431.3 271.2,428.8 272.0,426.3 272.8,423.6 273.5,420.9 274.2,418.1 275.0,415.2 275.8,412.4 276.5,409.5 277.2,406.7 278.0,403.9 278.8,401.1 279.5,398.4 280.2,395.7 281.0,393.2 281.8,390.7 282.5,388.4 283.2,386.3 284.0,384.3 284.8,382.4 285.5,380.8 286.2,379.4 287.0,378.2 287.8,377.3 288.5,376.6 289.2,376.2 290.0,376.1 290.8,376.3 291.5,376.9 292.2,377.8 293.0,379.1 293.8,380.7 294.5,382.9 295.2,385.5 296.0,388.7 296.8,392.4 297.5,396.8 298.2,401.8 299.0,407.3 299.8,413.2 300.5,419.5 301.2,425.9 302.0,432.3 302.8,438.7 303.5,444.9 304.2,451.1 305.0,457.1 305.8,463.0 306.5,468.7 307.2,474.3 308.0,479.6 308.8,484.8 309.5,489.7 310.2,494.5 311.0,498.9 311.8,503.2 312.5,507.1 313.2,510.8 314.0,514.2 314.8,517.4 315.5,520.4 316.2,523.1 317.0,525.6 317.8,527.9 318.5,530.1 319.2,532.0 320.0,533.8 320.8,535.4 321.5,536.8 322.2,538.1 323.0,539.2 323.8,540.3 324.5,541.2 325.2,542.0 326.0,542.7 326.8,543.3 327.5,543.8 328.2,544.2 329.0,544.6 329.8,545.0 330.5,545.3 331.2,545.6 332.0,545.8 332.8,546.1 333.5,546.3 334.2,546.5 335.0,546.7 335.8,546.9 336.5,547.1 337.2,547.3 338.0,547.4 338.8,547.6 339.5,547.7 340.2,547.9 341.0,548.0 341.8,548.1 342.5,548.2 343.2,548.3 344.0,548.4 344.8,548.5 345.5,548.6 346.2,548.7 347.0,548.8 347.8,548.9 348.5,549.0 349.2,549.0 350.0,549.1 350.8,549.2 351.5,549.2 352.2,549.3 353.0,549.4 353.8,549.4 354.5,549.5 355.2,549.5 356.0,549.6 356.8,549.7 357.5,549.7 358.2,549.8 359.0,549.8 359.8,549.9 360.5,549.9 361.2,550.0 362.0,550.0 362.8,550.1 363.5,550.1 364.2,550.2 365.0,550.2 365.8,550.3 366.5,550.3 367.2,550.4 368.0,550.4 368.8,550.4 369.5,550.5 370.2,550.5 371.0,550.6 371.8,550.6 372.5,550.6 373.2,550.7 374.0,550.7 374.8,550.7 375.5,550.8 376.2,550.8 377.0,550.8 377.8,550.9 378.5,550.9 379.2,550.9 380.0,551.0 380.8,551.0 381.5,551.0 382.2,551.0 383.0,551.1 383.8,551.1 384.5,551.1 385.2,551.1 386.0,551.1 386.8,551.2 387.5,551.2 388.2,551.2 389.0,551.2 389.8,551.2 390.5,551.3 391.2,551.3 392.0,551.3 392.8,551.3 393.5,551.3 394.2,551.3 395.0,551.4 395.8,551.4 396.5,551.4 397.2,551.4 398.0,551.4 398.8,551.4 399.5,551.4 400.2,551.4 401.0,551.4 401.8,551.4 402.5,551.5 403.2,551.5 404.0,551.5 404.8,551.5 405.5,551.5 406.2,551.5 407.0,551.5 407.8,551.5 408.5,551.5 409.2,551.5 410.0,551.5 410.8,551.5 411.5,551.5 412.2,551.5 413.0,551.5 413.8,551.5 414.5,551.5 415.2,551.5 416.0,551.5 416.8,551.5 417.5,551.5 418.2,551.5 419.0,551.5 419.8,551.5 420.5,551.5 421.2,551.5 422.0,551.5 422.8,551.5 423.5,551.5 424.2,551.5 425.0,551.5 425.8,551.5 426.5,551.5 427.2,551.5 428.0,551.5 428.8,551.5 429.5,551.5 430.0,551.5" fill="none" stroke="#505050" stroke-width="1.8" stroke-linejoin="round" stroke-linecap="round" />
<line x1="178.40" y1="476.00" x2="196.57" y2="499.20" stroke="#3a6cbf" stroke-width="2.2"/>
<polygon points="201.50,505.50 192.41,501.19 199.49,495.64" fill="#3a6cbf"/>
<line x1="321.00" y1="411.90" x2="292.37" y2="432.70" stroke="#3a6cbf" stroke-width="2.2"/>
<polygon points="285.90,437.40 290.54,428.47 295.83,435.75" fill="#3a6cbf"/>
<line x1="321.80" y1="468.60" x2="268.45" y2="507.67" stroke="#3a6cbf" stroke-width="2.2"/>
<polygon points="262.00,512.40 266.60,503.45 271.92,510.71" fill="#3a6cbf"/>
<line x1="512.20" y1="569.40" x2="842.90" y2="569.40" stroke="#1f1f1f" stroke-width="2.2"/>
<line x1="556.80" y1="565.40" x2="556.80" y2="574.40" stroke="#1f1f1f" stroke-width="2.0"/>
<line x1="608.75" y1="565.40" x2="608.75" y2="574.40" stroke="#1f1f1f" stroke-width="2.0"/>
<line x1="660.70" y1="565.40" x2="660.70" y2="574.40" stroke="#1f1f1f" stroke-width="2.0"/>
<line x1="712.65" y1="565.40" x2="712.65" y2="574.40" stroke="#1f1f1f" stroke-width="2.0"/>
<line x1="764.60" y1="565.40" x2="764.60" y2="574.40" stroke="#1f1f1f" stroke-width="2.0"/>
<line x1="816.55" y1="565.40" x2="816.55" y2="574.40" stroke="#1f1f1f" stroke-width="2.0"/>
<g transform="translate(535.95,589.00) scale(0.9788,1) translate(-1.26,0)" fill="#555555" font-weight="normal" font-style="normal" stroke="#555555" stroke-width="0.15" stroke-linejoin="round"><text x="0.00" y="0.00" font-size="16.80">198.0</text></g>
<g transform="translate(587.90,589.00) scale(0.9788,1) translate(-1.26,0)" fill="#555555" font-weight="normal" font-style="normal" stroke="#555555" stroke-width="0.15" stroke-linejoin="round"><text x="0.00" y="0.00" font-size="16.80">195.0</text></g>
<g transform="translate(639.85,589.00) scale(0.9788,1) translate(-1.26,0)" fill="#555555" font-weight="normal" font-style="normal" stroke="#555555" stroke-width="0.15" stroke-linejoin="round"><text x="0.00" y="0.00" font-size="16.80">192.0</text></g>
<g transform="translate(691.80,589.00) scale(0.9788,1) translate(-1.26,0)" fill="#555555" font-weight="normal" font-style="normal" stroke="#555555" stroke-width="0.15" stroke-linejoin="round"><text x="0.00" y="0.00" font-size="16.80">189.0</text></g>
<g transform="translate(743.75,589.00) scale(0.9788,1) translate(-1.26,0)" fill="#555555" font-weight="normal" font-style="normal" stroke="#555555" stroke-width="0.15" stroke-linejoin="round"><text x="0.00" y="0.00" font-size="16.80">186.0</text></g>
<g transform="translate(795.70,589.00) scale(0.9788,1) translate(-1.26,0)" fill="#555555" font-weight="normal" font-style="normal" stroke="#555555" stroke-width="0.15" stroke-linejoin="round"><text x="0.00" y="0.00" font-size="16.80">183.0</text></g>
<g transform="translate(605.00,617.50) scale(1.0278,1) translate(-1.60,0)" fill="#2e2e2e" font-weight="normal" font-style="normal" stroke="#2e2e2e" stroke-width="0.3" stroke-linejoin="round"><text x="0.00" y="0.00" font-size="20.00">Binding Energy (eV)</text></g>
<g transform="translate(464.00,427.20) scale(1.0664,1) translate(-1.56,0)" fill="#222222" font-weight="normal" font-style="normal" stroke="#222222" stroke-width="0.3" stroke-linejoin="round"><text x="0.00" y="0.00" font-size="26.00">(e)</text></g>
<g transform="translate(522.60,426.30) scale(0.9616,1) translate(-1.30,0)" fill="#1e1e1e" font-weight="bold" font-style="normal" stroke="#1e1e1e" stroke-width="0.1" stroke-linejoin="round"><text x="0.00" y="0.00" font-size="20.00">B</text><text x="14.44" y="6.00" font-size="12.50">1s</text></g>
<g transform="translate(522.60,452.40) scale(1.0086,1) translate(-1.30,0)" fill="#1e1e1e" font-weight="bold" font-style="normal" stroke="#1e1e1e" stroke-width="0.1" stroke-linejoin="round"><text x="0.00" y="0.00" font-size="20.00">Nano VB</text><text x="83.34" y="6.50" font-size="13.00">2</text></g>
<polyline points="513.0,558.0 514.5,558.3 516.0,558.5 517.5,558.8 519.0,558.7 520.5,558.9 522.0,557.6 523.5,557.6 525.0,558.4 526.5,558.3 528.0,558.6 529.5,557.5 531.0,557.6 532.5,557.2 534.0,557.5 535.5,557.7 537.0,556.9 538.5,556.8 540.0,556.9 541.5,557.9 543.0,558.2 544.5,557.4 546.0,558.0 547.5,557.2 549.0,557.6 550.5,557.0 552.0,556.5 553.5,557.6 555.0,557.1 556.5,556.9 558.0,558.0 559.5,558.3 561.0,557.6 562.5,558.3 564.0,558.0 565.5,558.0 567.0,557.3 568.5,558.1 570.0,558.1 571.5,558.5 573.0,558.6 574.5,557.7 576.0,557.3 577.5,556.8 579.0,556.6 580.5,556.3 582.0,556.5 583.5,557.1 585.0,556.5 586.5,557.2 588.0,557.0 589.5,556.9 591.0,557.6 592.5,557.4 594.0,557.1 595.5,557.2 597.0,557.6 598.5,556.7 600.0,557.8" fill="none" stroke="#b8b8b8" stroke-width="1.2"/>
<path d="M700.0,557.8 700.8,557.5 701.5,557.2 702.2,557.0 703.0,556.8 703.8,556.7 704.5,556.6 705.2,556.4 706.0,556.3 706.8,556.2 707.5,556.0 708.2,555.9 709.0,555.7 709.8,555.5 710.5,555.3 711.2,555.1 712.0,554.8 712.8,554.4 713.5,554.1 714.2,553.6 715.0,553.1 715.8,552.5 716.5,551.9 717.2,551.1 718.0,550.3 718.8,549.4 719.5,548.4 720.2,547.3 721.0,546.0 721.8,544.7 722.5,543.2 723.2,541.6 724.0,539.4 724.8,536.4 725.5,532.1 726.2,526.2 727.0,518.9 727.8,510.2 728.5,500.3 729.2,489.4 730.0,477.7 730.8,465.6 731.5,453.3 732.2,441.5 733.0,431.5 733.8,425.1 734.5,422.5 735.2,423.2 736.0,426.1 736.8,430.4 737.5,435.2 738.2,440.4 739.0,445.8 739.8,451.4 740.5,457.1 741.2,463.1 742.0,469.6 742.8,476.9 743.5,485.0 744.2,493.5 745.0,501.5 745.8,508.5 746.5,514.6 747.2,519.8 748.0,524.2 748.8,527.9 749.5,531.1 750.2,533.8 751.0,536.3 751.8,538.5 752.5,540.5 753.2,542.3 754.0,544.0 754.8,545.5 755.5,546.9 756.2,548.1 757.0,549.3 757.8,550.3 758.5,551.3 759.2,552.2 760.0,553.0 760.8,553.7 761.5,554.4 762.2,555.0 763.0,555.5 763.8,556.1 764.5,556.5 765.2,557.0 766.0,557.5 766.8,557.9 767.5,558.4 768.2,558.8 769.0,559.3 769.8,559.7 770.5,560.2 771.2,560.6 772.0,561.1 772.8,561.5 773.5,561.9 774.2,562.3 775.0,562.7 775.8,563.1 776.5,563.5 777.2,563.8 778.0,564.1 778.8,564.4 779.5,564.7 780.2,564.9 781.0,565.1 781.8,565.2 782.5,565.3 783.2,565.4 784.0,565.4 784.8,565.4 785.5,565.4 786.2,565.2 787.0,565.1 787.8,564.8 788.5,564.5 789.2,564.2 790.0,563.8" fill="none" stroke="#8f8f8f" stroke-width="1.2" stroke-linejoin="round" stroke-linecap="round" />
<path d="M722.0,558.1 722.8,558.2 723.5,558.2 724.2,558.0 725.0,557.7 725.8,557.3 726.5,556.7 727.2,556.0 728.0,555.3 728.8,554.5 729.5,553.7 730.2,552.8 731.0,552.0 731.8,551.1 732.5,550.0 733.2,548.8 734.0,547.1 734.8,544.9 735.5,542.1 736.2,538.5 737.0,533.9 737.8,528.4 738.5,521.6 739.2,513.6 740.0,504.6 740.8,496.8 741.5,493.0 742.2,495.0 743.0,501.0 743.8,508.7 744.5,516.0 745.2,522.4 746.0,528.1 746.8,533.0 747.5,537.3 748.2,541.0 749.0,544.2 749.8,546.8 750.5,548.9 751.2,550.7 752.0,552.1 752.8,553.2 753.5,554.1 754.2,554.7 755.0,555.2 755.8,555.6 756.5,556.0 757.2,556.3 758.0,556.6 758.8,557.0 759.5,557.3 760.2,557.7 761.0,558.0 761.8,558.3 762.5,558.6 763.2,559.0 764.0,559.3 764.8,559.6 765.5,559.9 766.2,560.2 767.0,560.5 767.8,560.9 768.5,561.1 769.2,561.4 770.0,561.7 770.8,562.0 771.5,562.3 772.2,562.5 773.0,562.8 773.8,563.0 774.5,563.3 775.2,563.5 776.0,563.7 776.8,563.9 777.5,564.2 778.2,564.3 779.0,564.5 779.8,564.7 780.5,564.9 781.2,565.0 782.0,565.1 782.8,565.3 783.5,565.4 784.2,565.5 785.0,565.6 785.8,565.6 786.5,565.7 787.2,565.7 788.0,565.8 788.8,565.8 789.5,565.8 790.0,565.8" fill="none" stroke="#8f8f8f" stroke-width="1.2" stroke-linejoin="round" stroke-linecap="round" />
<path d="M600.1,557.0 600.9,557.0 601.6,557.1 602.4,557.1 603.1,557.1 603.9,557.2 604.6,557.2 605.4,557.2 606.1,557.3 606.9,557.3 607.6,557.4 608.4,557.4 609.1,557.4 609.9,557.5 610.6,557.5 611.4,557.5 612.1,557.6 612.9,557.6 613.6,557.6 614.4,557.7 615.1,557.7 615.9,557.7 616.6,557.8 617.4,557.8 618.1,557.9 618.9,557.9 619.6,557.9 620.4,558.0 621.1,558.0 621.9,558.0 622.6,558.1 623.4,558.1 624.1,558.1 624.9,558.2 625.6,558.2 626.4,558.2 627.1,558.3 627.9,558.3 628.6,558.4 629.4,558.4 630.1,558.4 630.9,558.5 631.6,558.5 632.4,558.5 633.1,558.6 633.9,558.6 634.6,558.6 635.4,558.7 636.1,558.7 636.9,558.7 637.6,558.8 638.4,558.8 639.1,558.9 639.9,558.9 640.6,558.9 641.4,559.0 642.1,559.0 642.9,559.0 643.6,559.1 644.4,559.1 645.1,559.1 645.9,559.2 646.6,559.2 647.4,559.2 648.1,559.3 648.9,559.3 649.6,559.4 650.4,559.4 651.1,559.4 651.9,559.5 652.6,559.5 653.4,559.5 654.1,559.6 654.9,559.6 655.6,559.6 656.4,559.7 657.1,559.7 657.9,559.7 658.6,559.8 659.4,559.8 660.1,559.9 660.9,559.9 661.6,559.9 662.4,560.0 663.1,560.0 663.9,560.0 664.6,560.1 665.4,560.1 666.1,560.1 666.9,560.2 667.6,560.2 668.4,560.2 669.1,560.3 669.9,560.3 670.6,560.4 671.4,560.4 672.1,560.4 672.9,560.5 673.6,560.5 674.4,560.5 675.1,560.6 675.9,560.6 676.6,560.6 677.4,560.7 678.1,560.7 678.9,560.7 679.6,560.8 680.4,560.8 681.1,560.8 681.9,560.9 682.6,560.9 683.4,561.0 684.1,561.0 684.9,561.0 685.6,561.1 686.4,561.1 687.1,561.1 687.9,561.2 688.6,561.2 689.4,561.2 690.1,561.3 690.9,561.3 691.6,561.3 692.4,561.4 693.1,561.4 693.9,561.5 694.6,561.5 695.4,561.5 696.1,561.6 696.9,561.6 697.6,561.6 698.4,561.7 699.1,561.7 699.9,561.7 700.6,561.8 701.4,561.8 702.1,561.8 702.9,561.9 703.6,561.9 704.4,562.0 705.1,562.0 705.9,562.0 706.6,562.1 707.4,562.1 708.1,562.1 708.9,562.2 709.6,562.2 710.4,562.2 711.1,562.3 711.9,562.3 712.6,562.3 713.4,562.4 714.1,562.4 714.9,562.5 715.6,562.5 716.4,562.5 717.1,562.6 717.9,562.6 718.6,562.6 719.4,562.7 720.1,562.7 720.9,562.7 721.6,562.8 722.4,562.8 723.1,562.8 723.9,562.9 724.6,562.9 725.4,563.0 726.1,563.0 726.9,563.0 727.6,563.1 728.4,563.1 729.1,563.1 729.9,563.2 730.6,563.2 731.4,563.2 732.1,563.3 732.9,563.3 733.6,563.3 734.4,563.4 735.1,563.4 735.9,563.5 736.6,563.5 737.4,563.5 738.1,563.6 738.9,563.6 739.6,563.6 740.4,563.7 741.1,563.7 741.9,563.7 742.6,563.8 743.4,563.8 744.1,563.8 744.9,563.9 745.6,563.9 746.4,563.9 747.1,564.0 747.9,564.0 748.6,564.1 749.4,564.1 750.1,564.1 750.9,564.2 751.6,564.2 752.4,564.2 753.1,564.3 753.9,564.3 754.6,564.3 755.4,564.4 756.1,564.4 756.9,564.4 757.6,564.5 758.4,564.5 759.1,564.6 759.9,564.6 760.6,564.6 761.4,564.7 762.1,564.7 762.9,564.7 763.6,564.8 764.4,564.8 765.1,564.8 765.9,564.9 766.6,564.9 767.4,564.9 768.1,565.0 768.9,565.0 769.6,565.1 770.4,565.1 771.1,565.1 771.9,565.2 772.6,565.2 773.4,565.2 774.1,565.3 774.9,565.3 775.6,565.3 776.4,565.4 777.1,565.4 777.9,565.4 778.6,565.5 779.4,565.5 780.1,565.6 780.9,565.6 781.6,565.6 782.4,565.7 783.1,565.7 783.9,565.7 784.6,565.8 785.4,565.8 786.1,565.8 786.9,565.9 787.6,565.9 788.4,565.9 789.1,566.0 789.5,566.0" fill="none" stroke="#3a3a3a" stroke-width="1.8" stroke-linejoin="round" stroke-linecap="round" />
<path d="M600.1,557.0 600.9,557.1 601.6,557.2 602.4,557.3 603.1,557.3 603.9,557.4 604.6,557.4 605.4,557.4 606.1,557.4 606.9,557.4 607.6,557.4 608.4,557.3 609.1,557.2 609.9,557.2 610.6,557.0 611.4,556.9 612.1,556.8 612.9,556.6 613.6,556.4 614.4,556.2 615.1,556.0 615.9,555.8 616.6,555.5 617.4,555.3 618.1,555.0 618.9,554.7 619.6,554.4 620.4,554.0 621.1,553.7 621.9,553.3 622.6,552.9 623.4,552.5 624.1,552.0 624.9,551.6 625.6,551.1 626.4,550.6 627.1,550.1 627.9,549.5 628.6,548.9 629.4,548.2 630.1,547.5 630.9,546.7 631.6,545.9 632.4,545.0 633.1,544.0 633.9,542.9 634.6,541.7 635.4,540.5 636.1,539.2 636.9,537.7 637.6,536.2 638.4,534.6 639.1,532.9 639.9,531.2 640.6,529.5 641.4,527.7 642.1,526.0 642.9,524.2 643.6,522.5 644.4,520.8 645.1,519.1 645.9,517.5 646.6,516.0 647.4,514.6 648.1,513.2 648.9,512.0 649.6,510.9 650.4,509.9 651.1,509.1 651.9,508.3 652.6,507.7 653.4,507.2 654.1,506.9 654.9,506.7 655.6,506.6 656.4,506.7 657.1,506.9 657.9,507.2 658.6,507.7 659.4,508.4 660.1,509.2 660.9,510.1 661.6,511.2 662.4,512.4 663.1,513.8 663.9,515.2 664.6,516.7 665.4,518.3 666.1,519.9 666.9,521.6 667.6,523.3 668.4,525.1 669.1,526.8 669.9,528.5 670.6,530.2 671.4,531.8 672.1,533.4 672.9,535.0 673.6,536.4 674.4,537.8 675.1,539.1 675.9,540.4 676.6,541.6 677.4,542.7 678.1,543.8 678.9,544.8 679.6,545.8 680.4,546.7 681.1,547.5 681.9,548.3 682.6,549.1 683.4,549.8 684.1,550.5 684.9,551.1 685.6,551.7 686.4,552.2 687.1,552.7 687.9,553.2 688.6,553.6 689.4,554.0 690.1,554.3 690.9,554.7 691.6,555.0 692.4,555.2 693.1,555.5 693.9,555.7 694.6,555.9 695.4,556.1 696.1,556.2 696.9,556.4 697.6,556.5 698.4,556.6 699.1,556.6 699.9,556.7 700.6,556.7 701.4,556.8 702.1,556.8 702.9,556.7 703.6,556.7 704.4,556.6 705.1,556.6 705.9,556.5 706.6,556.3 707.4,556.2 708.1,556.1 708.9,555.9 709.6,555.7 710.4,555.4 711.1,555.1 711.9,554.7 712.6,554.3 713.4,553.8 714.1,553.3 714.9,552.6 715.6,551.9 716.4,551.0 717.1,550.1 717.9,549.0 718.6,547.8 719.4,546.5 720.1,545.0 720.9,543.2 721.6,541.0 722.4,538.0 723.1,534.3 723.9,529.6 724.6,523.6 725.4,516.4 726.1,507.7 726.9,497.8 727.6,487.0 728.4,475.5 729.1,463.6 729.9,451.7 730.6,439.9 731.4,428.7 732.1,418.3 732.9,409.3 733.6,402.1 734.4,397.3 735.1,395.3 735.9,395.6 736.6,397.9 737.4,401.6 738.1,406.2 738.9,411.7 739.6,418.3 740.4,426.0 741.1,434.9 741.9,444.5 742.6,454.3 743.4,463.8 744.1,472.8 744.9,481.5 745.6,489.5 746.4,497.1 747.1,504.0 747.9,510.2 748.6,515.7 749.4,520.4 750.1,524.4 750.9,527.8 751.6,530.8 752.4,533.2 753.1,535.3 753.9,537.2 754.6,538.9 755.4,540.5 756.1,542.0 756.9,543.5 757.6,544.8 758.4,546.1 759.1,547.3 759.9,548.5 760.6,549.6 761.4,550.6 762.1,551.6 762.9,552.5 763.6,553.4 764.4,554.2 765.1,555.0 765.9,555.8 766.6,556.5 767.4,557.2 768.1,557.8 768.9,558.4 769.6,559.0 770.4,559.5 771.1,560.0 771.9,560.5 772.6,560.9 773.4,561.4 774.1,561.8 774.9,562.1 775.6,562.5 776.4,562.8 777.1,563.1 777.9,563.4 778.6,563.7 779.4,563.9 780.1,564.2 780.9,564.4 781.6,564.6 782.4,564.8 783.1,565.0 783.9,565.1 784.6,565.3 785.4,565.4 786.1,565.6 786.9,565.7 787.6,565.8 788.4,566.0 789.1,566.1 789.5,566.1" fill="none" stroke="#505050" stroke-width="1.8" stroke-linejoin="round" stroke-linecap="round" />
<g transform="translate(592.20,510.00) scale(1.0038,1) translate(-1.64,0)" fill="#1e1e1e" font-weight="normal" font-style="normal" stroke="#1e1e1e" stroke-width="0.3" stroke-linejoin="round"><text x="0.00" y="0.00" font-size="20.50">B</text><text x="13.67" y="6.50" font-size="13.50">2</text><text x="21.18" y="0.00" font-size="20.50">O</text><text x="37.13" y="6.50" font-size="13.50">3</text></g>
<g transform="translate(676.30,449.50) scale(0.9218,1) translate(-0.10,0)" fill="#1e1e1e" font-weight="normal" font-style="normal" stroke="#1e1e1e" stroke-width="0.3" stroke-linejoin="round"><text x="0.00" y="0.00" font-size="20.50">VB</text><text x="27.35" y="6.50" font-size="13.50">2</text></g>
<g transform="translate(761.40,523.40) scale(0.9728,1) translate(-1.64,0)" fill="#1e1e1e" font-weight="normal" font-style="normal" stroke="#1e1e1e" stroke-width="0.3" stroke-linejoin="round"><text x="0.00" y="0.00" font-size="20.50">B(0)</text></g>
<line x1="636.00" y1="506.60" x2="653.53" y2="529.45" stroke="#3a6cbf" stroke-width="2.2"/>
<polygon points="658.40,535.80 649.35,531.40 656.49,525.92" fill="#3a6cbf"/>
<line x1="709.90" y1="445.00" x2="727.42" y2="467.76" stroke="#3a6cbf" stroke-width="2.2"/>
<polygon points="732.30,474.10 723.24,469.71 730.38,464.22" fill="#3a6cbf"/>
<line x1="759.20" y1="521.20" x2="741.49" y2="538.08" stroke="#3a6cbf" stroke-width="2.2"/>
<polygon points="735.70,543.60 739.11,534.13 745.32,540.65" fill="#3a6cbf"/>
<line x1="941.40" y1="556.10" x2="1249.80" y2="556.10" stroke="#1f1f1f" stroke-width="2.2"/>
<line x1="953.10" y1="552.10" x2="953.10" y2="561.10" stroke="#1f1f1f" stroke-width="2.0"/>
<line x1="1002.25" y1="552.10" x2="1002.25" y2="561.10" stroke="#1f1f1f" stroke-width="2.0"/>
<line x1="1051.40" y1="552.10" x2="1051.40" y2="561.10" stroke="#1f1f1f" stroke-width="2.0"/>
<line x1="1100.55" y1="552.10" x2="1100.55" y2="561.10" stroke="#1f1f1f" stroke-width="2.0"/>
<line x1="1149.70" y1="552.10" x2="1149.70" y2="561.10" stroke="#1f1f1f" stroke-width="2.0"/>
<line x1="1198.85" y1="552.10" x2="1198.85" y2="561.10" stroke="#1f1f1f" stroke-width="2.0"/>
<line x1="1248.00" y1="552.10" x2="1248.00" y2="561.10" stroke="#1f1f1f" stroke-width="2.0"/>
<g transform="translate(930.60,575.40) scale(1.0052,1) translate(-0.64,0)" fill="#555555" font-weight="normal" font-style="normal" stroke="#555555" stroke-width="0.15" stroke-linejoin="round"><text x="0.00" y="0.00" font-size="16.00">540.0</text></g>
<g transform="translate(979.75,575.40) scale(1.0052,1) translate(-0.64,0)" fill="#555555" font-weight="normal" font-style="normal" stroke="#555555" stroke-width="0.15" stroke-linejoin="round"><text x="0.00" y="0.00" font-size="16.00">538.0</text></g>
<g transform="translate(1028.90,575.40) scale(1.0052,1) translate(-0.64,0)" fill="#555555" font-weight="normal" font-style="normal" stroke="#555555" stroke-width="0.15" stroke-linejoin="round"><text x="0.00" y="0.00" font-size="16.00">536.0</text></g>
<g transform="translate(1078.05,575.40) scale(1.0052,1) translate(-0.64,0)" fill="#555555" font-weight="normal" font-style="normal" stroke="#555555" stroke-width="0.15" stroke-linejoin="round"><text x="0.00" y="0.00" font-size="16.00">534.0</text></g>
<g transform="translate(1127.20,575.40) scale(1.0052,1) translate(-0.64,0)" fill="#555555" font-weight="normal" font-style="normal" stroke="#555555" stroke-width="0.15" stroke-linejoin="round"><text x="0.00" y="0.00" font-size="16.00">532.0</text></g>
<g transform="translate(1176.35,575.40) scale(1.0052,1) translate(-0.64,0)" fill="#555555" font-weight="normal" font-style="normal" stroke="#555555" stroke-width="0.15" stroke-linejoin="round"><text x="0.00" y="0.00" font-size="16.00">530.0</text></g>
<g transform="translate(1225.50,575.40) scale(1.0052,1) translate(-0.64,0)" fill="#555555" font-weight="normal" font-style="normal" stroke="#555555" stroke-width="0.15" stroke-linejoin="round"><text x="0.00" y="0.00" font-size="16.00">528.0</text></g>
<g transform="translate(1014.20,602.80) scale(0.9688,1) translate(-1.60,0)" fill="#2e2e2e" font-weight="normal" font-style="normal" stroke="#2e2e2e" stroke-width="0.3" stroke-linejoin="round"><text x="0.00" y="0.00" font-size="20.00">Binding Energy (eV)</text></g>
<g transform="translate(880.60,429.20) scale(1.0370,1) translate(-1.62,0)" fill="#222222" font-weight="normal" font-style="normal" stroke="#222222" stroke-width="0.3" stroke-linejoin="round"><text x="0.00" y="0.00" font-size="27.00">(h)</text></g>
<g transform="translate(951.20,415.20) scale(0.9527,1) translate(-0.80,0)" fill="#1e1e1e" font-weight="bold" font-style="normal" stroke="#1e1e1e" stroke-width="0.1" stroke-linejoin="round"><text x="0.00" y="0.00" font-size="20.00">O</text><text x="15.56" y="6.00" font-size="12.50">1s</text></g>
<g transform="translate(951.20,440.50) scale(0.9500,1) translate(-1.30,0)" fill="#1e1e1e" font-weight="bold" font-style="normal" stroke="#1e1e1e" stroke-width="0.1" stroke-linejoin="round"><text x="0.00" y="0.00" font-size="20.00">Nano VB</text><text x="83.34" y="6.50" font-size="13.00">2</text></g>
<polyline points="942.0,537.1 943.5,536.9 945.0,537.2 946.5,536.8 948.0,537.1 949.5,537.0 951.0,536.7 952.5,537.0 954.0,536.6 955.5,536.9 957.0,536.6 958.5,536.5 960.0,536.8 961.5,537.3 963.0,536.9 964.5,536.8 966.0,537.1 967.5,537.6 969.0,537.4 970.5,537.2 972.0,537.6 973.5,536.9 975.0,537.4 976.5,537.0 978.0,536.7 979.5,536.5 981.0,536.6 982.5,537.2 984.0,536.8 985.5,537.0 987.0,537.2 988.5,537.0 990.0,537.1 991.5,536.6 993.0,536.4 994.5,536.4 996.0,536.9 997.5,536.9 999.0,536.8 1000.5,537.0 1002.0,536.9" fill="none" stroke="#b8b8b8" stroke-width="1.2"/>
<path d="M1002.3,536.7 1003.0,536.8 1003.8,536.9 1004.5,537.0 1005.3,537.1 1006.0,537.2 1006.8,537.3 1007.5,537.3 1008.3,537.4 1009.0,537.5 1009.8,537.5 1010.5,537.6 1011.3,537.6 1012.0,537.7 1012.8,537.7 1013.5,537.8 1014.3,537.8 1015.0,537.8 1015.8,537.9 1016.5,537.9 1017.3,537.9 1018.0,537.9 1018.8,537.9 1019.5,537.9 1020.3,537.9 1021.0,537.9 1021.8,537.9 1022.5,537.9 1023.3,537.9 1024.0,537.9 1024.8,537.9 1025.5,537.9 1026.3,537.9 1027.0,537.8 1027.8,537.8 1028.5,537.8 1029.3,537.8 1030.0,537.7 1030.8,537.7 1031.5,537.7 1032.3,537.7 1033.0,537.6 1033.8,537.6 1034.5,537.6 1035.3,537.5 1036.0,537.5 1036.8,537.5 1037.5,537.5 1038.3,537.4 1039.0,537.4 1039.8,537.4 1040.5,537.3 1041.3,537.3 1042.0,537.3 1042.8,537.3 1043.5,537.3 1044.3,537.2 1045.0,537.2 1045.8,537.2 1046.5,537.2 1047.3,537.2 1048.0,537.2 1048.8,537.1 1049.5,537.1 1050.3,537.1 1051.0,537.1 1051.8,537.1 1052.5,537.1 1053.3,537.1 1054.0,537.2 1054.8,537.2 1055.5,537.2 1056.3,537.2 1057.0,537.2 1057.8,537.3 1058.5,537.3 1059.3,537.3 1060.0,537.4 1060.8,537.4 1061.5,537.5 1062.3,537.5 1063.0,537.6 1063.8,537.6 1064.5,537.7 1065.3,537.7 1066.0,537.8 1066.8,537.8 1067.5,537.8 1068.3,537.8 1069.0,537.9 1069.8,537.9 1070.5,537.8 1071.3,537.8 1072.0,537.8 1072.8,537.7 1073.5,537.6 1074.3,537.6 1075.0,537.4 1075.8,537.3 1076.5,537.2 1077.3,537.0 1078.0,536.8 1078.8,536.6 1079.5,536.3 1080.3,536.1 1081.0,535.8 1081.8,535.4 1082.5,535.1 1083.3,534.7 1084.0,534.3 1084.8,533.8 1085.5,533.3 1086.3,532.8 1087.0,532.2 1087.8,531.6 1088.5,531.0 1089.3,530.3 1090.0,529.6 1090.8,528.8 1091.5,528.0 1092.3,527.2 1093.0,526.3 1093.8,525.4 1094.5,524.4 1095.3,523.4 1096.0,522.3 1096.8,521.2 1097.5,520.0 1098.3,518.8 1099.0,517.5 1099.8,516.2 1100.5,514.8 1101.3,513.4 1102.0,511.9 1102.8,510.4 1103.5,508.8 1104.3,507.2 1105.0,505.5 1105.8,503.7 1106.5,501.9 1107.3,500.1 1108.0,498.2 1108.8,496.2 1109.5,494.1 1110.3,492.0 1111.0,489.9 1111.8,487.7 1112.5,485.4 1113.3,483.0 1114.0,480.6 1114.8,478.1 1115.5,475.6 1116.3,473.0 1117.0,470.3 1117.8,467.6 1118.5,464.8 1119.3,462.0 1120.0,459.1 1120.8,456.2 1121.5,453.2 1122.3,450.3 1123.0,447.3 1123.8,444.3 1124.5,441.4 1125.3,438.4 1126.0,435.4 1126.8,432.5 1127.5,429.6 1128.3,426.7 1129.0,423.9 1129.8,421.1 1130.5,418.3 1131.3,415.6 1132.0,413.0 1132.8,410.5 1133.5,408.0 1134.3,405.6 1135.0,403.3 1135.8,401.1 1136.5,399.0 1137.3,397.0 1138.0,395.2 1138.8,393.5 1139.5,391.9 1140.3,390.4 1141.0,389.1 1141.8,387.9 1142.5,386.9 1143.3,386.1 1144.0,385.4 1144.8,384.9 1145.5,384.6 1146.3,384.5 1147.0,384.5 1147.8,384.7 1148.5,385.1 1149.3,385.6 1150.0,386.3 1150.8,387.1 1151.5,388.1 1152.3,389.2 1153.0,390.4 1153.8,391.8 1154.5,393.4 1155.3,395.1 1156.0,397.2 1156.8,399.4 1157.5,402.0 1158.3,404.9 1159.0,408.1 1159.8,411.6 1160.5,415.4 1161.3,419.2 1162.0,423.0 1162.8,426.4 1163.5,429.5 1164.3,432.3 1165.0,434.8 1165.8,437.1 1166.5,439.2 1167.3,441.3 1168.0,443.3 1168.8,445.3 1169.5,447.3 1170.3,449.3 1171.0,451.3 1171.8,453.5 1172.5,455.7 1173.3,458.1 1174.0,460.6 1174.8,463.3 1175.5,466.1 1176.3,469.0 1177.0,472.0 1177.8,475.0 1178.5,478.2 1179.3,481.4 1180.0,484.6 1180.8,487.9 1181.5,491.1 1182.3,494.4 1183.0,497.6 1183.8,500.8 1184.5,503.9 1185.3,507.0 1186.0,510.0 1186.8,512.9 1187.5,515.6 1188.3,518.3 1189.0,520.8 1189.8,523.2 1190.5,525.5 1191.3,527.6 1192.0,529.7 1192.8,531.6 1193.5,533.4 1194.3,535.2 1195.0,536.8 1195.8,538.3 1196.5,539.8 1197.3,541.2 1198.0,542.4 1198.8,543.6 1199.5,544.7 1200.3,545.8 1201.0,546.7 1201.8,547.7 1202.5,548.5 1203.3,549.3 1204.0,550.0 1204.8,550.6 1205.5,551.3 1206.3,551.8 1207.0,552.3 1207.8,552.8 1208.5,553.2 1209.3,553.6 1210.0,554.0 1210.8,554.3 1211.5,554.6 1212.3,554.8 1213.0,555.1 1213.8,555.3 1214.5,555.5 1215.3,555.7 1216.0,555.8 1216.8,556.0 1217.5,556.2 1218.3,556.3 1219.0,556.4 1219.8,556.5 1220.5,556.6 1221.3,556.7 1222.0,556.8 1222.8,556.8 1223.5,556.9 1224.3,556.9 1225.0,556.9 1225.8,556.9 1226.5,556.9 1227.3,556.8 1228.0,556.8 1228.8,556.7 1229.5,556.6 1230.0,556.5" fill="none" stroke="#8f8f8f" stroke-width="1.2" stroke-linejoin="round" stroke-linecap="round" />
<path d="M1135.0,541.7 1135.8,542.0 1136.5,542.3 1137.2,542.5 1138.0,542.8 1138.8,543.0 1139.5,543.2 1140.2,543.4 1141.0,543.6 1141.8,543.7 1142.5,543.8 1143.2,543.9 1144.0,544.0 1144.8,544.1 1145.5,544.1 1146.2,544.1 1147.0,544.1 1147.8,544.0 1148.5,543.9 1149.2,543.8 1150.0,543.7 1150.8,543.5 1151.5,543.3 1152.2,543.1 1153.0,542.8 1153.8,542.5 1154.5,542.2 1155.2,541.9 1156.0,541.5 1156.8,541.1 1157.5,540.6 1158.2,540.1 1159.0,539.6 1159.8,539.1 1160.5,538.5 1161.2,537.9 1162.0,537.2 1162.8,536.5 1163.5,535.8 1164.2,535.1 1165.0,534.4 1165.8,533.6 1166.5,532.9 1167.2,532.1 1168.0,531.3 1168.8,530.6 1169.5,529.8 1170.2,529.0 1171.0,528.3 1171.8,527.6 1172.5,526.9 1173.2,526.2 1174.0,525.6 1174.8,525.0 1175.5,524.5 1176.2,523.9 1177.0,523.5 1177.8,523.0 1178.5,522.7 1179.2,522.3 1180.0,522.1 1180.8,521.9 1181.5,521.8 1182.2,521.7 1183.0,521.8 1183.8,521.9 1184.5,522.1 1185.2,522.4 1186.0,522.7 1186.8,523.2 1187.5,523.7 1188.2,524.4 1189.0,525.0 1189.8,525.8 1190.5,526.6 1191.2,527.5 1192.0,528.4 1192.8,529.3 1193.5,530.3 1194.2,531.4 1195.0,532.4 1195.8,533.5 1196.5,534.6 1197.2,535.7 1198.0,536.8 1198.8,537.9 1199.5,539.0 1200.2,540.0 1201.0,541.1 1201.8,542.2 1202.5,543.2 1203.2,544.2 1204.0,545.2 1204.8,546.2 1205.5,547.1 1206.2,548.0 1207.0,548.9 1207.8,549.7 1208.5,550.5 1209.2,551.2 1210.0,551.9 1210.8,552.5 1211.5,553.1 1212.2,553.6 1213.0,554.0 1213.8,554.4 1214.5,554.8 1215.2,555.1 1216.0,555.4 1216.8,555.6 1217.5,555.8 1218.2,555.9 1219.0,556.1 1219.8,556.2 1220.5,556.2 1221.2,556.3 1222.0,556.3 1222.8,556.3 1223.5,556.3 1224.2,556.3 1225.0,556.3 1225.8,556.3 1226.5,556.3 1227.2,556.3 1228.0,556.3 1228.8,556.3 1229.5,556.3 1230.2,556.3 1231.0,556.3 1231.8,556.4 1232.5,556.5 1233.2,556.6 1234.0,556.7 1234.8,556.8 1235.0,556.9" fill="none" stroke="#8f8f8f" stroke-width="1.2" stroke-linejoin="round" stroke-linecap="round" />
<path d="M1002.3,538.2 1003.0,538.2 1003.8,538.2 1004.5,538.2 1005.3,538.2 1006.0,538.2 1006.8,538.2 1007.5,538.2 1008.3,538.2 1009.0,538.2 1009.8,538.2 1010.5,538.2 1011.3,538.2 1012.0,538.2 1012.8,538.2 1013.5,538.2 1014.3,538.2 1015.0,538.1 1015.8,538.1 1016.5,538.1 1017.3,538.1 1018.0,538.1 1018.8,538.1 1019.5,538.1 1020.3,538.0 1021.0,538.0 1021.8,538.0 1022.5,538.0 1023.3,538.0 1024.0,538.0 1024.8,538.0 1025.5,537.9 1026.3,537.9 1027.0,537.9 1027.8,537.9 1028.5,537.9 1029.3,537.8 1030.0,537.8 1030.8,537.8 1031.5,537.8 1032.3,537.8 1033.0,537.8 1033.8,537.7 1034.5,537.7 1035.3,537.7 1036.0,537.7 1036.8,537.7 1037.5,537.6 1038.3,537.6 1039.0,537.6 1039.8,537.6 1040.5,537.6 1041.3,537.6 1042.0,537.5 1042.8,537.5 1043.5,537.5 1044.3,537.5 1045.0,537.5 1045.8,537.4 1046.5,537.4 1047.3,537.4 1048.0,537.4 1048.8,537.4 1049.5,537.4 1050.3,537.4 1051.0,537.3 1051.8,537.3 1052.5,537.3 1053.3,537.3 1054.0,537.3 1054.8,537.3 1055.5,537.3 1056.3,537.2 1057.0,537.2 1057.8,537.2 1058.5,537.2 1059.3,537.2 1060.0,537.2 1060.8,537.2 1061.5,537.2 1062.3,537.2 1063.0,537.2 1063.8,537.2 1064.5,537.2 1065.3,537.2 1066.0,537.2 1066.8,537.2 1067.5,537.2 1068.3,537.1 1069.0,537.2 1069.8,537.2 1070.5,537.2 1071.3,537.2 1072.0,537.2 1072.8,537.2 1073.5,537.2 1074.3,537.2 1075.0,537.2 1075.8,537.2 1076.5,537.2 1077.3,537.2 1078.0,537.2 1078.8,537.2 1079.5,537.3 1080.3,537.3 1081.0,537.3 1081.8,537.3 1082.5,537.3 1083.3,537.3 1084.0,537.4 1084.8,537.4 1085.5,537.4 1086.3,537.4 1087.0,537.5 1087.8,537.5 1088.5,537.5 1089.3,537.5 1090.0,537.6 1090.8,537.6 1091.5,537.6 1092.3,537.7 1093.0,537.7 1093.8,537.8 1094.5,537.8 1095.3,537.8 1096.0,537.9 1096.8,537.9 1097.5,538.0 1098.3,538.0 1099.0,538.1 1099.8,538.1 1100.5,538.2 1101.3,538.2 1102.0,538.3 1102.8,538.3 1103.5,538.4 1104.3,538.5 1105.0,538.5 1105.8,538.6 1106.5,538.7 1107.3,538.7 1108.0,538.8 1108.8,538.9 1109.5,539.0 1110.3,539.0 1111.0,539.1 1111.8,539.2 1112.5,539.3 1113.3,539.4 1114.0,539.4 1114.8,539.5 1115.5,539.6 1116.3,539.7 1117.0,539.8 1117.8,539.9 1118.5,540.0 1119.3,540.1 1120.0,540.2 1120.8,540.3 1121.5,540.4 1122.3,540.5 1123.0,540.6 1123.8,540.8 1124.5,540.9 1125.3,541.0 1126.0,541.1 1126.8,541.2 1127.5,541.4 1128.3,541.5 1129.0,541.6 1129.8,541.7 1130.5,541.9 1131.3,542.0 1132.0,542.1 1132.8,542.3 1133.5,542.4 1134.3,542.6 1135.0,542.7 1135.8,542.9 1136.5,543.0 1137.3,543.1 1138.0,543.3 1138.8,543.4 1139.5,543.6 1140.3,543.7 1141.0,543.9 1141.8,544.1 1142.5,544.2 1143.3,544.4 1144.0,544.5 1144.8,544.7 1145.5,544.9 1146.3,545.0 1147.0,545.2 1147.8,545.3 1148.5,545.5 1149.3,545.7 1150.0,545.8 1150.8,546.0 1151.5,546.2 1152.3,546.3 1153.0,546.5 1153.8,546.7 1154.5,546.8 1155.3,547.0 1156.0,547.2 1156.8,547.3 1157.5,547.5 1158.3,547.7 1159.0,547.8 1159.8,548.0 1160.5,548.2 1161.3,548.4 1162.0,548.5 1162.8,548.7 1163.5,548.9 1164.3,549.0 1165.0,549.2 1165.8,549.4 1166.5,549.5 1167.3,549.7 1168.0,549.9 1168.8,550.0 1169.5,550.2 1170.3,550.4 1171.0,550.5 1171.8,550.7 1172.5,550.8 1173.3,551.0 1174.0,551.2 1174.8,551.3 1175.5,551.5 1176.3,551.6 1177.0,551.8 1177.8,552.0 1178.5,552.1 1179.3,552.3 1180.0,552.4 1180.8,552.6 1181.5,552.7 1182.3,552.9 1183.0,553.0 1183.8,553.2 1184.5,553.3 1185.3,553.4 1186.0,553.6 1186.8,553.7 1187.5,553.9 1188.3,554.0 1189.0,554.1 1189.8,554.3 1190.5,554.4 1191.3,554.5 1192.0,554.6 1192.8,554.8 1193.5,554.9 1194.3,555.0 1195.0,555.1 1195.8,555.2 1196.5,555.3 1197.3,555.5 1198.0,555.6 1198.8,555.7 1199.5,555.8 1200.3,555.9 1201.0,556.0 1201.8,556.1 1202.5,556.2 1203.3,556.2 1204.0,556.3 1204.8,556.4 1205.5,556.5 1206.3,556.6 1207.0,556.6 1207.8,556.7 1208.5,556.8 1209.3,556.9 1210.0,556.9 1210.8,557.0 1211.5,557.0 1212.3,557.1 1213.0,557.1 1213.8,557.2 1214.5,557.2 1215.3,557.3 1216.0,557.3 1216.8,557.3 1217.5,557.4 1218.3,557.4 1219.0,557.4 1219.8,557.4 1220.5,557.4 1221.3,557.4 1222.0,557.4 1222.8,557.4 1223.5,557.4 1224.3,557.4 1225.0,557.4 1225.8,557.4 1226.5,557.4 1227.3,557.4 1228.0,557.3 1228.8,557.3 1229.5,557.3 1230.3,557.2 1231.0,557.2 1231.8,557.1 1232.5,557.1 1233.3,557.0 1234.0,557.0 1234.8,556.9 1235.5,556.8 1236.3,556.7 1237.0,556.6 1237.8,556.6 1238.5,556.5 1239.3,556.4 1240.0,556.3 1240.8,556.2 1241.5,556.0 1242.3,555.9 1243.0,555.8 1243.8,555.7 1244.5,555.5 1245.0,555.5" fill="none" stroke="#3a3a3a" stroke-width="1.8" stroke-linejoin="round" stroke-linecap="round" />
<path d="M1002.3,537.0 1003.0,537.1 1003.8,537.1 1004.5,537.2 1005.3,537.2 1006.0,537.3 1006.8,537.3 1007.5,537.4 1008.3,537.4 1009.0,537.4 1009.8,537.5 1010.5,537.5 1011.3,537.5 1012.0,537.6 1012.8,537.6 1013.5,537.6 1014.3,537.6 1015.0,537.7 1015.8,537.7 1016.5,537.7 1017.3,537.7 1018.0,537.7 1018.8,537.7 1019.5,537.7 1020.3,537.7 1021.0,537.8 1021.8,537.8 1022.5,537.8 1023.3,537.8 1024.0,537.8 1024.8,537.8 1025.5,537.8 1026.3,537.8 1027.0,537.8 1027.8,537.8 1028.5,537.7 1029.3,537.7 1030.0,537.7 1030.8,537.7 1031.5,537.7 1032.3,537.7 1033.0,537.7 1033.8,537.7 1034.5,537.7 1035.3,537.7 1036.0,537.6 1036.8,537.6 1037.5,537.6 1038.3,537.6 1039.0,537.6 1039.8,537.6 1040.5,537.6 1041.3,537.6 1042.0,537.5 1042.8,537.5 1043.5,537.5 1044.3,537.5 1045.0,537.5 1045.8,537.5 1046.5,537.5 1047.3,537.4 1048.0,537.4 1048.8,537.4 1049.5,537.4 1050.3,537.4 1051.0,537.4 1051.8,537.4 1052.5,537.4 1053.3,537.4 1054.0,537.4 1054.8,537.4 1055.5,537.4 1056.3,537.3 1057.0,537.3 1057.8,537.3 1058.5,537.3 1059.3,537.3 1060.0,537.3 1060.8,537.4 1061.5,537.4 1062.3,537.4 1063.0,537.4 1063.8,537.4 1064.5,537.4 1065.3,537.4 1066.0,537.4 1066.8,537.4 1067.5,537.4 1068.3,537.4 1069.0,537.4 1069.8,537.4 1070.5,537.4 1071.3,537.4 1072.0,537.3 1072.8,537.3 1073.5,537.2 1074.3,537.1 1075.0,537.0 1075.8,536.9 1076.5,536.8 1077.3,536.6 1078.0,536.5 1078.8,536.3 1079.5,536.1 1080.3,535.8 1081.0,535.5 1081.8,535.2 1082.5,534.9 1083.3,534.6 1084.0,534.2 1084.8,533.8 1085.5,533.3 1086.3,532.8 1087.0,532.3 1087.8,531.8 1088.5,531.2 1089.3,530.5 1090.0,529.8 1090.8,529.1 1091.5,528.4 1092.3,527.6 1093.0,526.7 1093.8,525.8 1094.5,524.8 1095.3,523.8 1096.0,522.8 1096.8,521.7 1097.5,520.5 1098.3,519.3 1099.0,518.1 1099.8,516.8 1100.5,515.4 1101.3,514.0 1102.0,512.5 1102.8,510.9 1103.5,509.3 1104.3,507.6 1105.0,505.9 1105.8,504.1 1106.5,502.3 1107.3,500.3 1108.0,498.4 1108.8,496.3 1109.5,494.2 1110.3,492.0 1111.0,489.7 1111.8,487.4 1112.5,485.0 1113.3,482.6 1114.0,480.1 1114.8,477.5 1115.5,474.9 1116.3,472.3 1117.0,469.6 1117.8,466.9 1118.5,464.1 1119.3,461.3 1120.0,458.5 1120.8,455.7 1121.5,452.8 1122.3,449.9 1123.0,447.1 1123.8,444.2 1124.5,441.2 1125.3,438.3 1126.0,435.4 1126.8,432.5 1127.5,429.6 1128.3,426.8 1129.0,423.9 1129.8,421.1 1130.5,418.4 1131.3,415.7 1132.0,413.1 1132.8,410.5 1133.5,408.0 1134.3,405.6 1135.0,403.3 1135.8,401.1 1136.5,399.1 1137.3,397.1 1138.0,395.3 1138.8,393.5 1139.5,392.0 1140.3,390.6 1141.0,389.3 1141.8,388.2 1142.5,387.3 1143.3,386.5 1144.0,385.9 1144.8,385.4 1145.5,385.1 1146.3,384.9 1147.0,384.9 1147.8,384.9 1148.5,385.1 1149.3,385.4 1150.0,385.8 1150.8,386.4 1151.5,387.0 1152.3,387.7 1153.0,388.5 1153.8,389.5 1154.5,390.5 1155.3,391.5 1156.0,392.7 1156.8,393.9 1157.5,395.2 1158.3,396.7 1159.0,398.4 1159.8,400.3 1160.5,402.4 1161.3,404.9 1162.0,407.5 1162.8,410.3 1163.5,413.1 1164.3,415.9 1165.0,418.5 1165.8,421.0 1166.5,423.5 1167.3,425.8 1168.0,428.0 1168.8,430.2 1169.5,432.4 1170.3,434.5 1171.0,436.6 1171.8,438.8 1172.5,440.9 1173.3,443.1 1174.0,445.3 1174.8,447.5 1175.5,449.8 1176.3,452.0 1177.0,454.3 1177.8,456.6 1178.5,458.9 1179.3,461.2 1180.0,463.5 1180.8,465.8 1181.5,468.1 1182.3,470.4 1183.0,472.7 1183.8,475.0 1184.5,477.3 1185.3,479.6 1186.0,481.9 1186.8,484.1 1187.5,486.4 1188.3,488.6 1189.0,490.8 1189.8,493.0 1190.5,495.2 1191.3,497.4 1192.0,499.5 1192.8,501.6 1193.5,503.7 1194.3,505.7 1195.0,507.8 1195.8,509.8 1196.5,511.7 1197.3,513.7 1198.0,515.6 1198.8,517.5 1199.5,519.3 1200.3,521.1 1201.0,522.9 1201.8,524.6 1202.5,526.3 1203.3,528.0 1204.0,529.6 1204.8,531.2 1205.5,532.7 1206.3,534.2 1207.0,535.7 1207.8,537.1 1208.5,538.4 1209.3,539.7 1210.0,541.0 1210.8,542.2 1211.5,543.4 1212.3,544.5 1213.0,545.5 1213.8,546.5 1214.5,547.5 1215.3,548.3 1216.0,549.2 1216.8,549.9 1217.5,550.6 1218.3,551.3 1219.0,551.9 1219.8,552.4 1220.5,552.9 1221.3,553.3 1222.0,553.7 1222.8,554.0 1223.5,554.3 1224.3,554.5 1225.0,554.8 1225.8,554.9 1226.5,555.1 1227.3,555.2 1228.0,555.3 1228.8,555.4 1229.5,555.4 1230.3,555.5 1231.0,555.5 1231.8,555.5 1232.5,555.5 1233.3,555.5 1234.0,555.5 1234.8,555.5 1235.5,555.5 1236.3,555.5 1237.0,555.5 1237.8,555.6 1238.5,555.6 1239.3,555.6 1240.0,555.7 1240.8,555.8 1241.5,555.9 1242.3,556.1 1243.0,556.3 1243.8,556.5 1244.5,556.7 1245.3,557.0 1246.0,557.3 1246.8,557.7 1247.0,557.8" fill="none" stroke="#505050" stroke-width="1.8" stroke-linejoin="round" stroke-linecap="round" />
<g transform="translate(1190.80,445.90) scale(0.9189,1) translate(-1.64,0)" fill="#1e1e1e" font-weight="normal" font-style="normal" stroke="#1e1e1e" stroke-width="0.3" stroke-linejoin="round"><text x="0.00" y="0.00" font-size="20.50">B</text><text x="13.67" y="6.50" font-size="13.50">2</text><text x="21.18" y="0.00" font-size="20.50">O</text><text x="37.13" y="6.50" font-size="13.50">3</text></g>
<g transform="translate(1211.50,505.20) scale(0.8532,1) translate(-0.10,0)" fill="#1e1e1e" font-weight="normal" font-style="normal" stroke="#1e1e1e" stroke-width="0.3" stroke-linejoin="round"><text x="0.00" y="0.00" font-size="20.50">VO</text><text x="29.62" y="6.50" font-size="13.50">2</text></g>
<g transform="translate(1212.20,529.60) scale(0.9303,1) translate(-0.82,0)" fill="#1e1e1e" font-weight="normal" font-style="normal" stroke="#1e1e1e" stroke-width="0.3" stroke-linejoin="round"><text x="0.00" y="0.00" font-size="20.50">or V</text><text x="37.60" y="6.50" font-size="13.50">2</text><text x="45.11" y="0.00" font-size="20.50">O</text><text x="61.05" y="6.50" font-size="13.50">3</text></g>
<line x1="1185.00" y1="440.10" x2="1163.36" y2="461.74" stroke="#3a6cbf" stroke-width="2.2"/>
<polygon points="1157.70,467.40 1160.88,457.85 1167.25,464.22" fill="#3a6cbf"/>
<line x1="1210.00" y1="512.50" x2="1187.63" y2="533.52" stroke="#3a6cbf" stroke-width="2.2"/>
<polygon points="1181.80,539.00 1185.28,529.56 1191.44,536.12" fill="#3a6cbf"/>
<line x1="100.60" y1="808.30" x2="422.10" y2="808.30" stroke="#1f1f1f" stroke-width="2.2"/>
<line x1="144.70" y1="804.30" x2="144.70" y2="813.30" stroke="#1f1f1f" stroke-width="2.0"/>
<line x1="211.55" y1="804.30" x2="211.55" y2="813.30" stroke="#1f1f1f" stroke-width="2.0"/>
<line x1="278.40" y1="804.30" x2="278.40" y2="813.30" stroke="#1f1f1f" stroke-width="2.0"/>
<line x1="345.25" y1="804.30" x2="345.25" y2="813.30" stroke="#1f1f1f" stroke-width="2.0"/>
<line x1="412.10" y1="804.30" x2="412.10" y2="813.30" stroke="#1f1f1f" stroke-width="2.0"/>
<g transform="translate(121.30,829.50) scale(1.0197,1) translate(-0.66,0)" fill="#555555" font-weight="normal" font-style="normal" stroke="#555555" stroke-width="0.15" stroke-linejoin="round"><text x="0.00" y="0.00" font-size="16.50">520.0</text></g>
<g transform="translate(188.15,829.50) scale(1.0197,1) translate(-0.66,0)" fill="#555555" font-weight="normal" font-style="normal" stroke="#555555" stroke-width="0.15" stroke-linejoin="round"><text x="0.00" y="0.00" font-size="16.50">518.0</text></g>
<g transform="translate(255.00,829.50) scale(1.0197,1) translate(-0.66,0)" fill="#555555" font-weight="normal" font-style="normal" stroke="#555555" stroke-width="0.15" stroke-linejoin="round"><text x="0.00" y="0.00" font-size="16.50">516.0</text></g>
<g transform="translate(321.85,829.50) scale(1.0197,1) translate(-0.66,0)" fill="#555555" font-weight="normal" font-style="normal" stroke="#555555" stroke-width="0.15" stroke-linejoin="round"><text x="0.00" y="0.00" font-size="16.50">514.0</text></g>
<g transform="translate(388.70,829.50) scale(1.0197,1) translate(-0.66,0)" fill="#555555" font-weight="normal" font-style="normal" stroke="#555555" stroke-width="0.15" stroke-linejoin="round"><text x="0.00" y="0.00" font-size="16.50">512.0</text></g>
<g transform="translate(179.20,857.00) scale(1.0338,1) translate(-1.56,0)" fill="#2e2e2e" font-weight="normal" font-style="normal" stroke="#2e2e2e" stroke-width="0.3" stroke-linejoin="round"><text x="0.00" y="0.00" font-size="19.50">Binding Energy (eV)</text></g>
<g transform="translate(13.80,684.00) scale(0.9644,1) translate(-1.53,0)" fill="#222222" font-weight="normal" font-style="normal" stroke="#222222" stroke-width="0.3" stroke-linejoin="round"><text x="0.00" y="0.00" font-size="25.50">(c)</text></g>
<g transform="translate(96.10,652.00) scale(1.0776,1) translate(-0.10,0)" fill="#1e1e1e" font-weight="bold" font-style="normal" stroke="#1e1e1e" stroke-width="0.1" stroke-linejoin="round"><text x="0.00" y="0.00" font-size="20.00">V</text><text x="13.34" y="6.00" font-size="13.00">2p3/2</text></g>
<g transform="translate(96.10,678.60) scale(1.0016,1) translate(-1.30,0)" fill="#1e1e1e" font-weight="bold" font-style="normal" stroke="#1e1e1e" stroke-width="0.1" stroke-linejoin="round"><text x="0.00" y="0.00" font-size="20.00">Macro VB</text><text x="92.25" y="6.50" font-size="13.00">2</text></g>
<line x1="101.90" y1="777.50" x2="111.10" y2="777.50" stroke="#b0b0b0" stroke-width="1.2"/>
<path d="M111.4,777.6 112.2,777.4 112.9,777.3 113.7,777.1 114.4,776.9 115.2,776.7 115.9,776.6 116.7,776.5 117.4,776.3 118.2,776.2 118.9,776.1 119.7,776.0 120.4,775.9 121.2,775.9 121.9,775.8 122.7,775.7 123.4,775.6 124.2,775.6 124.9,775.5 125.7,775.5 126.4,775.5 127.2,775.4 127.9,775.4 128.7,775.4 129.4,775.3 130.2,775.3 130.9,775.3 131.7,775.3 132.4,775.3 133.2,775.2 133.9,775.2 134.7,775.2 135.4,775.2 136.2,775.2 136.9,775.1 137.7,775.1 138.4,775.1 139.2,775.1 139.9,775.0 140.7,775.0 141.4,775.0 142.2,774.9 142.9,774.9 143.7,774.8 144.4,774.7 145.2,774.7 145.9,774.6 146.7,774.5 147.4,774.4 148.2,774.3 148.9,774.2 149.7,774.1 150.4,774.0 151.2,773.8 151.9,773.7 152.7,773.5 153.4,773.4 154.2,773.2 154.9,773.0 155.7,772.8 156.4,772.6 157.2,772.3 157.9,772.1 158.7,771.8 159.4,771.6 160.2,771.3 160.9,771.0 161.7,770.6 162.4,770.3 163.2,769.9 163.9,769.6 164.7,769.2 165.4,768.8 166.2,768.3 166.9,767.9 167.7,767.4 168.4,766.9 169.2,766.4 169.9,765.8 170.7,765.2 171.4,764.6 172.2,763.9 172.9,763.2 173.7,762.5 174.4,761.7 175.2,760.8 175.9,759.9 176.7,759.0 177.4,758.0 178.2,756.9 178.9,755.8 179.7,754.6 180.4,753.4 181.2,752.1 181.9,750.7 182.7,749.3 183.4,747.8 184.2,746.2 184.9,744.7 185.7,743.0 186.4,741.3 187.2,739.5 187.9,737.7 188.7,735.9 189.4,733.9 190.2,732.0 190.9,730.0 191.7,727.9 192.4,725.8 193.2,723.6 193.9,721.4 194.7,719.2 195.4,716.9 196.2,714.5 196.9,712.1 197.7,709.7 198.4,707.2 199.2,704.6 199.9,702.0 200.7,699.3 201.4,696.5 202.2,693.7 202.9,690.9 203.7,687.9 204.4,685.0 205.2,681.9 205.9,678.8 206.7,675.6 207.4,672.4 208.2,669.1 208.9,665.9 209.7,662.7 210.4,659.5 211.2,656.5 211.9,653.5 212.7,650.7 213.4,648.0 214.2,645.5 214.9,643.2 215.7,641.1 216.4,639.1 217.2,637.3 217.9,635.7 218.7,634.3 219.4,633.1 220.2,632.1 220.9,631.3 221.7,630.7 222.4,630.3 223.2,630.0 223.9,630.0 224.7,630.2 225.4,630.5 226.2,631.0 226.9,631.7 227.7,632.6 228.4,633.7 229.2,634.9 229.9,636.3 230.7,637.9 231.4,639.7 232.2,641.6 232.9,643.8 233.7,646.0 234.4,648.4 235.2,651.0 235.9,653.7 236.7,656.5 237.4,659.5 238.2,662.5 238.9,665.7 239.7,668.9 240.4,672.2 241.2,675.7 241.9,679.1 242.7,682.7 243.4,686.3 244.2,689.9 244.9,693.6 245.7,697.2 246.4,701.0 247.2,704.7 247.9,708.4 248.7,712.1 249.4,715.8 250.2,719.5 250.9,723.1 251.7,726.7 252.4,730.2 253.2,733.7 253.9,737.1 254.7,740.4 255.4,743.7 256.1,746.8 256.9,749.9 257.6,752.8 258.4,755.7 259.1,758.3 259.9,760.9 260.6,763.3 261.4,765.6 262.1,767.8 262.9,769.8 263.6,771.8 264.4,773.6 265.1,775.4 265.9,777.0 266.6,778.5 267.4,780.0 268.1,781.4 268.9,782.7 269.6,783.9 270.4,785.1 271.1,786.2 271.9,787.3 272.6,788.3 273.4,789.2 274.1,790.1 274.9,791.0 275.6,791.8 276.4,792.6 277.1,793.3 277.9,794.0 278.6,794.6 279.4,795.3 280.1,795.8 280.9,796.4 281.6,796.9 282.4,797.4 283.1,797.8 283.9,798.3 284.6,798.7 285.4,799.0 286.1,799.4 286.9,799.7 287.6,800.0 288.4,800.3 289.1,800.6 289.9,800.8 290.6,801.0 291.4,801.3 292.1,801.5 292.9,801.7 293.6,801.9 294.4,802.1 295.1,802.2 295.9,802.4 296.6,802.6 297.4,802.7 298.1,802.9 298.9,803.1 299.6,803.3 300.4,803.4 301.1,803.6 301.9,803.8 302.6,804.0 303.4,804.1 304.1,804.3 304.9,804.5 305.6,804.7 306.4,804.8 307.1,805.0 307.9,805.1 308.6,805.3 309.4,805.5 310.1,805.6 310.9,805.7 311.6,805.9 312.4,806.0 313.1,806.1 313.9,806.2 314.6,806.3 315.4,806.4 316.1,806.4 316.9,806.5 317.6,806.5 318.4,806.6 319.1,806.6 319.9,806.6 320.6,806.6 321.4,806.5 322.1,806.5 322.9,806.4 323.6,806.3 324.4,806.2 325.0,806.2" fill="none" stroke="#8f8f8f" stroke-width="1.2" stroke-linejoin="round" stroke-linecap="round" />
<path d="M195.0,782.7 195.8,782.4 196.5,782.2 197.2,782.1 198.0,782.0 198.8,781.9 199.5,781.9 200.2,781.9 201.0,782.0 201.8,782.1 202.5,782.2 203.2,782.3 204.0,782.5 204.8,782.7 205.5,782.9 206.2,783.1 207.0,783.3 207.8,783.6 208.5,783.9 209.2,784.1 210.0,784.4 210.8,784.7 211.5,785.0 212.2,785.3 213.0,785.5 213.8,785.8 214.5,786.1 215.2,786.3 216.0,786.6 216.8,786.8 217.5,787.0 218.2,787.2 219.0,787.4 219.8,787.5 220.5,787.6 221.2,787.7 222.0,787.8 222.8,787.8 223.5,787.8 224.2,787.8 225.0,787.7 225.8,787.5 226.5,787.4 227.2,787.1 228.0,786.9 228.8,786.5 229.5,786.2 230.2,785.7 231.0,785.3 231.8,784.8 232.5,784.2 233.2,783.6 234.0,783.0 234.8,782.3 235.5,781.7 236.2,780.9 237.0,780.2 237.8,779.4 238.5,778.7 239.2,777.9 240.0,777.0 240.8,776.2 241.5,775.4 242.2,774.5 243.0,773.6 243.8,772.8 244.5,771.9 245.2,771.0 246.0,770.2 246.8,769.3 247.5,768.5 248.2,767.6 249.0,766.8 249.8,766.0 250.5,765.2 251.2,764.4 252.0,763.7 252.8,762.9 253.5,762.2 254.2,761.5 255.0,760.9 255.8,760.3 256.5,759.7 257.2,759.2 258.0,758.7 258.8,758.2 259.5,757.8 260.2,757.5 261.0,757.2 261.8,756.9 262.5,756.7 263.2,756.5 264.0,756.4 264.8,756.4 265.5,756.4 266.2,756.4 267.0,756.5 267.8,756.7 268.5,756.9 269.2,757.2 270.0,757.5 270.8,757.9 271.5,758.3 272.2,758.8 273.0,759.3 273.8,759.9 274.5,760.6 275.2,761.3 276.0,762.0 276.8,762.9 277.5,763.7 278.2,764.7 279.0,765.7 279.8,766.7 280.5,767.8 281.2,768.9 282.0,770.0 282.8,771.2 283.5,772.4 284.2,773.6 285.0,774.8 285.8,776.0 286.5,777.3 287.2,778.5 288.0,779.8 288.8,781.1 289.5,782.3 290.2,783.5 291.0,784.8 291.8,786.0 292.5,787.1 293.2,788.3 294.0,789.4 294.8,790.5 295.5,791.5 296.2,792.5 297.0,793.5 297.8,794.5 298.5,795.4 299.2,796.3 300.0,797.1 300.8,797.9 301.5,798.7 302.2,799.5 303.0,800.2 303.8,800.9 304.5,801.5 305.2,802.1 306.0,802.7 306.8,803.2 307.5,803.7 308.2,804.1 309.0,804.5 309.8,804.9 310.5,805.2 311.2,805.5 312.0,805.8 312.8,806.0 313.5,806.2 314.2,806.4 315.0,806.5 315.8,806.6 316.5,806.7 317.2,806.7 318.0,806.7 318.8,806.7 319.5,806.7 320.2,806.6 321.0,806.6 321.8,806.5 322.5,806.4 323.2,806.2 324.0,806.1 324.8,805.9 325.0,805.9" fill="none" stroke="#8f8f8f" stroke-width="1.2" stroke-linejoin="round" stroke-linecap="round" />
<path d="M111.4,777.3 112.2,777.4 112.9,777.4 113.7,777.4 114.4,777.5 115.2,777.5 115.9,777.6 116.7,777.6 117.4,777.6 118.2,777.6 118.9,777.7 119.7,777.7 120.4,777.7 121.2,777.7 121.9,777.7 122.7,777.7 123.4,777.8 124.2,777.8 124.9,777.8 125.7,777.8 126.4,777.8 127.2,777.8 127.9,777.8 128.7,777.8 129.4,777.8 130.2,777.8 130.9,777.8 131.7,777.8 132.4,777.8 133.2,777.8 133.9,777.8 134.7,777.8 135.4,777.8 136.2,777.7 136.9,777.7 137.7,777.7 138.4,777.7 139.2,777.7 139.9,777.7 140.7,777.7 141.4,777.7 142.2,777.7 142.9,777.7 143.7,777.7 144.4,777.7 145.2,777.6 145.9,777.6 146.7,777.6 147.4,777.6 148.2,777.6 148.9,777.6 149.7,777.6 150.4,777.6 151.2,777.6 151.9,777.6 152.7,777.6 153.4,777.6 154.2,777.6 154.9,777.7 155.7,777.7 156.4,777.7 157.2,777.7 157.9,777.7 158.7,777.7 159.4,777.7 160.2,777.8 160.9,777.8 161.7,777.8 162.4,777.8 163.2,777.9 163.9,777.9 164.7,777.9 165.4,778.0 166.2,778.0 166.9,778.1 167.7,778.1 168.4,778.2 169.2,778.2 169.9,778.3 170.7,778.3 171.4,778.4 172.2,778.5 172.9,778.6 173.7,778.6 174.4,778.7 175.2,778.8 175.9,778.9 176.7,779.0 177.4,779.1 178.2,779.2 178.9,779.3 179.7,779.4 180.4,779.5 181.2,779.6 181.9,779.7 182.7,779.8 183.4,779.9 184.2,780.0 184.9,780.2 185.7,780.3 186.4,780.4 187.2,780.6 187.9,780.7 188.7,780.9 189.4,781.0 190.2,781.2 190.9,781.3 191.7,781.5 192.4,781.7 193.2,781.8 193.9,782.0 194.7,782.2 195.4,782.3 196.2,782.5 196.9,782.7 197.7,782.9 198.4,783.1 199.2,783.3 199.9,783.5 200.7,783.7 201.4,783.9 202.2,784.1 202.9,784.4 203.7,784.6 204.4,784.8 205.2,785.0 205.9,785.2 206.7,785.5 207.4,785.7 208.2,785.9 208.9,786.2 209.7,786.4 210.4,786.7 211.2,786.9 211.9,787.1 212.7,787.4 213.4,787.6 214.2,787.9 214.9,788.1 215.7,788.4 216.4,788.7 217.2,788.9 217.9,789.2 218.7,789.4 219.4,789.7 220.2,789.9 220.9,790.2 221.7,790.5 222.4,790.7 223.2,791.0 223.9,791.2 224.7,791.5 225.4,791.7 226.2,792.0 226.9,792.3 227.7,792.5 228.4,792.8 229.2,793.0 229.9,793.3 230.7,793.5 231.4,793.8 232.2,794.1 232.9,794.3 233.7,794.6 234.4,794.8 235.2,795.1 235.9,795.3 236.7,795.6 237.4,795.8 238.2,796.1 238.9,796.3 239.7,796.5 240.4,796.8 241.2,797.0 241.9,797.3 242.7,797.5 243.4,797.7 244.2,798.0 244.9,798.2 245.7,798.4 246.4,798.7 247.2,798.9 247.9,799.1 248.7,799.3 249.4,799.6 250.2,799.8 250.9,800.0 251.7,800.2 252.4,800.4 253.2,800.6 253.9,800.9 254.7,801.1 255.4,801.3 256.1,801.5 256.9,801.7 257.6,801.9 258.4,802.1 259.1,802.3 259.9,802.4 260.6,802.6 261.4,802.8 262.1,803.0 262.9,803.2 263.6,803.4 264.4,803.5 265.1,803.7 265.9,803.9 266.6,804.0 267.4,804.2 268.1,804.3 268.9,804.5 269.6,804.7 270.4,804.8 271.1,804.9 271.9,805.1 272.6,805.2 273.4,805.4 274.1,805.5 274.9,805.6 275.6,805.7 276.4,805.9 277.1,806.0 277.9,806.1 278.6,806.2 279.4,806.3 280.1,806.4 280.9,806.5 281.6,806.6 282.4,806.7 283.1,806.8 283.9,806.9 284.6,806.9 285.4,807.0 286.1,807.1 286.9,807.1 287.6,807.2 288.4,807.3 289.1,807.3 289.9,807.4 290.6,807.4 291.4,807.5 292.1,807.5 292.9,807.5 293.6,807.6 294.4,807.6 295.1,807.6 295.9,807.6 296.6,807.7 297.4,807.7 298.1,807.7 298.9,807.7 299.6,807.7 300.4,807.7 301.1,807.7 301.9,807.7 302.6,807.8 303.4,807.7 304.1,807.7 304.9,807.7 305.6,807.7 306.4,807.7 307.1,807.7 307.9,807.7 308.6,807.7 309.4,807.7 310.1,807.7 310.9,807.6 311.6,807.6 312.4,807.6 313.1,807.6 313.9,807.6 314.6,807.5 315.4,807.5 316.1,807.5 316.9,807.5 317.6,807.4 318.4,807.4 319.1,807.4 319.9,807.4 320.6,807.3 321.4,807.3 322.1,807.3 322.9,807.3 323.6,807.2 324.4,807.2 325.1,807.2 325.9,807.1 326.6,807.1 327.4,807.1 328.1,807.1 328.9,807.0 329.6,807.0 330.4,807.0 331.1,807.0 331.9,806.9 332.6,806.9 333.4,806.9 334.1,806.9 334.9,806.9 335.6,806.9 336.4,806.8 337.1,806.8 337.9,806.8 338.6,806.8 339.4,806.8 340.0,806.8" fill="none" stroke="#3a3a3a" stroke-width="1.8" stroke-linejoin="round" stroke-linecap="round" />
<path d="M111.4,777.2 112.2,777.1 112.9,777.0 113.7,776.9 114.4,776.8 115.2,776.7 115.9,776.6 116.7,776.5 117.4,776.4 118.2,776.3 118.9,776.2 119.7,776.2 120.4,776.1 121.2,776.0 121.9,776.0 122.7,775.9 123.4,775.8 124.2,775.8 124.9,775.7 125.7,775.7 126.4,775.7 127.2,775.6 127.9,775.6 128.7,775.5 129.4,775.5 130.2,775.4 130.9,775.4 131.7,775.4 132.4,775.3 133.2,775.3 133.9,775.3 134.7,775.2 135.4,775.2 136.2,775.1 136.9,775.1 137.7,775.1 138.4,775.0 139.2,775.0 139.9,774.9 140.7,774.9 141.4,774.8 142.2,774.7 142.9,774.7 143.7,774.6 144.4,774.6 145.2,774.5 145.9,774.4 146.7,774.3 147.4,774.2 148.2,774.1 148.9,774.1 149.7,774.0 150.4,773.8 151.2,773.7 151.9,773.6 152.7,773.5 153.4,773.3 154.2,773.2 154.9,773.0 155.7,772.9 156.4,772.7 157.2,772.5 157.9,772.3 158.7,772.0 159.4,771.8 160.2,771.5 160.9,771.2 161.7,770.9 162.4,770.6 163.2,770.2 163.9,769.8 164.7,769.4 165.4,769.0 166.2,768.5 166.9,768.0 167.7,767.5 168.4,767.0 169.2,766.4 169.9,765.8 170.7,765.1 171.4,764.4 172.2,763.7 172.9,762.9 173.7,762.1 174.4,761.3 175.2,760.4 175.9,759.5 176.7,758.5 177.4,757.5 178.2,756.4 178.9,755.3 179.7,754.2 180.4,753.0 181.2,751.7 181.9,750.4 182.7,749.1 183.4,747.7 184.2,746.2 184.9,744.7 185.7,743.1 186.4,741.5 187.2,739.8 187.9,738.1 188.7,736.3 189.4,734.4 190.2,732.5 190.9,730.5 191.7,728.4 192.4,726.3 193.2,724.1 193.9,721.9 194.7,719.6 195.4,717.3 196.2,714.9 196.9,712.4 197.7,709.9 198.4,707.3 199.2,704.7 199.9,702.0 200.7,699.3 201.4,696.5 202.2,693.6 202.9,690.7 203.7,687.8 204.4,684.8 205.2,681.7 205.9,678.6 206.7,675.5 207.4,672.3 208.2,669.0 208.9,665.7 209.7,662.4 210.4,659.2 211.2,656.0 211.9,653.0 212.7,650.1 213.4,647.5 214.2,645.1 214.9,643.0 215.7,641.0 216.4,639.3 217.2,637.7 217.9,636.3 218.7,635.0 219.4,633.8 220.2,632.7 220.9,631.7 221.7,631.0 222.4,630.3 223.2,629.9 223.9,629.6 224.7,629.5 225.4,629.6 226.2,630.0 226.9,630.5 227.7,631.3 228.4,632.3 229.2,633.6 229.9,635.1 230.7,636.7 231.4,638.6 232.2,640.6 232.9,642.8 233.7,645.2 234.4,647.6 235.2,650.2 235.9,652.9 236.7,655.7 237.4,658.5 238.2,661.4 238.9,664.4 239.7,667.4 240.4,670.4 241.2,673.4 241.9,676.4 242.7,679.4 243.4,682.3 244.2,685.2 244.9,688.1 245.7,690.8 246.4,693.5 247.2,696.0 247.9,698.5 248.7,700.8 249.4,703.0 250.2,705.1 250.9,707.1 251.7,709.0 252.4,710.8 253.2,712.6 253.9,714.2 254.7,715.8 255.4,717.4 256.1,718.9 256.9,720.3 257.6,721.6 258.4,723.0 259.1,724.3 259.9,725.5 260.6,726.8 261.4,728.0 262.1,729.2 262.9,730.4 263.6,731.6 264.4,732.8 265.1,734.0 265.9,735.2 266.6,736.5 267.4,737.7 268.1,739.0 268.9,740.3 269.6,741.6 270.4,742.9 271.1,744.3 271.9,745.6 272.6,747.0 273.4,748.3 274.1,749.7 274.9,751.1 275.6,752.5 276.4,753.9 277.1,755.3 277.9,756.7 278.6,758.1 279.4,759.6 280.1,761.0 280.9,762.4 281.6,763.8 282.4,765.2 283.1,766.6 283.9,768.0 284.6,769.4 285.4,770.8 286.1,772.2 286.9,773.6 287.6,774.9 288.4,776.3 289.1,777.6 289.9,778.9 290.6,780.2 291.4,781.5 292.1,782.8 292.9,784.0 293.6,785.2 294.4,786.4 295.1,787.6 295.9,788.7 296.6,789.8 297.4,790.9 298.1,792.0 298.9,793.0 299.6,793.9 300.4,794.9 301.1,795.8 301.9,796.6 302.6,797.4 303.4,798.2 304.1,798.9 304.9,799.6 305.6,800.2 306.4,800.8 307.1,801.4 307.9,801.9 308.6,802.3 309.4,802.7 310.1,803.1 310.9,803.4 311.6,803.8 312.4,804.0 313.1,804.3 313.9,804.5 314.6,804.7 315.4,804.9 316.1,805.0 316.9,805.2 317.6,805.3 318.4,805.4 319.1,805.5 319.9,805.5 320.6,805.6 321.4,805.7 322.1,805.7 322.9,805.7 323.6,805.8 324.4,805.8 325.1,805.9 325.9,805.9 326.6,806.0 327.4,806.0 328.1,806.0 328.9,806.1 329.6,806.1 330.4,806.2 331.1,806.2 331.9,806.3 332.6,806.3 333.4,806.4 334.1,806.4 334.9,806.4 335.6,806.5 336.4,806.5 337.1,806.6 337.9,806.6 338.6,806.7 339.4,806.7 340.1,806.8 340.9,806.8 341.6,806.9 342.4,806.9 343.1,806.9 343.9,807.0 344.6,807.0 345.4,807.1 346.1,807.1 346.9,807.1 347.6,807.2 348.4,807.2 349.1,807.2 349.9,807.3 350.6,807.3 351.4,807.3 352.1,807.4 352.9,807.4 353.6,807.4 354.4,807.4 355.1,807.5 355.9,807.5 356.6,807.5 357.4,807.5 358.1,807.6 358.9,807.6 359.6,807.6 360.4,807.6 361.1,807.7 361.9,807.7 362.6,807.7 363.4,807.7 364.1,807.7 364.9,807.7 365.6,807.8 366.4,807.8 367.1,807.8 367.9,807.8 368.6,807.8 369.4,807.8 370.1,807.8 370.9,807.8 371.6,807.9 372.4,807.9 373.1,807.9 373.9,807.9 374.6,807.9 375.4,807.9 376.1,807.9 376.9,807.9 377.6,807.9 378.4,807.9 379.1,807.9 379.9,807.9 380.6,807.9 381.4,807.9 382.1,807.9 382.9,807.9 383.6,807.9 384.4,807.9 385.1,807.9 385.9,807.9 386.6,807.9 387.4,807.9 388.1,807.9 388.9,807.9 389.6,807.9 390.4,807.9 391.1,807.9 391.9,807.9 392.6,807.9 393.4,807.9 394.1,807.9 394.9,807.9 395.6,807.9 396.4,807.9 397.1,807.9 397.9,807.9 398.6,807.9 399.4,807.9 400.1,807.9 400.9,807.9 401.6,807.9 402.4,807.9 403.1,807.8 403.9,807.8 404.6,807.8 405.4,807.8 406.1,807.8 406.9,807.8 407.6,807.8 408.4,807.8 409.1,807.8 409.9,807.8 410.6,807.8 411.4,807.8 412.1,807.7 412.9,807.7 413.6,807.7 414.4,807.7 415.1,807.7 415.9,807.7 416.6,807.7 417.4,807.7 418.1,807.7 418.9,807.7 419.6,807.7 420.0,807.6" fill="none" stroke="#505050" stroke-width="1.8" stroke-linejoin="round" stroke-linecap="round" />
<g transform="translate(266.00,685.10) scale(0.9937,1) translate(-0.10,0)" fill="#1e1e1e" font-weight="normal" font-style="normal" stroke="#1e1e1e" stroke-width="0.3" stroke-linejoin="round"><text x="0.00" y="0.00" font-size="20.50">V</text><text x="13.67" y="6.50" font-size="13.50">2</text><text x="21.18" y="0.00" font-size="20.50">O</text><text x="37.13" y="6.50" font-size="13.50">5</text></g>
<g transform="translate(307.80,760.40) scale(0.9330,1) translate(-0.10,0)" fill="#1e1e1e" font-weight="normal" font-style="normal" stroke="#1e1e1e" stroke-width="0.3" stroke-linejoin="round"><text x="0.00" y="0.00" font-size="20.50">VO</text><text x="29.62" y="6.50" font-size="13.50">2</text></g>
<line x1="262.00" y1="679.50" x2="235.50" y2="700.27" stroke="#3a6cbf" stroke-width="2.2"/>
<polygon points="229.20,705.20 233.51,696.11 239.06,703.19" fill="#3a6cbf"/>
<line x1="304.50" y1="754.50" x2="281.40" y2="772.57" stroke="#3a6cbf" stroke-width="2.2"/>
<polygon points="275.10,777.50 279.42,768.41 284.96,775.50" fill="#3a6cbf"/>
<line x1="532.80" y1="808.00" x2="855.30" y2="808.00" stroke="#1f1f1f" stroke-width="2.2"/>
<line x1="558.70" y1="804.00" x2="558.70" y2="813.00" stroke="#1f1f1f" stroke-width="2.0"/>
<line x1="622.75" y1="804.00" x2="622.75" y2="813.00" stroke="#1f1f1f" stroke-width="2.0"/>
<line x1="686.80" y1="804.00" x2="686.80" y2="813.00" stroke="#1f1f1f" stroke-width="2.0"/>
<line x1="750.85" y1="804.00" x2="750.85" y2="813.00" stroke="#1f1f1f" stroke-width="2.0"/>
<line x1="814.90" y1="804.00" x2="814.90" y2="813.00" stroke="#1f1f1f" stroke-width="2.0"/>
<g transform="translate(535.45,829.50) scale(1.0164,1) translate(-0.83,0)" fill="#555555" font-weight="normal" font-style="normal" stroke="#555555" stroke-width="0.15" stroke-linejoin="round"><text x="0.00" y="0.00" font-size="16.50">200.0</text></g>
<g transform="translate(599.50,829.50) scale(1.0270,1) translate(-1.24,0)" fill="#555555" font-weight="normal" font-style="normal" stroke="#555555" stroke-width="0.15" stroke-linejoin="round"><text x="0.00" y="0.00" font-size="16.50">196.0</text></g>
<g transform="translate(663.55,829.50) scale(1.0270,1) translate(-1.24,0)" fill="#555555" font-weight="normal" font-style="normal" stroke="#555555" stroke-width="0.15" stroke-linejoin="round"><text x="0.00" y="0.00" font-size="16.50">192.0</text></g>
<g transform="translate(727.60,829.50) scale(1.0270,1) translate(-1.24,0)" fill="#555555" font-weight="normal" font-style="normal" stroke="#555555" stroke-width="0.15" stroke-linejoin="round"><text x="0.00" y="0.00" font-size="16.50">188.0</text></g>
<g transform="translate(791.65,829.50) scale(1.0270,1) translate(-1.24,0)" fill="#555555" font-weight="normal" font-style="normal" stroke="#555555" stroke-width="0.15" stroke-linejoin="round"><text x="0.00" y="0.00" font-size="16.50">184.0</text></g>
<g transform="translate(603.50,856.20) scale(1.0309,1) translate(-1.56,0)" fill="#2e2e2e" font-weight="normal" font-style="normal" stroke="#2e2e2e" stroke-width="0.3" stroke-linejoin="round"><text x="0.00" y="0.00" font-size="19.50">Binding Energy (eV)</text></g>
<g transform="translate(464.60,688.80) scale(1.0676,1) translate(-1.59,0)" fill="#222222" font-weight="normal" font-style="normal" stroke="#222222" stroke-width="0.3" stroke-linejoin="round"><text x="0.00" y="0.00" font-size="26.50">(f)</text></g>
<g transform="translate(539.20,666.30) scale(0.9660,1) translate(-1.27,0)" fill="#1e1e1e" font-weight="bold" font-style="normal" stroke="#1e1e1e" stroke-width="0.1" stroke-linejoin="round"><text x="0.00" y="0.00" font-size="19.50">B</text><text x="14.08" y="6.00" font-size="12.50">1s</text></g>
<g transform="translate(539.20,692.60) scale(1.0006,1) translate(-1.30,0)" fill="#1e1e1e" font-weight="bold" font-style="normal" stroke="#1e1e1e" stroke-width="0.1" stroke-linejoin="round"><text x="0.00" y="0.00" font-size="20.00">Macro VB</text><text x="92.25" y="6.50" font-size="13.00">2</text></g>
<polyline points="532.8,798.0 534.3,798.3 535.8,799.6 537.3,798.7 538.8,798.4 540.3,798.5 541.8,797.3 543.3,797.7 544.8,798.2 546.3,799.0 547.8,797.2 549.3,796.9 550.8,796.1 552.3,798.0 553.8,798.5 555.3,796.7 556.8,798.8 558.3,799.8 559.8,799.2 561.3,798.8 562.8,797.2 564.3,795.9 565.8,796.8 567.3,795.8 568.8,795.7 570.3,795.8 571.8,795.2 573.3,796.2 574.8,796.7" fill="none" stroke="#b8b8b8" stroke-width="1.2"/>
<polyline points="727.0,800.2 728.5,801.6 730.0,802.2 731.5,803.3 733.0,800.9 734.5,799.9 736.0,799.0 737.5,798.9 739.0,801.1 740.5,799.6 742.0,800.6 743.5,799.6 745.0,799.5 746.5,800.1 748.0,802.2 749.5,802.2 751.0,799.6 752.5,799.4 754.0,798.8 755.5,801.6 757.0,802.8 758.5,803.4 760.0,803.7 761.5,803.5 763.0,804.4 764.5,804.1 766.0,801.6 767.5,802.9 769.0,802.0 770.5,802.7 772.0,802.2 773.5,801.4 775.0,800.7 776.5,800.6 778.0,800.1 779.5,798.9 781.0,801.5 782.5,802.6 784.0,804.0 785.5,803.4 787.0,802.5 788.5,802.9 790.0,800.4 791.5,801.6 793.0,801.1 794.5,799.7 796.0,799.1 797.5,800.2 799.0,799.6 800.5,800.2 802.0,801.1 803.5,800.7 805.0,799.3 806.5,800.1 808.0,799.5 809.5,799.1 811.0,798.8 812.5,799.3 814.0,798.3 815.5,800.4 817.0,802.7 818.5,801.4 820.0,802.2 821.5,803.5 823.0,800.3 824.5,799.1 826.0,801.4 827.5,802.7 829.0,802.5 830.5,800.3 832.0,800.3 833.5,802.3 835.0,803.4 836.5,803.5 838.0,801.0 839.5,802.6 841.0,801.2 842.5,802.1 844.0,800.0 845.5,802.6 847.0,802.2 848.5,802.6 850.0,800.5 851.5,801.3 853.0,801.5 854.5,801.7" fill="none" stroke="#b8b8b8" stroke-width="1.2"/>
<path d="M574.8,796.2 575.5,796.1 576.3,796.0 577.0,795.9 577.8,795.8 578.5,795.6 579.3,795.5 580.0,795.4 580.8,795.3 581.5,795.2 582.3,795.1 583.0,794.9 583.8,794.8 584.5,794.7 585.3,794.6 586.0,794.5 586.8,794.3 587.5,794.2 588.3,794.1 589.0,793.9 589.8,793.8 590.5,793.6 591.3,793.5 592.0,793.3 592.8,793.1 593.5,792.9 594.3,792.7 595.0,792.6 595.8,792.3 596.5,792.1 597.3,791.9 598.0,791.7 598.8,791.4 599.5,791.2 600.3,790.9 601.0,790.6 601.8,790.3 602.5,790.0 603.3,789.7 604.0,789.4 604.8,789.0 605.5,788.7 606.3,788.3 607.0,787.9 607.8,787.5 608.5,787.1 609.3,786.6 610.0,786.2 610.8,785.7 611.5,785.2 612.3,784.7 613.0,784.1 613.8,783.6 614.5,783.0 615.3,782.4 616.0,781.8 616.8,781.2 617.5,780.5 618.3,779.8 619.0,779.1 619.8,778.4 620.5,777.6 621.3,776.8 622.0,776.0 622.8,775.2 623.5,774.3 624.3,773.4 625.0,772.5 625.8,771.6 626.5,770.6 627.3,769.6 628.0,768.5 628.8,767.5 629.5,766.4 630.3,765.2 631.0,764.1 631.8,762.8 632.5,761.6 633.3,760.3 634.0,759.0 634.8,757.7 635.5,756.4 636.3,755.0 637.0,753.7 637.8,752.3 638.5,751.0 639.3,749.6 640.0,748.3 640.8,746.9 641.5,745.6 642.3,744.3 643.0,743.1 643.8,741.8 644.5,740.6 645.3,739.5 646.0,738.4 646.8,737.3 647.5,736.3 648.3,735.3 649.0,734.4 649.8,733.6 650.5,732.9 651.3,732.2 652.0,731.6 652.8,731.1 653.5,730.6 654.3,730.3 655.0,730.1 655.8,730.0 656.5,730.0 657.3,730.1 658.0,730.3 658.8,730.7 659.5,731.2 660.3,731.8 661.0,732.6 661.8,733.5 662.5,734.6 663.3,735.7 664.0,737.0 664.8,738.3 665.5,739.7 666.3,741.2 667.0,742.8 667.8,744.4 668.5,746.0 669.3,747.7 670.0,749.4 670.8,751.1 671.5,752.8 672.3,754.5 673.0,756.2 673.8,758.0 674.5,759.7 675.3,761.4 676.0,763.1 676.8,764.8 677.5,766.5 678.3,768.2 679.0,769.9 679.8,771.5 680.5,773.1 681.3,774.7 682.0,776.3 682.8,777.8 683.5,779.3 684.3,780.7 685.0,782.1 685.8,783.4 686.5,784.8 687.3,786.0 688.0,787.2 688.8,788.3 689.5,789.4 690.3,790.5 691.0,791.4 691.8,792.4 692.5,793.2 693.3,794.1 694.0,794.8 694.8,795.6 695.5,796.3 696.3,796.9 697.0,797.5 697.8,798.1 698.5,798.6 699.3,799.1 700.0,799.5 700.8,800.0 701.5,800.4 702.3,800.7 703.0,801.0 703.8,801.4 704.5,801.6 705.3,801.9 706.0,802.1 706.8,802.3 707.5,802.5 708.3,802.7 709.0,802.9 709.8,803.0 710.5,803.1 711.3,803.2 712.0,803.4 712.8,803.5 713.5,803.5 714.3,803.6 715.0,803.7 715.8,803.8 716.5,803.9 717.3,803.9 718.0,804.0 718.8,804.1 719.5,804.2 720.3,804.3 721.0,804.4 721.8,804.5 722.5,804.6 723.3,804.8 724.0,804.9 724.8,805.1 725.0,805.1" fill="none" stroke="#8f8f8f" stroke-width="1.2" stroke-linejoin="round" stroke-linecap="round" />
<path d="M632.0,800.3 632.8,800.6 633.5,800.8 634.2,801.0 635.0,801.1 635.8,801.1 636.5,801.1 637.2,801.0 638.0,800.8 638.8,800.5 639.5,800.1 640.2,799.6 641.0,799.0 641.8,798.3 642.5,797.5 643.2,796.5 644.0,795.4 644.8,794.2 645.5,792.8 646.2,791.3 647.0,789.6 647.8,787.8 648.5,785.8 649.2,783.6 650.0,781.2 650.8,778.7 651.5,776.0 652.2,773.0 653.0,769.9 653.8,766.5 654.5,763.0 655.2,759.2 656.0,755.2 656.8,751.0 657.5,746.6 658.2,742.1 659.0,737.6 659.8,733.0 660.5,728.3 661.2,723.7 662.0,719.2 662.8,714.8 663.5,710.5 664.2,706.3 665.0,702.4 665.8,698.7 666.5,695.3 667.2,692.2 668.0,689.5 668.8,687.1 669.5,685.0 670.2,683.3 671.0,681.9 671.8,680.8 672.5,680.1 673.2,679.7 674.0,679.6 674.8,679.8 675.5,680.3 676.2,681.1 677.0,682.3 677.8,683.7 678.5,685.4 679.2,687.4 680.0,689.7 680.8,692.3 681.5,695.3 682.2,698.6 683.0,702.2 683.8,706.2 684.5,710.5 685.2,715.3 686.0,720.3 686.8,725.6 687.5,731.0 688.2,736.6 689.0,742.1 689.8,747.6 690.5,753.0 691.2,758.2 692.0,763.2 692.8,767.9 693.5,772.4 694.2,776.4 695.0,780.2 695.8,783.5 696.5,786.4 697.2,788.8 698.0,790.8 698.8,792.5 699.5,793.9 700.2,795.0 701.0,795.9 701.8,796.7 702.5,797.4 703.2,798.0 704.0,798.6 704.8,799.1 705.5,799.5 706.2,799.9 707.0,800.3 707.8,800.6 708.5,800.9 709.2,801.1 710.0,801.4 710.8,801.6 711.5,801.8 712.2,802.1 713.0,802.3 713.8,802.5 714.5,802.8 715.2,803.1 716.0,803.4 716.8,803.6 717.5,803.9 718.2,804.2 719.0,804.4 719.8,804.6 720.5,804.8 721.2,804.9 722.0,805.0 722.8,805.1 723.5,805.0 724.2,805.0 725.0,804.8" fill="none" stroke="#8f8f8f" stroke-width="1.2" stroke-linejoin="round" stroke-linecap="round" />
<path d="M574.8,800.4 575.5,800.4 576.3,800.3 577.0,800.3 577.8,800.3 578.5,800.2 579.3,800.2 580.0,800.2 580.8,800.2 581.5,800.1 582.3,800.1 583.0,800.1 583.8,800.1 584.5,800.1 585.3,800.0 586.0,800.0 586.8,800.0 587.5,800.0 588.3,800.0 589.0,800.0 589.8,800.0 590.5,799.9 591.3,799.9 592.0,799.9 592.8,799.9 593.5,799.9 594.3,799.9 595.0,799.9 595.8,799.9 596.5,799.9 597.3,799.9 598.0,799.9 598.8,799.9 599.5,799.9 600.3,799.9 601.0,799.9 601.8,799.9 602.5,799.9 603.3,799.9 604.0,800.0 604.8,800.0 605.5,800.0 606.3,800.0 607.0,800.0 607.8,800.0 608.5,800.0 609.3,800.0 610.0,800.1 610.8,800.1 611.5,800.1 612.3,800.1 613.0,800.1 613.8,800.2 614.5,800.2 615.3,800.2 616.0,800.2 616.8,800.3 617.5,800.3 618.3,800.3 619.0,800.3 619.8,800.4 620.5,800.4 621.3,800.4 622.0,800.4 622.8,800.5 623.5,800.5 624.3,800.5 625.0,800.6 625.8,800.6 626.5,800.6 627.3,800.7 628.0,800.7 628.8,800.7 629.5,800.8 630.3,800.8 631.0,800.9 631.8,800.9 632.5,800.9 633.3,801.0 634.0,801.0 634.8,801.1 635.5,801.1 636.3,801.1 637.0,801.2 637.8,801.2 638.5,801.3 639.3,801.3 640.0,801.4 640.8,801.4 641.5,801.5 642.3,801.5 643.0,801.6 643.8,801.6 644.5,801.7 645.3,801.7 646.0,801.8 646.8,801.8 647.5,801.9 648.3,801.9 649.0,802.0 649.8,802.0 650.5,802.1 651.3,802.1 652.0,802.2 652.8,802.2 653.5,802.3 654.3,802.3 655.0,802.4 655.8,802.4 656.5,802.5 657.3,802.6 658.0,802.6 658.8,802.7 659.5,802.7 660.3,802.8 661.0,802.8 661.8,802.9 662.5,803.0 663.3,803.0 664.0,803.1 664.8,803.1 665.5,803.2 666.3,803.2 667.0,803.3 667.8,803.4 668.5,803.4 669.3,803.5 670.0,803.5 670.8,803.6 671.5,803.7 672.3,803.7 673.0,803.8 673.8,803.9 674.5,803.9 675.3,804.0 676.0,804.0 676.8,804.1 677.5,804.2 678.3,804.2 679.0,804.3 679.8,804.3 680.5,804.4 681.3,804.5 682.0,804.5 682.8,804.6 683.5,804.7 684.3,804.7 685.0,804.8 685.8,804.8 686.5,804.9 687.3,805.0 688.0,805.0 688.8,805.1 689.5,805.2 690.3,805.2 691.0,805.3 691.8,805.4 692.5,805.4 693.3,805.5 694.0,805.5 694.8,805.6 695.5,805.7 696.3,805.7 697.0,805.8 697.8,805.8 698.5,805.9 699.3,806.0 700.0,806.0 700.8,806.1 701.5,806.2 702.3,806.2 703.0,806.3 703.8,806.3 704.5,806.4 705.3,806.5 706.0,806.5 706.8,806.6 707.5,806.6 708.3,806.7 709.0,806.8 709.8,806.8 710.5,806.9 711.3,806.9 712.0,807.0 712.8,807.0 713.5,807.1 714.3,807.2 715.0,807.2 715.8,807.3 716.5,807.3 717.3,807.4 718.0,807.4 718.8,807.5 719.5,807.6 720.3,807.6 721.0,807.7 721.8,807.7 722.5,807.8 723.3,807.8 724.0,807.9 724.8,807.9 725.5,808.0 726.3,808.0 727.0,808.1 727.7,808.1" fill="none" stroke="#3a3a3a" stroke-width="1.8" stroke-linejoin="round" stroke-linecap="round" />
<path d="M574.8,796.3 575.5,796.1 576.3,796.0 577.0,795.9 577.8,795.8 578.5,795.7 579.3,795.5 580.0,795.4 580.8,795.3 581.5,795.2 582.3,795.1 583.0,795.0 583.8,794.8 584.5,794.7 585.3,794.6 586.0,794.5 586.8,794.3 587.5,794.2 588.3,794.1 589.0,793.9 589.8,793.8 590.5,793.6 591.3,793.4 592.0,793.3 592.8,793.1 593.5,792.9 594.3,792.7 595.0,792.5 595.8,792.3 596.5,792.1 597.3,791.9 598.0,791.6 598.8,791.4 599.5,791.1 600.3,790.8 601.0,790.6 601.8,790.3 602.5,790.0 603.3,789.7 604.0,789.3 604.8,789.0 605.5,788.6 606.3,788.2 607.0,787.9 607.8,787.5 608.5,787.0 609.3,786.6 610.0,786.1 610.8,785.7 611.5,785.2 612.3,784.7 613.0,784.2 613.8,783.6 614.5,783.1 615.3,782.5 616.0,781.9 616.8,781.3 617.5,780.6 618.3,780.0 619.0,779.3 619.8,778.6 620.5,777.9 621.3,777.2 622.0,776.4 622.8,775.6 623.5,774.9 624.3,774.0 625.0,773.2 625.8,772.4 626.5,771.5 627.3,770.6 628.0,769.7 628.8,768.7 629.5,767.8 630.3,766.8 631.0,765.8 631.8,764.8 632.5,763.7 633.3,762.7 634.0,761.6 634.8,760.5 635.5,759.3 636.3,758.1 637.0,756.9 637.8,755.6 638.5,754.3 639.3,752.9 640.0,751.5 640.8,750.0 641.5,748.5 642.3,746.9 643.0,745.2 643.8,743.5 644.5,741.7 645.3,739.8 646.0,737.8 646.8,735.8 647.5,733.6 648.3,731.4 649.0,729.0 649.8,726.6 650.5,724.1 651.3,721.4 652.0,718.7 652.8,715.8 653.5,712.8 654.3,709.7 655.0,706.5 655.8,703.1 656.5,699.6 657.3,695.9 658.0,692.1 658.8,688.1 659.5,683.9 660.3,679.6 661.0,675.2 661.8,670.5 662.5,665.8 663.3,661.1 664.0,656.5 664.8,652.1 665.5,648.0 666.3,644.3 667.0,641.1 667.8,638.4 668.5,636.1 669.3,634.3 670.0,632.9 670.8,631.9 671.5,631.3 672.3,631.0 673.0,631.2 673.8,631.7 674.5,632.6 675.3,633.8 676.0,635.4 676.8,637.3 677.5,639.5 678.3,642.0 679.0,644.9 679.8,648.0 680.5,651.5 681.3,655.2 682.0,659.2 682.8,663.6 683.5,668.4 684.3,673.5 685.0,679.1 685.8,685.1 686.5,691.5 687.3,698.1 688.0,705.0 688.8,711.9 689.5,718.9 690.3,725.7 691.0,732.4 691.8,738.9 692.5,745.1 693.3,750.8 694.0,756.1 694.8,760.9 695.5,765.0 696.3,768.6 697.0,771.7 697.8,774.4 698.5,776.8 699.3,778.9 700.0,780.8 700.8,782.5 701.5,784.0 702.3,785.4 703.0,786.6 703.8,787.7 704.5,788.7 705.3,789.5 706.0,790.3 706.8,791.1 707.5,791.7 708.3,792.3 709.0,792.9 709.8,793.5 710.5,794.0 711.3,794.6 712.0,795.1 712.8,795.6 713.5,796.1 714.3,796.6 715.0,797.0 715.8,797.4 716.5,797.8 717.3,798.2 718.0,798.6 718.8,798.9 719.5,799.3 720.3,799.6 721.0,799.9 721.8,800.1 722.5,800.4 723.3,800.6 724.0,800.8 724.8,801.0 725.5,801.1 726.3,801.3 727.0,801.4 727.7,801.4" fill="none" stroke="#505050" stroke-width="1.8" stroke-linejoin="round" stroke-linecap="round" />
<g transform="translate(707.00,697.70) scale(0.9472,1) translate(-1.64,0)" fill="#1e1e1e" font-weight="normal" font-style="normal" stroke="#1e1e1e" stroke-width="0.3" stroke-linejoin="round"><text x="0.00" y="0.00" font-size="20.50">B</text><text x="13.67" y="6.50" font-size="13.50">2</text><text x="21.18" y="0.00" font-size="20.50">O</text><text x="37.13" y="6.50" font-size="13.50">3</text></g>
<g transform="translate(732.30,749.90) scale(0.9643,1) translate(-1.64,0)" fill="#1e1e1e" font-weight="normal" font-style="normal" stroke="#1e1e1e" stroke-width="0.3" stroke-linejoin="round"><text x="0.00" y="0.00" font-size="20.50">H</text><text x="14.80" y="6.50" font-size="13.50">3</text><text x="22.31" y="0.00" font-size="20.50">BO</text><text x="51.93" y="6.50" font-size="13.50">3</text></g>
<line x1="700.60" y1="694.00" x2="677.14" y2="716.73" stroke="#3a6cbf" stroke-width="2.2"/>
<polygon points="671.40,722.30 674.73,712.81 680.99,719.27" fill="#3a6cbf"/>
<line x1="728.20" y1="746.00" x2="682.11" y2="784.94" stroke="#3a6cbf" stroke-width="2.2"/>
<polygon points="676.00,790.10 679.97,780.85 685.78,787.73" fill="#3a6cbf"/>
<line x1="917.40" y1="811.20" x2="1254.50" y2="811.20" stroke="#1f1f1f" stroke-width="2.2"/>
<line x1="933.90" y1="807.20" x2="933.90" y2="816.20" stroke="#1f1f1f" stroke-width="2.0"/>
<line x1="987.07" y1="807.20" x2="987.07" y2="816.20" stroke="#1f1f1f" stroke-width="2.0"/>
<line x1="1040.24" y1="807.20" x2="1040.24" y2="816.20" stroke="#1f1f1f" stroke-width="2.0"/>
<line x1="1093.41" y1="807.20" x2="1093.41" y2="816.20" stroke="#1f1f1f" stroke-width="2.0"/>
<line x1="1146.58" y1="807.20" x2="1146.58" y2="816.20" stroke="#1f1f1f" stroke-width="2.0"/>
<line x1="1199.75" y1="807.20" x2="1199.75" y2="816.20" stroke="#1f1f1f" stroke-width="2.0"/>
<line x1="1252.92" y1="807.20" x2="1252.92" y2="816.20" stroke="#1f1f1f" stroke-width="2.0"/>
<g transform="translate(910.95,832.90) scale(0.9779,1) translate(-0.70,0)" fill="#555555" font-weight="normal" font-style="normal" stroke="#555555" stroke-width="0.15" stroke-linejoin="round"><text x="0.00" y="0.00" font-size="17.50">540.0</text></g>
<g transform="translate(964.12,832.90) scale(0.9779,1) translate(-0.70,0)" fill="#555555" font-weight="normal" font-style="normal" stroke="#555555" stroke-width="0.15" stroke-linejoin="round"><text x="0.00" y="0.00" font-size="17.50">538.0</text></g>
<g transform="translate(1017.29,832.90) scale(0.9779,1) translate(-0.70,0)" fill="#555555" font-weight="normal" font-style="normal" stroke="#555555" stroke-width="0.15" stroke-linejoin="round"><text x="0.00" y="0.00" font-size="17.50">536.0</text></g>
<g transform="translate(1070.46,832.90) scale(0.9779,1) translate(-0.70,0)" fill="#555555" font-weight="normal" font-style="normal" stroke="#555555" stroke-width="0.15" stroke-linejoin="round"><text x="0.00" y="0.00" font-size="17.50">534.0</text></g>
<g transform="translate(1123.63,832.90) scale(0.9779,1) translate(-0.70,0)" fill="#555555" font-weight="normal" font-style="normal" stroke="#555555" stroke-width="0.15" stroke-linejoin="round"><text x="0.00" y="0.00" font-size="17.50">532.0</text></g>
<g transform="translate(1176.80,832.90) scale(0.9779,1) translate(-0.70,0)" fill="#555555" font-weight="normal" font-style="normal" stroke="#555555" stroke-width="0.15" stroke-linejoin="round"><text x="0.00" y="0.00" font-size="17.50">530.0</text></g>
<g transform="translate(1229.97,832.90) scale(0.9779,1) translate(-0.70,0)" fill="#555555" font-weight="normal" font-style="normal" stroke="#555555" stroke-width="0.15" stroke-linejoin="round"><text x="0.00" y="0.00" font-size="17.50">528.0</text></g>
<g transform="translate(1004.60,862.30) scale(1.0769,1) translate(-1.56,0)" fill="#2e2e2e" font-weight="normal" font-style="normal" stroke="#2e2e2e" stroke-width="0.3" stroke-linejoin="round"><text x="0.00" y="0.00" font-size="19.50">Binding Energy (eV)</text></g>
<g transform="translate(881.50,689.80) scale(1.0458,1) translate(-1.59,0)" fill="#222222" font-weight="normal" font-style="normal" stroke="#222222" stroke-width="0.3" stroke-linejoin="round"><text x="0.00" y="0.00" font-size="26.50">(i)</text></g>
<g transform="translate(927.60,657.60) scale(0.9598,1) translate(-0.80,0)" fill="#1e1e1e" font-weight="bold" font-style="normal" stroke="#1e1e1e" stroke-width="0.1" stroke-linejoin="round"><text x="0.00" y="0.00" font-size="20.00">O</text><text x="15.56" y="6.00" font-size="12.50">1s</text></g>
<g transform="translate(927.80,685.50) scale(1.0405,1) translate(-1.30,0)" fill="#1e1e1e" font-weight="bold" font-style="normal" stroke="#1e1e1e" stroke-width="0.1" stroke-linejoin="round"><text x="0.00" y="0.00" font-size="20.00">Macro VB</text><text x="92.25" y="6.50" font-size="13.00">2</text></g>
<line x1="917.40" y1="786.20" x2="988.00" y2="792.00" stroke="#b0b0b0" stroke-width="1.3"/>
<path d="M988.0,792.8 988.8,792.7 989.5,792.7 990.2,792.6 991.0,792.5 991.8,792.4 992.5,792.4 993.2,792.3 994.0,792.3 994.8,792.2 995.5,792.2 996.2,792.1 997.0,792.1 997.8,792.1 998.5,792.0 999.2,792.0 1000.0,792.0 1000.8,791.9 1001.5,791.9 1002.2,791.9 1003.0,791.9 1003.8,791.9 1004.5,791.9 1005.2,791.8 1006.0,791.8 1006.8,791.8 1007.5,791.8 1008.2,791.8 1009.0,791.8 1009.8,791.8 1010.5,791.8 1011.2,791.8 1012.0,791.8 1012.8,791.8 1013.5,791.8 1014.2,791.8 1015.0,791.8 1015.8,791.8 1016.5,791.8 1017.2,791.8 1018.0,791.8 1018.8,791.7 1019.5,791.7 1020.2,791.7 1021.0,791.7 1021.8,791.7 1022.5,791.7 1023.2,791.7 1024.0,791.7 1024.8,791.6 1025.5,791.6 1026.2,791.6 1027.0,791.6 1027.8,791.5 1028.5,791.5 1029.2,791.5 1030.0,791.4 1030.8,791.4 1031.5,791.4 1032.2,791.3 1033.0,791.2 1033.8,791.2 1034.5,791.1 1035.2,791.1 1036.0,791.0 1036.8,790.9 1037.5,790.8 1038.2,790.8 1039.0,790.7 1039.8,790.6 1040.5,790.5 1041.2,790.4 1042.0,790.3 1042.8,790.2 1043.5,790.0 1044.2,789.9 1045.0,789.8 1045.8,789.6 1046.5,789.5 1047.2,789.3 1048.0,789.2 1048.8,789.0 1049.5,788.8 1050.2,788.7 1051.0,788.5 1051.8,788.3 1052.5,788.1 1053.2,787.9 1054.0,787.6 1054.8,787.4 1055.5,787.2 1056.2,786.9 1057.0,786.7 1057.8,786.4 1058.5,786.2 1059.2,785.9 1060.0,785.6 1060.8,785.3 1061.5,785.0 1062.2,784.7 1063.0,784.3 1063.8,784.0 1064.5,783.6 1065.2,783.3 1066.0,782.9 1066.8,782.5 1067.5,782.1 1068.2,781.7 1069.0,781.3 1069.8,780.8 1070.5,780.4 1071.2,779.9 1072.0,779.5 1072.8,779.0 1073.5,778.5 1074.2,778.0 1075.0,777.4 1075.8,776.9 1076.5,776.3 1077.2,775.8 1078.0,775.2 1078.8,774.6 1079.5,774.0 1080.2,773.3 1081.0,772.7 1081.8,772.0 1082.5,771.4 1083.2,770.7 1084.0,770.0 1084.8,769.3 1085.5,768.5 1086.2,767.8 1087.0,767.0 1087.8,766.3 1088.5,765.5 1089.2,764.7 1090.0,763.9 1090.8,763.1 1091.5,762.3 1092.2,761.5 1093.0,760.7 1093.8,759.9 1094.5,759.1 1095.2,758.3 1096.0,757.4 1096.8,756.6 1097.5,755.8 1098.2,755.0 1099.0,754.2 1099.8,753.4 1100.5,752.6 1101.2,751.9 1102.0,751.1 1102.8,750.3 1103.5,749.6 1104.2,748.8 1105.0,748.1 1105.8,747.4 1106.5,746.7 1107.2,746.0 1108.0,745.3 1108.8,744.7 1109.5,744.1 1110.2,743.5 1111.0,742.9 1111.8,742.3 1112.5,741.7 1113.2,741.2 1114.0,740.7 1114.8,740.2 1115.5,739.8 1116.2,739.4 1117.0,739.0 1117.8,738.6 1118.5,738.3 1119.2,737.9 1120.0,737.7 1120.8,737.4 1121.5,737.2 1122.2,737.0 1123.0,736.8 1123.8,736.7 1124.5,736.6 1125.2,736.5 1126.0,736.4 1126.8,736.4 1127.5,736.4 1128.2,736.5 1129.0,736.6 1129.8,736.7 1130.5,736.9 1131.2,737.0 1132.0,737.3 1132.8,737.5 1133.5,737.8 1134.2,738.1 1135.0,738.5 1135.8,738.8 1136.5,739.2 1137.2,739.7 1138.0,740.1 1138.8,740.6 1139.5,741.1 1140.2,741.7 1141.0,742.2 1141.8,742.8 1142.5,743.4 1143.2,744.1 1144.0,744.7 1144.8,745.4 1145.5,746.1 1146.2,746.8 1147.0,747.6 1147.8,748.3 1148.5,749.1 1149.2,749.9 1150.0,750.7 1150.8,751.5 1151.5,752.4 1152.2,753.2 1153.0,754.1 1153.8,755.0 1154.5,755.8 1155.2,756.7 1156.0,757.6 1156.8,758.6 1157.5,759.5 1158.2,760.4 1159.0,761.3 1159.8,762.3 1160.5,763.2 1161.2,764.1 1162.0,765.1 1162.8,766.0 1163.5,767.0 1164.2,767.9 1165.0,768.8 1165.8,769.8 1166.5,770.7 1167.2,771.6 1168.0,772.6 1168.8,773.5 1169.5,774.4 1170.2,775.3 1171.0,776.2 1171.8,777.1 1172.5,778.0 1173.2,778.8 1174.0,779.7 1174.8,780.5 1175.5,781.3 1176.2,782.1 1177.0,782.9 1177.8,783.7 1178.5,784.4 1179.2,785.2 1180.0,785.9 1180.8,786.6 1181.5,787.3 1182.2,788.0 1183.0,788.7 1183.8,789.3 1184.5,789.9 1185.2,790.5 1186.0,791.1 1186.8,791.7 1187.5,792.3 1188.2,792.9 1189.0,793.4 1189.8,793.9 1190.5,794.5 1191.2,795.0 1192.0,795.4 1192.8,795.9 1193.5,796.4 1194.2,796.8 1195.0,797.3 1195.8,797.7 1196.5,798.1 1197.2,798.5 1198.0,798.9 1198.8,799.3 1199.5,799.6 1200.2,800.0 1201.0,800.3 1201.8,800.7 1202.5,801.0 1203.2,801.3 1204.0,801.6 1204.8,801.9 1205.5,802.2 1206.2,802.5 1207.0,802.7 1207.8,803.0 1208.5,803.2 1209.2,803.5 1210.0,803.7 1210.8,803.9 1211.5,804.1 1212.2,804.3 1213.0,804.5 1213.8,804.7 1214.5,804.9 1215.2,805.0 1216.0,805.2 1216.8,805.4 1217.5,805.5 1218.2,805.6 1219.0,805.8 1219.8,805.9 1220.5,806.0 1221.2,806.1 1222.0,806.3 1222.8,806.4 1223.5,806.5 1224.2,806.6 1225.0,806.6 1225.8,806.7 1226.5,806.8 1227.2,806.9 1228.0,807.0 1228.8,807.0 1229.5,807.1 1230.2,807.1 1231.0,807.2 1231.8,807.3 1232.5,807.3 1233.2,807.3 1234.0,807.4 1234.8,807.4 1235.5,807.5 1236.2,807.5 1237.0,807.5 1237.8,807.6 1238.5,807.6 1239.2,807.6 1240.0,807.7" fill="none" stroke="#8f8f8f" stroke-width="1.2" stroke-linejoin="round" stroke-linecap="round" />
<path d="M1130.0,801.4 1130.8,801.6 1131.5,801.9 1132.2,802.1 1133.0,802.2 1133.8,802.4 1134.5,802.5 1135.2,802.6 1136.0,802.6 1136.8,802.7 1137.5,802.6 1138.2,802.6 1139.0,802.4 1139.8,802.3 1140.5,802.0 1141.2,801.7 1142.0,801.4 1142.8,801.0 1143.5,800.5 1144.2,800.0 1145.0,799.4 1145.8,798.7 1146.5,797.9 1147.2,797.0 1148.0,796.1 1148.8,795.1 1149.5,794.0 1150.2,792.8 1151.0,791.5 1151.8,790.1 1152.5,788.6 1153.2,787.0 1154.0,785.3 1154.8,783.5 1155.5,781.6 1156.2,779.7 1157.0,777.6 1157.8,775.5 1158.5,773.3 1159.2,771.0 1160.0,768.7 1160.8,766.4 1161.5,764.1 1162.2,761.8 1163.0,759.6 1163.8,757.5 1164.5,755.6 1165.2,753.7 1166.0,752.0 1166.8,750.5 1167.5,749.1 1168.2,747.9 1169.0,746.9 1169.8,746.1 1170.5,745.6 1171.2,745.2 1172.0,745.1 1172.8,745.2 1173.5,745.5 1174.2,746.1 1175.0,747.1 1175.8,748.2 1176.5,749.7 1177.2,751.3 1178.0,753.2 1178.8,755.3 1179.5,757.5 1180.2,759.8 1181.0,762.2 1181.8,764.6 1182.5,767.1 1183.2,769.6 1184.0,772.0 1184.8,774.4 1185.5,776.7 1186.2,778.9 1187.0,781.0 1187.8,782.9 1188.5,784.7 1189.2,786.4 1190.0,788.0 1190.8,789.4 1191.5,790.8 1192.2,792.0 1193.0,793.2 1193.8,794.3 1194.5,795.3 1195.2,796.2 1196.0,797.1 1196.8,797.9 1197.5,798.6 1198.2,799.3 1199.0,800.0 1199.8,800.6 1200.5,801.2 1201.2,801.7 1202.0,802.2 1202.8,802.7 1203.5,803.1 1204.2,803.5 1205.0,803.8 1205.8,804.1 1206.5,804.4 1207.2,804.7 1208.0,804.9 1208.8,805.2 1209.5,805.3 1210.2,805.5 1211.0,805.7 1211.8,805.8 1212.5,805.9 1213.2,806.0 1214.0,806.1 1214.8,806.2 1215.5,806.2 1216.2,806.3 1217.0,806.3 1217.8,806.3 1218.5,806.4 1219.2,806.4 1220.0,806.4" fill="none" stroke="#8f8f8f" stroke-width="1.2" stroke-linejoin="round" stroke-linecap="round" />
<path d="M1145.0,802.3 1145.8,802.5 1146.5,802.8 1147.2,803.0 1148.0,803.2 1148.8,803.4 1149.5,803.5 1150.2,803.6 1151.0,803.7 1151.8,803.8 1152.5,803.8 1153.2,803.8 1154.0,803.8 1154.8,803.7 1155.5,803.6 1156.2,803.4 1157.0,803.2 1157.8,802.9 1158.5,802.5 1159.2,802.1 1160.0,801.7 1160.8,801.2 1161.5,800.6 1162.2,799.9 1163.0,799.2 1163.8,798.4 1164.5,797.6 1165.2,796.6 1166.0,795.6 1166.8,794.5 1167.5,793.3 1168.2,792.0 1169.0,790.6 1169.8,789.2 1170.5,787.6 1171.2,786.0 1172.0,784.1 1172.8,782.1 1173.5,779.8 1174.2,777.1 1175.0,774.1 1175.8,770.6 1176.5,766.6 1177.2,762.0 1178.0,756.9 1178.8,751.2 1179.5,745.1 1180.2,738.7 1181.0,732.1 1181.8,725.4 1182.5,718.7 1183.2,712.2 1184.0,705.8 1184.8,699.6 1185.5,693.6 1186.2,687.5 1187.0,681.3 1187.8,675.4 1188.5,669.9 1189.2,665.1 1190.0,661.3 1190.8,658.4 1191.5,656.4 1192.2,655.4 1193.0,655.2 1193.8,655.9 1194.5,657.4 1195.2,659.8 1196.0,663.0 1196.8,666.9 1197.5,671.4 1198.2,676.5 1199.0,682.0 1199.8,687.9 1200.5,694.2 1201.2,700.6 1202.0,707.2 1202.8,713.8 1203.5,720.3 1204.2,726.9 1205.0,733.3 1205.8,739.5 1206.5,745.5 1207.2,751.3 1208.0,756.7 1208.8,761.8 1209.5,766.5 1210.2,770.8 1211.0,774.8 1211.8,778.4 1212.5,781.7 1213.2,784.7 1214.0,787.3 1214.8,789.6 1215.5,791.7 1216.2,793.4 1217.0,794.9 1217.8,796.2 1218.5,797.4 1219.2,798.3 1220.0,799.2 1220.8,800.0 1221.5,800.8 1222.2,801.5 1223.0,802.2 1223.8,802.8 1224.5,803.4 1225.2,804.0 1226.0,804.5 1226.8,805.0 1227.5,805.5 1228.2,805.9 1229.0,806.3 1229.8,806.6 1230.5,806.9 1231.2,807.2 1232.0,807.5 1232.8,807.7 1233.5,807.9 1234.2,808.1 1235.0,808.3 1235.8,808.4 1236.5,808.5 1237.2,808.6 1238.0,808.6 1238.8,808.7 1239.5,808.7 1240.2,808.7 1241.0,808.6 1241.8,808.6 1242.5,808.5 1243.2,808.4 1244.0,808.3 1244.8,808.2 1245.0,808.1" fill="none" stroke="#8f8f8f" stroke-width="1.2" stroke-linejoin="round" stroke-linecap="round" />
<path d="M988.0,792.0 988.8,792.1 989.5,792.1 990.2,792.2 991.0,792.2 991.8,792.3 992.5,792.3 993.2,792.4 994.0,792.5 994.8,792.5 995.5,792.6 996.2,792.6 997.0,792.7 997.8,792.8 998.5,792.8 999.2,792.9 1000.0,792.9 1000.8,793.0 1001.5,793.0 1002.2,793.1 1003.0,793.2 1003.8,793.2 1004.5,793.3 1005.2,793.3 1006.0,793.4 1006.8,793.4 1007.5,793.5 1008.2,793.6 1009.0,793.6 1009.8,793.7 1010.5,793.7 1011.2,793.8 1012.0,793.8 1012.8,793.9 1013.5,793.9 1014.2,794.0 1015.0,794.1 1015.8,794.1 1016.5,794.2 1017.2,794.2 1018.0,794.3 1018.8,794.3 1019.5,794.4 1020.2,794.5 1021.0,794.5 1021.8,794.6 1022.5,794.6 1023.2,794.7 1024.0,794.7 1024.8,794.8 1025.5,794.8 1026.2,794.9 1027.0,795.0 1027.8,795.0 1028.5,795.1 1029.2,795.1 1030.0,795.2 1030.8,795.2 1031.5,795.3 1032.2,795.3 1033.0,795.4 1033.8,795.5 1034.5,795.5 1035.2,795.6 1036.0,795.6 1036.8,795.7 1037.5,795.7 1038.2,795.8 1039.0,795.8 1039.8,795.9 1040.5,795.9 1041.2,796.0 1042.0,796.1 1042.8,796.1 1043.5,796.2 1044.2,796.2 1045.0,796.3 1045.8,796.3 1046.5,796.4 1047.2,796.4 1048.0,796.5 1048.8,796.5 1049.5,796.6 1050.2,796.6 1051.0,796.7 1051.8,796.8 1052.5,796.8 1053.2,796.9 1054.0,796.9 1054.8,797.0 1055.5,797.0 1056.2,797.1 1057.0,797.1 1057.8,797.2 1058.5,797.2 1059.2,797.3 1060.0,797.3 1060.8,797.4 1061.5,797.4 1062.2,797.5 1063.0,797.6 1063.8,797.6 1064.5,797.7 1065.2,797.7 1066.0,797.8 1066.8,797.8 1067.5,797.9 1068.2,797.9 1069.0,798.0 1069.8,798.0 1070.5,798.1 1071.2,798.1 1072.0,798.2 1072.8,798.2 1073.5,798.3 1074.2,798.3 1075.0,798.4 1075.8,798.4 1076.5,798.5 1077.2,798.5 1078.0,798.6 1078.8,798.6 1079.5,798.7 1080.2,798.7 1081.0,798.8 1081.8,798.8 1082.5,798.9 1083.2,798.9 1084.0,799.0 1084.8,799.0 1085.5,799.1 1086.2,799.1 1087.0,799.2 1087.8,799.2 1088.5,799.3 1089.2,799.3 1090.0,799.4 1090.8,799.4 1091.5,799.5 1092.2,799.5 1093.0,799.6 1093.8,799.6 1094.5,799.7 1095.2,799.7 1096.0,799.8 1096.8,799.8 1097.5,799.9 1098.2,799.9 1099.0,800.0 1099.8,800.0 1100.5,800.1 1101.2,800.1 1102.0,800.2 1102.8,800.2 1103.5,800.3 1104.2,800.3 1105.0,800.4 1105.8,800.4 1106.5,800.5 1107.2,800.5 1108.0,800.6 1108.8,800.6 1109.5,800.7 1110.2,800.7 1111.0,800.8 1111.8,800.8 1112.5,800.9 1113.2,800.9 1114.0,800.9 1114.8,801.0 1115.5,801.0 1116.2,801.1 1117.0,801.1 1117.8,801.2 1118.5,801.2 1119.2,801.3 1120.0,801.3 1120.8,801.4 1121.5,801.4 1122.2,801.5 1123.0,801.5 1123.8,801.6 1124.5,801.6 1125.2,801.6 1126.0,801.7 1126.8,801.7 1127.5,801.8 1128.2,801.8 1129.0,801.9 1129.8,801.9 1130.5,802.0 1131.2,802.0 1132.0,802.1 1132.8,802.1 1133.5,802.1 1134.2,802.2 1135.0,802.2 1135.8,802.3 1136.5,802.3 1137.2,802.4 1138.0,802.4 1138.8,802.4 1139.5,802.5 1140.2,802.5 1141.0,802.6 1141.8,802.6 1142.5,802.7 1143.2,802.7 1144.0,802.7 1144.8,802.8 1145.5,802.8 1146.2,802.9 1147.0,802.9 1147.8,802.9 1148.5,803.0 1149.2,803.0 1150.0,803.1 1150.8,803.1 1151.5,803.1 1152.2,803.2 1153.0,803.2 1153.8,803.2 1154.5,803.3 1155.2,803.3 1156.0,803.3 1156.8,803.4 1157.5,803.4 1158.2,803.5 1159.0,803.5 1159.8,803.5 1160.5,803.6 1161.2,803.6 1162.0,803.6 1162.8,803.7 1163.5,803.7 1164.2,803.7 1165.0,803.8 1165.8,803.8 1166.5,803.8 1167.2,803.9 1168.0,803.9 1168.8,803.9 1169.5,804.0 1170.2,804.0 1171.0,804.0 1171.8,804.1 1172.5,804.1 1173.2,804.1 1174.0,804.2 1174.8,804.2 1175.5,804.2 1176.2,804.3 1177.0,804.3 1177.8,804.3 1178.5,804.4 1179.2,804.4 1180.0,804.4 1180.8,804.5 1181.5,804.5 1182.2,804.5 1183.0,804.6 1183.8,804.6 1184.5,804.6 1185.2,804.7 1186.0,804.7 1186.8,804.7 1187.5,804.8 1188.2,804.8 1189.0,804.8 1189.8,804.9 1190.5,804.9 1191.2,805.0 1192.0,805.0 1192.8,805.0 1193.5,805.1 1194.2,805.1 1195.0,805.1 1195.8,805.2 1196.5,805.2 1197.2,805.3 1198.0,805.3 1198.8,805.3 1199.5,805.4 1200.2,805.4 1201.0,805.5 1201.8,805.5 1202.5,805.5 1203.2,805.6 1204.0,805.6 1204.8,805.7 1205.5,805.7 1206.2,805.8 1207.0,805.8 1207.8,805.9 1208.5,805.9 1209.2,805.9 1210.0,806.0 1210.8,806.0 1211.5,806.1 1212.2,806.1 1213.0,806.2 1213.8,806.2 1214.5,806.3 1215.2,806.3 1216.0,806.4 1216.8,806.4 1217.5,806.5 1218.2,806.5 1219.0,806.6 1219.8,806.6 1220.5,806.7 1221.2,806.8 1222.0,806.8 1222.8,806.9 1223.5,806.9 1224.2,807.0 1225.0,807.0 1225.8,807.1 1226.5,807.1 1227.2,807.2 1228.0,807.3 1228.8,807.3 1229.5,807.4 1230.2,807.4 1231.0,807.5 1231.8,807.5 1232.5,807.6 1233.2,807.7 1234.0,807.7 1234.8,807.8 1235.5,807.8 1236.2,807.9 1237.0,808.0 1237.8,808.0 1238.5,808.1 1239.2,808.1 1240.0,808.2 1240.8,808.3 1241.5,808.3 1242.2,808.4 1243.0,808.5 1243.8,808.5 1244.5,808.6 1245.2,808.6 1246.0,808.7 1246.8,808.8 1247.5,808.8 1248.2,808.9 1249.0,809.0 1249.8,809.0 1250.5,809.1 1251.2,809.2 1252.0,809.2 1252.8,809.3 1252.9,809.3" fill="none" stroke="#3a3a3a" stroke-width="1.6" stroke-linejoin="round" stroke-linecap="round" />
<path d="M988.0,792.3 988.8,792.3 989.5,792.3 990.2,792.3 991.0,792.2 991.8,792.2 992.5,792.2 993.2,792.2 994.0,792.2 994.8,792.2 995.5,792.2 996.2,792.2 997.0,792.1 997.8,792.1 998.5,792.1 999.2,792.1 1000.0,792.1 1000.8,792.1 1001.5,792.1 1002.2,792.1 1003.0,792.1 1003.8,792.1 1004.5,792.1 1005.2,792.1 1006.0,792.1 1006.8,792.1 1007.5,792.1 1008.2,792.1 1009.0,792.1 1009.8,792.1 1010.5,792.1 1011.2,792.1 1012.0,792.1 1012.8,792.1 1013.5,792.0 1014.2,792.0 1015.0,792.0 1015.8,792.0 1016.5,792.0 1017.2,792.0 1018.0,792.0 1018.8,791.9 1019.5,791.9 1020.2,791.9 1021.0,791.9 1021.8,791.8 1022.5,791.8 1023.2,791.8 1024.0,791.7 1024.8,791.7 1025.5,791.7 1026.2,791.6 1027.0,791.6 1027.8,791.5 1028.5,791.5 1029.2,791.4 1030.0,791.4 1030.8,791.3 1031.5,791.2 1032.2,791.2 1033.0,791.1 1033.8,791.0 1034.5,790.9 1035.2,790.8 1036.0,790.8 1036.8,790.7 1037.5,790.6 1038.2,790.5 1039.0,790.4 1039.8,790.3 1040.5,790.1 1041.2,790.0 1042.0,789.9 1042.8,789.8 1043.5,789.6 1044.2,789.5 1045.0,789.4 1045.8,789.2 1046.5,789.0 1047.2,788.9 1048.0,788.7 1048.8,788.6 1049.5,788.4 1050.2,788.2 1051.0,788.0 1051.8,787.8 1052.5,787.6 1053.2,787.4 1054.0,787.2 1054.8,787.0 1055.5,786.7 1056.2,786.5 1057.0,786.3 1057.8,786.0 1058.5,785.8 1059.2,785.5 1060.0,785.2 1060.8,785.0 1061.5,784.7 1062.2,784.4 1063.0,784.1 1063.8,783.7 1064.5,783.4 1065.2,783.1 1066.0,782.7 1066.8,782.4 1067.5,782.0 1068.2,781.7 1069.0,781.3 1069.8,780.9 1070.5,780.5 1071.2,780.0 1072.0,779.6 1072.8,779.2 1073.5,778.7 1074.2,778.2 1075.0,777.7 1075.8,777.3 1076.5,776.7 1077.2,776.2 1078.0,775.7 1078.8,775.1 1079.5,774.6 1080.2,774.0 1081.0,773.4 1081.8,772.8 1082.5,772.1 1083.2,771.5 1084.0,770.8 1084.8,770.2 1085.5,769.5 1086.2,768.8 1087.0,768.0 1087.8,767.3 1088.5,766.5 1089.2,765.8 1090.0,765.0 1090.8,764.2 1091.5,763.4 1092.2,762.5 1093.0,761.7 1093.8,760.9 1094.5,760.0 1095.2,759.2 1096.0,758.3 1096.8,757.4 1097.5,756.6 1098.2,755.7 1099.0,754.8 1099.8,754.0 1100.5,753.1 1101.2,752.3 1102.0,751.4 1102.8,750.6 1103.5,749.7 1104.2,748.9 1105.0,748.1 1105.8,747.3 1106.5,746.5 1107.2,745.8 1108.0,745.0 1108.8,744.3 1109.5,743.6 1110.2,742.9 1111.0,742.2 1111.8,741.6 1112.5,741.0 1113.2,740.4 1114.0,739.8 1114.8,739.3 1115.5,738.8 1116.2,738.3 1117.0,737.8 1117.8,737.4 1118.5,737.1 1119.2,736.7 1120.0,736.4 1120.8,736.2 1121.5,735.9 1122.2,735.8 1123.0,735.6 1123.8,735.5 1124.5,735.4 1125.2,735.4 1126.0,735.4 1126.8,735.4 1127.5,735.4 1128.2,735.5 1129.0,735.6 1129.8,735.7 1130.5,735.8 1131.2,736.0 1132.0,736.1 1132.8,736.3 1133.5,736.5 1134.2,736.6 1135.0,736.8 1135.8,737.0 1136.5,737.2 1137.2,737.4 1138.0,737.7 1138.8,737.9 1139.5,738.1 1140.2,738.2 1141.0,738.4 1141.8,738.6 1142.5,738.8 1143.2,738.9 1144.0,739.0 1144.8,739.2 1145.5,739.3 1146.2,739.3 1147.0,739.4 1147.8,739.4 1148.5,739.4 1149.2,739.4 1150.0,739.3 1150.8,739.3 1151.5,739.1 1152.2,739.0 1153.0,738.8 1153.8,738.6 1154.5,738.3 1155.2,738.0 1156.0,737.6 1156.8,737.1 1157.5,736.6 1158.2,735.9 1159.0,735.2 1159.8,734.2 1160.5,733.2 1161.2,731.9 1162.0,730.5 1162.8,728.9 1163.5,727.1 1164.2,725.0 1165.0,722.8 1165.8,720.3 1166.5,717.6 1167.2,714.8 1168.0,711.7 1168.8,708.4 1169.5,704.9 1170.2,701.2 1171.0,697.3 1171.8,693.3 1172.5,689.1 1173.2,684.7 1174.0,680.3 1174.8,675.8 1175.5,671.4 1176.2,666.9 1177.0,662.6 1177.8,658.3 1178.5,654.2 1179.2,650.3 1180.0,646.6 1180.8,643.2 1181.5,639.9 1182.2,637.0 1183.0,634.3 1183.8,632.0 1184.5,629.9 1185.2,628.2 1186.0,626.8 1186.8,625.8 1187.5,625.1 1188.2,624.9 1189.0,625.0 1189.8,625.5 1190.5,626.3 1191.2,627.6 1192.0,629.2 1192.8,631.1 1193.5,633.4 1194.2,636.1 1195.0,639.1 1195.8,642.5 1196.5,646.2 1197.2,650.2 1198.0,654.5 1198.8,659.1 1199.5,664.0 1200.2,669.0 1201.0,674.3 1201.8,679.7 1202.5,685.3 1203.2,691.0 1204.0,696.8 1204.8,702.6 1205.5,708.5 1206.2,714.4 1207.0,720.3 1207.8,726.1 1208.5,731.9 1209.2,737.4 1210.0,742.9 1210.8,748.1 1211.5,753.1 1212.2,757.9 1213.0,762.4 1213.8,766.6 1214.5,770.5 1215.2,774.1 1216.0,777.6 1216.8,780.7 1217.5,783.6 1218.2,786.3 1219.0,788.8 1219.8,791.1 1220.5,793.2 1221.2,795.0 1222.0,796.7 1222.8,798.3 1223.5,799.6 1224.2,800.8 1225.0,801.9 1225.8,802.8 1226.5,803.7 1227.2,804.4 1228.0,805.0 1228.8,805.5 1229.5,805.9 1230.2,806.3 1231.0,806.6 1231.8,806.8 1232.5,807.0 1233.2,807.2 1234.0,807.3 1234.8,807.5 1235.5,807.6 1236.2,807.7 1237.0,807.9 1237.8,808.1 1238.5,808.3 1239.2,808.5 1240.0,808.7 1240.8,809.0 1241.5,809.2 1242.2,809.4 1243.0,809.6 1243.8,809.8 1244.5,810.0 1245.2,810.2 1246.0,810.3 1246.8,810.4 1247.5,810.4 1248.2,810.4 1249.0,810.3 1249.8,810.2 1250.5,810.0 1251.2,809.8 1252.0,809.5 1252.8,809.1 1252.9,809.0" fill="none" stroke="#505050" stroke-width="1.8" stroke-linejoin="round" stroke-linecap="round" />
<g transform="translate(1125.30,665.60) scale(0.9798,1) translate(-0.10,0)" fill="#1e1e1e" font-weight="normal" font-style="normal" stroke="#1e1e1e" stroke-width="0.3" stroke-linejoin="round"><text x="0.00" y="0.00" font-size="20.50">VO</text><text x="29.62" y="6.50" font-size="13.50">2</text></g>
<g transform="translate(1097.70,716.10) scale(0.9937,1) translate(-0.10,0)" fill="#1e1e1e" font-weight="normal" font-style="normal" stroke="#1e1e1e" stroke-width="0.3" stroke-linejoin="round"><text x="0.00" y="0.00" font-size="20.50">V</text><text x="13.67" y="6.50" font-size="13.50">2</text><text x="21.18" y="0.00" font-size="20.50">O</text><text x="37.13" y="6.50" font-size="13.50">5</text></g>
<g transform="translate(1040.20,747.20) scale(1.0297,1) translate(-1.64,0)" fill="#1e1e1e" font-weight="normal" font-style="normal" stroke="#1e1e1e" stroke-width="0.3" stroke-linejoin="round"><text x="0.00" y="0.00" font-size="20.50">B</text><text x="13.67" y="6.50" font-size="13.50">2</text><text x="21.18" y="0.00" font-size="20.50">O</text><text x="37.13" y="6.50" font-size="13.50">3</text></g>
<line x1="1165.10" y1="663.30" x2="1190.31" y2="693.92" stroke="#3a6cbf" stroke-width="2.2"/>
<polygon points="1195.40,700.10 1186.21,696.01 1193.15,690.29" fill="#3a6cbf"/>
<line x1="1139.80" y1="723.00" x2="1163.29" y2="750.33" stroke="#3a6cbf" stroke-width="2.2"/>
<polygon points="1168.50,756.40 1159.22,752.51 1166.05,746.64" fill="#3a6cbf"/>
<line x1="1087.40" y1="747.90" x2="1103.00" y2="767.36" stroke="#3a6cbf" stroke-width="2.2"/>
<polygon points="1108.00,773.60 1098.86,769.39 1105.88,763.76" fill="#3a6cbf"/>
<rect x="900" y="815" width="13" height="25" fill="#fff"/>
</g>
</svg></body></html>
